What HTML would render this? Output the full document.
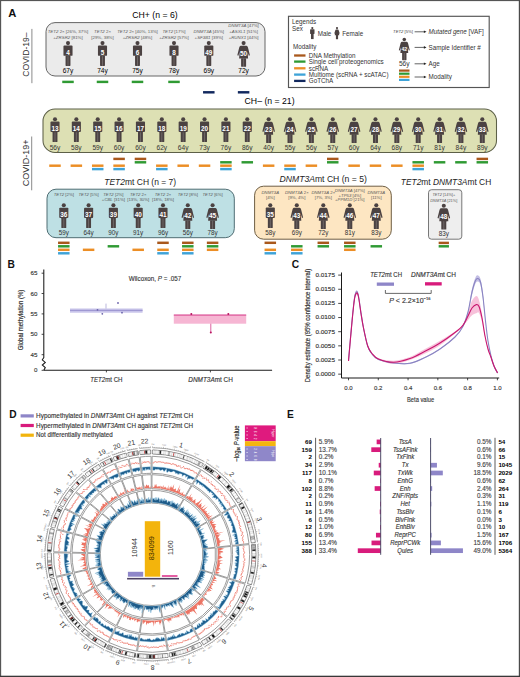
<!DOCTYPE html>
<html><head><meta charset="utf-8"><style>
html,body{margin:0;padding:0;background:#fff;}
#wrap{position:relative;width:520px;height:677px;overflow:hidden;background:#fff;}
svg text{font-family:"Liberation Sans",sans-serif;}
</style></head><body><div id="wrap">
<svg width="520" height="677" viewBox="0 0 520 677" font-family="Liberation Sans, sans-serif">
<rect x="0" y="0" width="520" height="677" fill="#ffffff"/>
<text x="8.20" y="16.70" font-size="11.2" fill="#111" font-weight="bold" >A</text>
<text x="28.60" y="76.70" font-size="8.6" fill="#333" textLength="44.30" lengthAdjust="spacingAndGlyphs" transform="rotate(-90 28.60 76.70)" >COVID-19–</text>
<line x1="31.9" y1="28.9" x2="31.9" y2="83.2" stroke="#8a8a8a" stroke-width="1"/>
<text x="28.60" y="186.20" font-size="8.6" fill="#333" textLength="46.60" lengthAdjust="spacingAndGlyphs" transform="rotate(-90 28.60 186.20)" >COVID-19+</text>
<line x1="31.7" y1="136.5" x2="31.7" y2="190.3" stroke="#8a8a8a" stroke-width="1"/>
<text x="155.00" y="18.00" font-size="8.7" text-anchor="middle" textLength="45.40" lengthAdjust="spacingAndGlyphs" >CH+ (n = 6)</text>
<rect x="46" y="22.6" width="219" height="53.4" rx="9" fill="#ebebeb" stroke="#666" stroke-width="1.0"/>
<g transform="translate(68.00 41.00) scale(1.0)"><g fill="#4b4242"><circle cx="0" cy="2.1" r="2.05"/><rect x="-4.55" y="4.5" width="9.1" height="10.3" rx="0.9"/><rect x="-2.45" y="14.5" width="4.9" height="10.4" rx="0.6"/></g><line x1="0" y1="15.2" x2="0" y2="24.9" stroke="#ffffff" stroke-opacity="0.45" stroke-width="0.45"/><text x="0" y="14.2" font-size="6.4" text-anchor="middle" fill="#ffffff" font-weight="bold">4</text></g>
<text x="68.00" y="73.00" font-size="7.13" text-anchor="middle" textLength="10.64" lengthAdjust="spacingAndGlyphs" >67y</text>
<text x="68.00" y="32.90" font-size="4.4" text-anchor="middle" fill="#5a5a5a"><tspan font-style="italic">TET2</tspan> 2× [26%, 37%]</text>
<text x="68.00" y="38.50" font-size="4.4" text-anchor="middle" fill="#5a5a5a">+<tspan font-style="italic">ZRSR2</tspan> [81%]</text>
<rect x="62.25" y="80.68" width="11.5" height="2.45" fill="#2f9a33"/>
<g transform="translate(102.50 41.00) scale(1.0)"><g fill="#4b4242"><circle cx="0" cy="2.1" r="2.05"/><rect x="-4.55" y="4.5" width="9.1" height="10.3" rx="0.9"/><rect x="-2.45" y="14.5" width="4.9" height="10.4" rx="0.6"/></g><line x1="0" y1="15.2" x2="0" y2="24.9" stroke="#ffffff" stroke-opacity="0.45" stroke-width="0.45"/><text x="0" y="14.2" font-size="6.4" text-anchor="middle" fill="#ffffff" font-weight="bold">5</text></g>
<text x="102.50" y="73.00" font-size="7.13" text-anchor="middle" textLength="10.64" lengthAdjust="spacingAndGlyphs" >74y</text>
<text x="102.50" y="32.90" font-size="4.4" text-anchor="middle" fill="#5a5a5a"><tspan font-style="italic">TET2</tspan> 2×</text>
<text x="102.50" y="38.50" font-size="4.4" text-anchor="middle" fill="#5a5a5a">[29%, 38%]</text>
<rect x="96.75" y="80.68" width="11.5" height="2.45" fill="#2f9a33"/>
<g transform="translate(137.50 41.00) scale(1.0)"><g fill="#4b4242"><circle cx="0" cy="2.1" r="2.05"/><rect x="-4.55" y="4.5" width="9.1" height="10.3" rx="0.9"/><rect x="-2.45" y="14.5" width="4.9" height="10.4" rx="0.6"/></g><line x1="0" y1="15.2" x2="0" y2="24.9" stroke="#ffffff" stroke-opacity="0.45" stroke-width="0.45"/><text x="0" y="14.2" font-size="6.4" text-anchor="middle" fill="#ffffff" font-weight="bold">6</text></g>
<text x="137.50" y="73.00" font-size="7.13" text-anchor="middle" textLength="10.64" lengthAdjust="spacingAndGlyphs" >75y</text>
<text x="137.50" y="32.90" font-size="4.4" text-anchor="middle" fill="#5a5a5a"><tspan font-style="italic">TET2</tspan> 2× [40%, 13%]</text>
<text x="137.50" y="38.50" font-size="4.4" text-anchor="middle" fill="#5a5a5a">+<tspan font-style="italic">ZRSR2</tspan> [48%]</text>
<rect x="131.75" y="80.68" width="11.5" height="2.45" fill="#2f9a33"/>
<g transform="translate(174.00 41.00) scale(1.0)"><g fill="#4b4242"><circle cx="0" cy="2.1" r="2.05"/><rect x="-4.55" y="4.5" width="9.1" height="10.3" rx="0.9"/><rect x="-2.45" y="14.5" width="4.9" height="10.4" rx="0.6"/></g><line x1="0" y1="15.2" x2="0" y2="24.9" stroke="#ffffff" stroke-opacity="0.45" stroke-width="0.45"/><text x="0" y="14.2" font-size="6.4" text-anchor="middle" fill="#ffffff" font-weight="bold">8</text></g>
<text x="174.00" y="73.00" font-size="7.13" text-anchor="middle" textLength="10.64" lengthAdjust="spacingAndGlyphs" >78y</text>
<text x="174.00" y="32.90" font-size="4.4" text-anchor="middle" fill="#5a5a5a"><tspan font-style="italic">TET2</tspan> [17%]</text>
<text x="174.00" y="38.50" font-size="4.4" text-anchor="middle" fill="#5a5a5a">+<tspan font-style="italic">ZRSR2</tspan> [57%]</text>
<rect x="168.25" y="80.68" width="11.5" height="2.45" fill="#2f9a33"/>
<g transform="translate(208.80 41.00) scale(1.0)"><g fill="#4b4242"><circle cx="0" cy="2.1" r="2.05"/><rect x="-4.55" y="4.5" width="9.1" height="10.3" rx="0.9"/><rect x="-2.45" y="14.5" width="4.9" height="10.4" rx="0.6"/></g><line x1="0" y1="15.2" x2="0" y2="24.9" stroke="#ffffff" stroke-opacity="0.45" stroke-width="0.45"/><text x="0" y="14.2" font-size="6.4" text-anchor="middle" fill="#ffffff" font-weight="bold">49</text></g>
<text x="208.80" y="73.00" font-size="7.13" text-anchor="middle" textLength="10.64" lengthAdjust="spacingAndGlyphs" >69y</text>
<text x="208.80" y="32.90" font-size="4.4" text-anchor="middle" fill="#5a5a5a"><tspan font-style="italic">DNMT3A</tspan> [45%]</text>
<text x="208.80" y="38.50" font-size="4.4" text-anchor="middle" fill="#5a5a5a">+<tspan font-style="italic">SF3B1</tspan> [39%]</text>
<rect x="203.05" y="91.08" width="11.5" height="2.45" fill="#12285e"/>
<g transform="translate(243.60 41.00) scale(1.0)"><g fill="#4b4242"><circle cx="0" cy="2.1" r="2.05"/><path d="M-2.9,4.7 L2.9,4.7 Q3.9,4.9 4.3,6.3 L6.3,14.3 L5.2,14.8 L4.0,11 L4.5,17.6 L-4.5,17.6 L-4.0,11 L-5.2,14.8 L-6.3,14.3 L-4.3,6.3 Q-3.9,4.9 -2.9,4.7 Z"/><rect x="-2.5" y="17.2" width="5.0" height="8.6" rx="0.5"/></g><line x1="0" y1="17.6" x2="0" y2="25.8" stroke="#ffffff" stroke-opacity="0.45" stroke-width="0.45"/><text x="0" y="15.2" font-size="6.4" text-anchor="middle" fill="#ffffff" font-weight="bold">50</text></g>
<text x="243.60" y="73.00" font-size="7.13" text-anchor="middle" textLength="10.64" lengthAdjust="spacingAndGlyphs" >72y</text>
<text x="243.60" y="27.20" font-size="4.4" text-anchor="middle" fill="#5a5a5a"><tspan font-style="italic">DNMT3A</tspan> [47%]</text>
<text x="243.60" y="32.90" font-size="4.4" text-anchor="middle" fill="#5a5a5a">+<tspan font-style="italic">ASXL1</tspan> [51%]</text>
<text x="243.60" y="38.50" font-size="4.4" text-anchor="middle" fill="#5a5a5a">+<tspan font-style="italic">RUNX1</tspan> [44%]</text>
<rect x="237.85" y="91.08" width="11.5" height="2.45" fill="#12285e"/>
<rect x="288.5" y="16.3" width="200.7" height="71.2" fill="#ffffff" stroke="#555" stroke-width="1.15"/>
<text x="292.00" y="24.00" font-size="6.27" fill="#333" >Legends</text>
<text x="292.00" y="30.80" font-size="6.27" fill="#333" >Sex</text>
<g transform="translate(312.3 27.0) scale(0.47)" fill="#4b4242"><circle cx="0" cy="2.3" r="2.3"/><rect x="-4.7" y="5" width="9.4" height="10" rx="1"/><rect x="-2.8" y="14.5" width="5.6" height="11.2"/></g>
<text x="317.70" y="35.60" font-size="6.27" fill="#333" >Male</text>
<g transform="translate(337 27.0) scale(0.47)" fill="#4b4242"><circle cx="0" cy="2.3" r="2.3"/><path d="M-2.5,5.2 L2.5,5.2 L3.8,7.5 L6,14.3 L5,14.6 L4,12 L4.8,17.4 L-4.8,17.4 L-4,12 L-5,14.6 L-6,14.3 L-3.8,7.5 Z"/><rect x="-2.3" y="17" width="4.6" height="9"/></g>
<text x="342.30" y="35.60" font-size="6.27" fill="#333" >Female</text>
<text x="293.00" y="48.60" font-size="6.27" fill="#333" >Modality</text>
<rect x="294.1" y="54.35" width="11.4" height="2.3" fill="#a9581c"/>
<text x="308.80" y="57.70" font-size="6.27" fill="#333" >DNA Methylation</text>
<rect x="294.1" y="60.45" width="11.4" height="2.3" fill="#2f9a33"/>
<text x="308.80" y="63.80" font-size="6.27" fill="#333" >Single cell proteogenomics</text>
<rect x="294.1" y="67.15" width="11.4" height="2.3" fill="#ec8e25"/>
<text x="308.80" y="70.50" font-size="6.27" fill="#333" >scRNA</text>
<rect x="294.1" y="73.45" width="11.4" height="2.3" fill="#3ea3d8"/>
<text x="308.80" y="76.80" font-size="6.27" fill="#333" >Multiome (scRNA + scATAC)</text>
<rect x="294.1" y="79.75" width="11.4" height="2.3" fill="#12285e"/>
<text x="308.80" y="83.10" font-size="6.27" fill="#333" >GoTChA</text>
<text x="403" y="33.2" font-size="4.2" text-anchor="middle" fill="#444"><tspan font-style="italic">TET2</tspan> [5%]</text>
<line x1="414.6" y1="31.8" x2="424.5" y2="31.8" stroke="#222" stroke-width="0.7"/><path d="M423.9,30.5 L426.5,31.8 L423.9,33.1 Z" fill="#222"/>
<text x="428.5" y="33.9" font-size="6.27" fill="#333"><tspan font-style="italic">Mutated gene</tspan> [VAF]</text>
<g transform="translate(404.30 37.70) scale(0.87)"><g fill="#4b4242"><circle cx="0" cy="2.1" r="2.05"/><path d="M-2.9,4.7 L2.9,4.7 Q3.9,4.9 4.3,6.3 L6.3,14.3 L5.2,14.8 L4.0,11 L4.5,17.6 L-4.5,17.6 L-4.0,11 L-5.2,14.8 L-6.3,14.3 L-4.3,6.3 Q-3.9,4.9 -2.9,4.7 Z"/><rect x="-2.5" y="17.2" width="5.0" height="8.6" rx="0.5"/></g><line x1="0" y1="17.6" x2="0" y2="25.8" stroke="#ffffff" stroke-opacity="0.45" stroke-width="0.45"/><text x="0" y="15.2" font-size="6.0" text-anchor="middle" fill="#ffffff" font-weight="bold">42</text></g>
<line x1="414.6" y1="47.4" x2="424.5" y2="47.4" stroke="#222" stroke-width="0.7"/><path d="M423.9,46.1 L426.5,47.4 L423.9,48.699999999999996 Z" fill="#222"/>
<text x="428.50" y="49.60" font-size="6.27" fill="#333" >Sample Identifier #</text>
<text x="404.30" y="66.00" font-size="6.7" text-anchor="middle" fill="#333" >56y</text>
<line x1="414.6" y1="63.8" x2="424.5" y2="63.8" stroke="#222" stroke-width="0.7"/><path d="M423.9,62.5 L426.5,63.8 L423.9,65.1 Z" fill="#222"/>
<text x="428.50" y="66.00" font-size="6.27" fill="#333" >Age</text>
<rect x="399" y="69.50" width="10.5" height="2.2" fill="#a9581c"/>
<rect x="399" y="72.60" width="10.5" height="2.2" fill="#2f9a33"/>
<rect x="399" y="75.70" width="10.5" height="2.2" fill="#ec8e25"/>
<rect x="399" y="78.80" width="10.5" height="2.2" fill="#3ea3d8"/>
<line x1="414.6" y1="77.0" x2="424.5" y2="77.0" stroke="#222" stroke-width="0.7"/><path d="M423.9,75.7 L426.5,77.0 L423.9,78.3 Z" fill="#222"/>
<text x="428.50" y="79.20" font-size="6.27" fill="#333" >Modality</text>
<text x="269.60" y="103.80" font-size="8.7" text-anchor="middle" textLength="50.00" lengthAdjust="spacingAndGlyphs" >CH– (n = 21)</text>
<rect x="43" y="109.0" width="453.5" height="43.5" rx="12" fill="#dde0b4" stroke="#5d6048" stroke-width="1.05"/>
<g transform="translate(55.00 117.10) scale(1.0)"><g fill="#4b4242"><circle cx="0" cy="2.1" r="2.05"/><rect x="-4.55" y="4.5" width="9.1" height="10.3" rx="0.9"/><rect x="-2.45" y="14.5" width="4.9" height="10.4" rx="0.6"/></g><line x1="0" y1="15.2" x2="0" y2="24.9" stroke="#ffffff" stroke-opacity="0.45" stroke-width="0.45"/><text x="0" y="14.2" font-size="6.4" text-anchor="middle" fill="#ffffff" font-weight="bold">13</text></g>
<text x="55.00" y="149.70" font-size="6.6" text-anchor="middle" fill="#333" >56y</text>
<rect x="49.25" y="164.47" width="11.5" height="2.45" fill="#ec8e25"/>
<g transform="translate(76.36 117.10) scale(1.0)"><g fill="#4b4242"><circle cx="0" cy="2.1" r="2.05"/><rect x="-4.55" y="4.5" width="9.1" height="10.3" rx="0.9"/><rect x="-2.45" y="14.5" width="4.9" height="10.4" rx="0.6"/></g><line x1="0" y1="15.2" x2="0" y2="24.9" stroke="#ffffff" stroke-opacity="0.45" stroke-width="0.45"/><text x="0" y="14.2" font-size="6.4" text-anchor="middle" fill="#ffffff" font-weight="bold">14</text></g>
<text x="76.36" y="149.70" font-size="6.6" text-anchor="middle" fill="#333" >58y</text>
<rect x="70.61" y="164.47" width="11.5" height="2.45" fill="#ec8e25"/>
<g transform="translate(97.73 117.10) scale(1.0)"><g fill="#4b4242"><circle cx="0" cy="2.1" r="2.05"/><rect x="-4.55" y="4.5" width="9.1" height="10.3" rx="0.9"/><rect x="-2.45" y="14.5" width="4.9" height="10.4" rx="0.6"/></g><line x1="0" y1="15.2" x2="0" y2="24.9" stroke="#ffffff" stroke-opacity="0.45" stroke-width="0.45"/><text x="0" y="14.2" font-size="6.4" text-anchor="middle" fill="#ffffff" font-weight="bold">15</text></g>
<text x="97.73" y="149.70" font-size="6.6" text-anchor="middle" fill="#333" >59y</text>
<rect x="91.98" y="164.47" width="11.5" height="2.45" fill="#ec8e25"/>
<rect x="91.98" y="167.88" width="11.5" height="2.45" fill="#3ea3d8"/>
<g transform="translate(119.09 117.10) scale(1.0)"><g fill="#4b4242"><circle cx="0" cy="2.1" r="2.05"/><rect x="-4.55" y="4.5" width="9.1" height="10.3" rx="0.9"/><rect x="-2.45" y="14.5" width="4.9" height="10.4" rx="0.6"/></g><line x1="0" y1="15.2" x2="0" y2="24.9" stroke="#ffffff" stroke-opacity="0.45" stroke-width="0.45"/><text x="0" y="14.2" font-size="6.4" text-anchor="middle" fill="#ffffff" font-weight="bold">16</text></g>
<text x="119.09" y="149.70" font-size="6.6" text-anchor="middle" fill="#333" >60y</text>
<rect x="113.34" y="157.68" width="11.5" height="2.45" fill="#a9581c"/>
<rect x="113.34" y="164.47" width="11.5" height="2.45" fill="#ec8e25"/>
<rect x="113.34" y="167.88" width="11.5" height="2.45" fill="#3ea3d8"/>
<g transform="translate(140.46 117.10) scale(1.0)"><g fill="#4b4242"><circle cx="0" cy="2.1" r="2.05"/><rect x="-4.55" y="4.5" width="9.1" height="10.3" rx="0.9"/><rect x="-2.45" y="14.5" width="4.9" height="10.4" rx="0.6"/></g><line x1="0" y1="15.2" x2="0" y2="24.9" stroke="#ffffff" stroke-opacity="0.45" stroke-width="0.45"/><text x="0" y="14.2" font-size="6.4" text-anchor="middle" fill="#ffffff" font-weight="bold">17</text></g>
<text x="140.46" y="149.70" font-size="6.6" text-anchor="middle" fill="#333" >60y</text>
<rect x="134.71" y="157.68" width="11.5" height="2.45" fill="#a9581c"/>
<rect x="134.71" y="161.08" width="11.5" height="2.45" fill="#2f9a33"/>
<g transform="translate(161.82 117.10) scale(1.0)"><g fill="#4b4242"><circle cx="0" cy="2.1" r="2.05"/><rect x="-4.55" y="4.5" width="9.1" height="10.3" rx="0.9"/><rect x="-2.45" y="14.5" width="4.9" height="10.4" rx="0.6"/></g><line x1="0" y1="15.2" x2="0" y2="24.9" stroke="#ffffff" stroke-opacity="0.45" stroke-width="0.45"/><text x="0" y="14.2" font-size="6.4" text-anchor="middle" fill="#ffffff" font-weight="bold">18</text></g>
<text x="161.82" y="149.70" font-size="6.6" text-anchor="middle" fill="#333" >62y</text>
<rect x="156.07" y="164.47" width="11.5" height="2.45" fill="#ec8e25"/>
<rect x="156.07" y="167.88" width="11.5" height="2.45" fill="#3ea3d8"/>
<g transform="translate(183.19 117.10) scale(1.0)"><g fill="#4b4242"><circle cx="0" cy="2.1" r="2.05"/><rect x="-4.55" y="4.5" width="9.1" height="10.3" rx="0.9"/><rect x="-2.45" y="14.5" width="4.9" height="10.4" rx="0.6"/></g><line x1="0" y1="15.2" x2="0" y2="24.9" stroke="#ffffff" stroke-opacity="0.45" stroke-width="0.45"/><text x="0" y="14.2" font-size="6.4" text-anchor="middle" fill="#ffffff" font-weight="bold">19</text></g>
<text x="183.19" y="149.70" font-size="6.6" text-anchor="middle" fill="#333" >64y</text>
<rect x="177.44" y="164.47" width="11.5" height="2.45" fill="#ec8e25"/>
<g transform="translate(204.55 117.10) scale(1.0)"><g fill="#4b4242"><circle cx="0" cy="2.1" r="2.05"/><rect x="-4.55" y="4.5" width="9.1" height="10.3" rx="0.9"/><rect x="-2.45" y="14.5" width="4.9" height="10.4" rx="0.6"/></g><line x1="0" y1="15.2" x2="0" y2="24.9" stroke="#ffffff" stroke-opacity="0.45" stroke-width="0.45"/><text x="0" y="14.2" font-size="6.4" text-anchor="middle" fill="#ffffff" font-weight="bold">20</text></g>
<text x="204.55" y="149.70" font-size="6.6" text-anchor="middle" fill="#333" >73y</text>
<rect x="198.80" y="164.47" width="11.5" height="2.45" fill="#ec8e25"/>
<g transform="translate(225.92 117.10) scale(1.0)"><g fill="#4b4242"><circle cx="0" cy="2.1" r="2.05"/><rect x="-4.55" y="4.5" width="9.1" height="10.3" rx="0.9"/><rect x="-2.45" y="14.5" width="4.9" height="10.4" rx="0.6"/></g><line x1="0" y1="15.2" x2="0" y2="24.9" stroke="#ffffff" stroke-opacity="0.45" stroke-width="0.45"/><text x="0" y="14.2" font-size="6.4" text-anchor="middle" fill="#ffffff" font-weight="bold">21</text></g>
<text x="225.92" y="149.70" font-size="6.6" text-anchor="middle" fill="#333" >76y</text>
<rect x="220.17" y="161.08" width="11.5" height="2.45" fill="#2f9a33"/>
<rect x="220.17" y="164.47" width="11.5" height="2.45" fill="#ec8e25"/>
<rect x="220.17" y="167.88" width="11.5" height="2.45" fill="#3ea3d8"/>
<g transform="translate(247.28 117.10) scale(1.0)"><g fill="#4b4242"><circle cx="0" cy="2.1" r="2.05"/><rect x="-4.55" y="4.5" width="9.1" height="10.3" rx="0.9"/><rect x="-2.45" y="14.5" width="4.9" height="10.4" rx="0.6"/></g><line x1="0" y1="15.2" x2="0" y2="24.9" stroke="#ffffff" stroke-opacity="0.45" stroke-width="0.45"/><text x="0" y="14.2" font-size="6.4" text-anchor="middle" fill="#ffffff" font-weight="bold">22</text></g>
<text x="247.28" y="149.70" font-size="6.6" text-anchor="middle" fill="#333" >86y</text>
<rect x="241.53" y="161.08" width="11.5" height="2.45" fill="#2f9a33"/>
<g transform="translate(268.65 117.10) scale(1.0)"><g fill="#4b4242"><circle cx="0" cy="2.1" r="2.05"/><path d="M-2.9,4.7 L2.9,4.7 Q3.9,4.9 4.3,6.3 L6.3,14.3 L5.2,14.8 L4.0,11 L4.5,17.6 L-4.5,17.6 L-4.0,11 L-5.2,14.8 L-6.3,14.3 L-4.3,6.3 Q-3.9,4.9 -2.9,4.7 Z"/><rect x="-2.5" y="17.2" width="5.0" height="8.6" rx="0.5"/></g><line x1="0" y1="17.6" x2="0" y2="25.8" stroke="#ffffff" stroke-opacity="0.45" stroke-width="0.45"/><text x="0" y="15.2" font-size="6.4" text-anchor="middle" fill="#ffffff" font-weight="bold">23</text></g>
<text x="268.65" y="149.70" font-size="6.6" text-anchor="middle" fill="#333" >40y</text>
<rect x="262.90" y="164.47" width="11.5" height="2.45" fill="#ec8e25"/>
<g transform="translate(290.01 117.10) scale(1.0)"><g fill="#4b4242"><circle cx="0" cy="2.1" r="2.05"/><path d="M-2.9,4.7 L2.9,4.7 Q3.9,4.9 4.3,6.3 L6.3,14.3 L5.2,14.8 L4.0,11 L4.5,17.6 L-4.5,17.6 L-4.0,11 L-5.2,14.8 L-6.3,14.3 L-4.3,6.3 Q-3.9,4.9 -2.9,4.7 Z"/><rect x="-2.5" y="17.2" width="5.0" height="8.6" rx="0.5"/></g><line x1="0" y1="17.6" x2="0" y2="25.8" stroke="#ffffff" stroke-opacity="0.45" stroke-width="0.45"/><text x="0" y="15.2" font-size="6.4" text-anchor="middle" fill="#ffffff" font-weight="bold">24</text></g>
<text x="290.01" y="149.70" font-size="6.6" text-anchor="middle" fill="#333" >55y</text>
<rect x="284.26" y="164.47" width="11.5" height="2.45" fill="#ec8e25"/>
<rect x="284.26" y="167.88" width="11.5" height="2.45" fill="#3ea3d8"/>
<g transform="translate(311.38 117.10) scale(1.0)"><g fill="#4b4242"><circle cx="0" cy="2.1" r="2.05"/><path d="M-2.9,4.7 L2.9,4.7 Q3.9,4.9 4.3,6.3 L6.3,14.3 L5.2,14.8 L4.0,11 L4.5,17.6 L-4.5,17.6 L-4.0,11 L-5.2,14.8 L-6.3,14.3 L-4.3,6.3 Q-3.9,4.9 -2.9,4.7 Z"/><rect x="-2.5" y="17.2" width="5.0" height="8.6" rx="0.5"/></g><line x1="0" y1="17.6" x2="0" y2="25.8" stroke="#ffffff" stroke-opacity="0.45" stroke-width="0.45"/><text x="0" y="15.2" font-size="6.4" text-anchor="middle" fill="#ffffff" font-weight="bold">25</text></g>
<text x="311.38" y="149.70" font-size="6.6" text-anchor="middle" fill="#333" >56y</text>
<rect x="305.63" y="164.47" width="11.5" height="2.45" fill="#ec8e25"/>
<g transform="translate(332.75 117.10) scale(1.0)"><g fill="#4b4242"><circle cx="0" cy="2.1" r="2.05"/><path d="M-2.9,4.7 L2.9,4.7 Q3.9,4.9 4.3,6.3 L6.3,14.3 L5.2,14.8 L4.0,11 L4.5,17.6 L-4.5,17.6 L-4.0,11 L-5.2,14.8 L-6.3,14.3 L-4.3,6.3 Q-3.9,4.9 -2.9,4.7 Z"/><rect x="-2.5" y="17.2" width="5.0" height="8.6" rx="0.5"/></g><line x1="0" y1="17.6" x2="0" y2="25.8" stroke="#ffffff" stroke-opacity="0.45" stroke-width="0.45"/><text x="0" y="15.2" font-size="6.4" text-anchor="middle" fill="#ffffff" font-weight="bold">26</text></g>
<text x="332.75" y="149.70" font-size="6.6" text-anchor="middle" fill="#333" >57y</text>
<rect x="327.00" y="157.68" width="11.5" height="2.45" fill="#a9581c"/>
<rect x="327.00" y="161.08" width="11.5" height="2.45" fill="#2f9a33"/>
<g transform="translate(354.11 117.10) scale(1.0)"><g fill="#4b4242"><circle cx="0" cy="2.1" r="2.05"/><path d="M-2.9,4.7 L2.9,4.7 Q3.9,4.9 4.3,6.3 L6.3,14.3 L5.2,14.8 L4.0,11 L4.5,17.6 L-4.5,17.6 L-4.0,11 L-5.2,14.8 L-6.3,14.3 L-4.3,6.3 Q-3.9,4.9 -2.9,4.7 Z"/><rect x="-2.5" y="17.2" width="5.0" height="8.6" rx="0.5"/></g><line x1="0" y1="17.6" x2="0" y2="25.8" stroke="#ffffff" stroke-opacity="0.45" stroke-width="0.45"/><text x="0" y="15.2" font-size="6.4" text-anchor="middle" fill="#ffffff" font-weight="bold">27</text></g>
<text x="354.11" y="149.70" font-size="6.6" text-anchor="middle" fill="#333" >60y</text>
<rect x="348.36" y="164.47" width="11.5" height="2.45" fill="#ec8e25"/>
<g transform="translate(375.47 117.10) scale(1.0)"><g fill="#4b4242"><circle cx="0" cy="2.1" r="2.05"/><path d="M-2.9,4.7 L2.9,4.7 Q3.9,4.9 4.3,6.3 L6.3,14.3 L5.2,14.8 L4.0,11 L4.5,17.6 L-4.5,17.6 L-4.0,11 L-5.2,14.8 L-6.3,14.3 L-4.3,6.3 Q-3.9,4.9 -2.9,4.7 Z"/><rect x="-2.5" y="17.2" width="5.0" height="8.6" rx="0.5"/></g><line x1="0" y1="17.6" x2="0" y2="25.8" stroke="#ffffff" stroke-opacity="0.45" stroke-width="0.45"/><text x="0" y="15.2" font-size="6.4" text-anchor="middle" fill="#ffffff" font-weight="bold">28</text></g>
<text x="375.47" y="149.70" font-size="6.6" text-anchor="middle" fill="#333" >64y</text>
<rect x="369.72" y="164.47" width="11.5" height="2.45" fill="#ec8e25"/>
<g transform="translate(396.84 117.10) scale(1.0)"><g fill="#4b4242"><circle cx="0" cy="2.1" r="2.05"/><path d="M-2.9,4.7 L2.9,4.7 Q3.9,4.9 4.3,6.3 L6.3,14.3 L5.2,14.8 L4.0,11 L4.5,17.6 L-4.5,17.6 L-4.0,11 L-5.2,14.8 L-6.3,14.3 L-4.3,6.3 Q-3.9,4.9 -2.9,4.7 Z"/><rect x="-2.5" y="17.2" width="5.0" height="8.6" rx="0.5"/></g><line x1="0" y1="17.6" x2="0" y2="25.8" stroke="#ffffff" stroke-opacity="0.45" stroke-width="0.45"/><text x="0" y="15.2" font-size="6.4" text-anchor="middle" fill="#ffffff" font-weight="bold">29</text></g>
<text x="396.84" y="149.70" font-size="6.6" text-anchor="middle" fill="#333" >68y</text>
<rect x="391.09" y="164.47" width="11.5" height="2.45" fill="#ec8e25"/>
<g transform="translate(418.20 117.10) scale(1.0)"><g fill="#4b4242"><circle cx="0" cy="2.1" r="2.05"/><path d="M-2.9,4.7 L2.9,4.7 Q3.9,4.9 4.3,6.3 L6.3,14.3 L5.2,14.8 L4.0,11 L4.5,17.6 L-4.5,17.6 L-4.0,11 L-5.2,14.8 L-6.3,14.3 L-4.3,6.3 Q-3.9,4.9 -2.9,4.7 Z"/><rect x="-2.5" y="17.2" width="5.0" height="8.6" rx="0.5"/></g><line x1="0" y1="17.6" x2="0" y2="25.8" stroke="#ffffff" stroke-opacity="0.45" stroke-width="0.45"/><text x="0" y="15.2" font-size="6.4" text-anchor="middle" fill="#ffffff" font-weight="bold">30</text></g>
<text x="418.20" y="149.70" font-size="6.6" text-anchor="middle" fill="#333" >71y</text>
<rect x="412.45" y="161.08" width="11.5" height="2.45" fill="#2f9a33"/>
<rect x="412.45" y="164.47" width="11.5" height="2.45" fill="#ec8e25"/>
<rect x="412.45" y="167.88" width="11.5" height="2.45" fill="#3ea3d8"/>
<g transform="translate(439.57 117.10) scale(1.0)"><g fill="#4b4242"><circle cx="0" cy="2.1" r="2.05"/><path d="M-2.9,4.7 L2.9,4.7 Q3.9,4.9 4.3,6.3 L6.3,14.3 L5.2,14.8 L4.0,11 L4.5,17.6 L-4.5,17.6 L-4.0,11 L-5.2,14.8 L-6.3,14.3 L-4.3,6.3 Q-3.9,4.9 -2.9,4.7 Z"/><rect x="-2.5" y="17.2" width="5.0" height="8.6" rx="0.5"/></g><line x1="0" y1="17.6" x2="0" y2="25.8" stroke="#ffffff" stroke-opacity="0.45" stroke-width="0.45"/><text x="0" y="15.2" font-size="6.4" text-anchor="middle" fill="#ffffff" font-weight="bold">31</text></g>
<text x="439.57" y="149.70" font-size="6.6" text-anchor="middle" fill="#333" >81y</text>
<rect x="433.82" y="161.08" width="11.5" height="2.45" fill="#2f9a33"/>
<g transform="translate(460.93 117.10) scale(1.0)"><g fill="#4b4242"><circle cx="0" cy="2.1" r="2.05"/><path d="M-2.9,4.7 L2.9,4.7 Q3.9,4.9 4.3,6.3 L6.3,14.3 L5.2,14.8 L4.0,11 L4.5,17.6 L-4.5,17.6 L-4.0,11 L-5.2,14.8 L-6.3,14.3 L-4.3,6.3 Q-3.9,4.9 -2.9,4.7 Z"/><rect x="-2.5" y="17.2" width="5.0" height="8.6" rx="0.5"/></g><line x1="0" y1="17.6" x2="0" y2="25.8" stroke="#ffffff" stroke-opacity="0.45" stroke-width="0.45"/><text x="0" y="15.2" font-size="6.4" text-anchor="middle" fill="#ffffff" font-weight="bold">32</text></g>
<text x="460.93" y="149.70" font-size="6.6" text-anchor="middle" fill="#333" >84y</text>
<rect x="455.18" y="161.08" width="11.5" height="2.45" fill="#2f9a33"/>
<g transform="translate(482.30 117.10) scale(1.0)"><g fill="#4b4242"><circle cx="0" cy="2.1" r="2.05"/><path d="M-2.9,4.7 L2.9,4.7 Q3.9,4.9 4.3,6.3 L6.3,14.3 L5.2,14.8 L4.0,11 L4.5,17.6 L-4.5,17.6 L-4.0,11 L-5.2,14.8 L-6.3,14.3 L-4.3,6.3 Q-3.9,4.9 -2.9,4.7 Z"/><rect x="-2.5" y="17.2" width="5.0" height="8.6" rx="0.5"/></g><line x1="0" y1="17.6" x2="0" y2="25.8" stroke="#ffffff" stroke-opacity="0.45" stroke-width="0.45"/><text x="0" y="15.2" font-size="6.4" text-anchor="middle" fill="#ffffff" font-weight="bold">33</text></g>
<text x="482.30" y="149.70" font-size="6.6" text-anchor="middle" fill="#333" >89y</text>
<rect x="476.55" y="157.68" width="11.5" height="2.45" fill="#a9581c"/>
<rect x="476.55" y="161.08" width="11.5" height="2.45" fill="#2f9a33"/>
<text x="140.2" y="185.0" font-size="8.8" text-anchor="middle" fill="#222" textLength="71.8" lengthAdjust="spacingAndGlyphs"><tspan font-style="italic">TET2</tspan>mt CH (n = 7)</text>
<rect x="47" y="189.2" width="187.3" height="48.5" rx="9" fill="#bee0e4" stroke="#4f6d73" stroke-width="1.0"/>
<g transform="translate(63.80 203.20) scale(1.0)"><g fill="#4b4242"><circle cx="0" cy="2.1" r="2.05"/><rect x="-4.55" y="4.5" width="9.1" height="10.3" rx="0.9"/><rect x="-2.45" y="14.5" width="4.9" height="10.4" rx="0.6"/></g><line x1="0" y1="15.2" x2="0" y2="24.9" stroke="#ffffff" stroke-opacity="0.45" stroke-width="0.45"/><text x="0" y="14.2" font-size="6.4" text-anchor="middle" fill="#ffffff" font-weight="bold">36</text></g>
<text x="63.80" y="234.70" font-size="6.3" text-anchor="middle" fill="#333" >59y</text>
<text x="63.80" y="196.00" font-size="4.3" text-anchor="middle" fill="#5a5a5a"><tspan font-style="italic">TET2</tspan> [2%]</text>
<rect x="58.05" y="241.58" width="11.5" height="2.45" fill="#a9581c"/>
<rect x="58.05" y="245.08" width="11.5" height="2.45" fill="#2f9a33"/>
<rect x="58.05" y="248.58" width="11.5" height="2.45" fill="#ec8e25"/>
<rect x="58.05" y="252.08" width="11.5" height="2.45" fill="#3ea3d8"/>
<g transform="translate(88.60 203.20) scale(1.0)"><g fill="#4b4242"><circle cx="0" cy="2.1" r="2.05"/><rect x="-4.55" y="4.5" width="9.1" height="10.3" rx="0.9"/><rect x="-2.45" y="14.5" width="4.9" height="10.4" rx="0.6"/></g><line x1="0" y1="15.2" x2="0" y2="24.9" stroke="#ffffff" stroke-opacity="0.45" stroke-width="0.45"/><text x="0" y="14.2" font-size="6.4" text-anchor="middle" fill="#ffffff" font-weight="bold">37</text></g>
<text x="88.60" y="234.70" font-size="6.3" text-anchor="middle" fill="#333" >64y</text>
<text x="88.60" y="196.00" font-size="4.3" text-anchor="middle" fill="#5a5a5a"><tspan font-style="italic">TET2</tspan> [5%]</text>
<rect x="82.85" y="248.58" width="11.5" height="2.45" fill="#ec8e25"/>
<g transform="translate(113.40 203.20) scale(1.0)"><g fill="#4b4242"><circle cx="0" cy="2.1" r="2.05"/><rect x="-4.55" y="4.5" width="9.1" height="10.3" rx="0.9"/><rect x="-2.45" y="14.5" width="4.9" height="10.4" rx="0.6"/></g><line x1="0" y1="15.2" x2="0" y2="24.9" stroke="#ffffff" stroke-opacity="0.45" stroke-width="0.45"/><text x="0" y="14.2" font-size="6.4" text-anchor="middle" fill="#ffffff" font-weight="bold">39</text></g>
<text x="113.40" y="234.70" font-size="6.3" text-anchor="middle" fill="#333" >90y</text>
<text x="113.40" y="196.00" font-size="4.3" text-anchor="middle" fill="#5a5a5a"><tspan font-style="italic">TET2</tspan> [2%]</text>
<text x="113.40" y="200.60" font-size="4.3" text-anchor="middle" fill="#5a5a5a">+<tspan font-style="italic">CBL</tspan> [31%]</text>
<rect x="107.65" y="245.08" width="11.5" height="2.45" fill="#2f9a33"/>
<g transform="translate(138.20 203.20) scale(1.0)"><g fill="#4b4242"><circle cx="0" cy="2.1" r="2.05"/><rect x="-4.55" y="4.5" width="9.1" height="10.3" rx="0.9"/><rect x="-2.45" y="14.5" width="4.9" height="10.4" rx="0.6"/></g><line x1="0" y1="15.2" x2="0" y2="24.9" stroke="#ffffff" stroke-opacity="0.45" stroke-width="0.45"/><text x="0" y="14.2" font-size="6.4" text-anchor="middle" fill="#ffffff" font-weight="bold">40</text></g>
<text x="138.20" y="234.70" font-size="6.3" text-anchor="middle" fill="#333" >91y</text>
<text x="138.20" y="196.00" font-size="4.3" text-anchor="middle" fill="#5a5a5a"><tspan font-style="italic">TET2</tspan> 2×</text>
<text x="138.20" y="200.60" font-size="4.3" text-anchor="middle" fill="#5a5a5a">[13%, 30%]</text>
<rect x="132.45" y="248.58" width="11.5" height="2.45" fill="#ec8e25"/>
<g transform="translate(163.00 203.20) scale(1.0)"><g fill="#4b4242"><circle cx="0" cy="2.1" r="2.05"/><rect x="-4.55" y="4.5" width="9.1" height="10.3" rx="0.9"/><rect x="-2.45" y="14.5" width="4.9" height="10.4" rx="0.6"/></g><line x1="0" y1="15.2" x2="0" y2="24.9" stroke="#ffffff" stroke-opacity="0.45" stroke-width="0.45"/><text x="0" y="14.2" font-size="6.4" text-anchor="middle" fill="#ffffff" font-weight="bold">41</text></g>
<text x="163.00" y="234.70" font-size="6.3" text-anchor="middle" fill="#333" >96y</text>
<text x="163.00" y="196.00" font-size="4.3" text-anchor="middle" fill="#5a5a5a"><tspan font-style="italic">TET2</tspan> 2×</text>
<text x="163.00" y="200.60" font-size="4.3" text-anchor="middle" fill="#5a5a5a">[18%, 18%]</text>
<rect x="157.25" y="241.58" width="11.5" height="2.45" fill="#a9581c"/>
<rect x="157.25" y="248.58" width="11.5" height="2.45" fill="#ec8e25"/>
<rect x="157.25" y="252.08" width="11.5" height="2.45" fill="#3ea3d8"/>
<g transform="translate(187.80 203.20) scale(1.0)"><g fill="#4b4242"><circle cx="0" cy="2.1" r="2.05"/><path d="M-2.9,4.7 L2.9,4.7 Q3.9,4.9 4.3,6.3 L6.3,14.3 L5.2,14.8 L4.0,11 L4.5,17.6 L-4.5,17.6 L-4.0,11 L-5.2,14.8 L-6.3,14.3 L-4.3,6.3 Q-3.9,4.9 -2.9,4.7 Z"/><rect x="-2.5" y="17.2" width="5.0" height="8.6" rx="0.5"/></g><line x1="0" y1="17.6" x2="0" y2="25.8" stroke="#ffffff" stroke-opacity="0.45" stroke-width="0.45"/><text x="0" y="15.2" font-size="6.4" text-anchor="middle" fill="#ffffff" font-weight="bold">42</text></g>
<text x="187.80" y="234.70" font-size="6.3" text-anchor="middle" fill="#333" >56y</text>
<text x="187.80" y="196.00" font-size="4.3" text-anchor="middle" fill="#5a5a5a"><tspan font-style="italic">TET2</tspan> [8%]</text>
<rect x="182.05" y="241.58" width="11.5" height="2.45" fill="#a9581c"/>
<rect x="182.05" y="245.08" width="11.5" height="2.45" fill="#2f9a33"/>
<rect x="182.05" y="248.58" width="11.5" height="2.45" fill="#ec8e25"/>
<rect x="182.05" y="252.08" width="11.5" height="2.45" fill="#3ea3d8"/>
<g transform="translate(212.60 203.20) scale(1.0)"><g fill="#4b4242"><circle cx="0" cy="2.1" r="2.05"/><path d="M-2.9,4.7 L2.9,4.7 Q3.9,4.9 4.3,6.3 L6.3,14.3 L5.2,14.8 L4.0,11 L4.5,17.6 L-4.5,17.6 L-4.0,11 L-5.2,14.8 L-6.3,14.3 L-4.3,6.3 Q-3.9,4.9 -2.9,4.7 Z"/><rect x="-2.5" y="17.2" width="5.0" height="8.6" rx="0.5"/></g><line x1="0" y1="17.6" x2="0" y2="25.8" stroke="#ffffff" stroke-opacity="0.45" stroke-width="0.45"/><text x="0" y="15.2" font-size="6.4" text-anchor="middle" fill="#ffffff" font-weight="bold">45</text></g>
<text x="212.60" y="234.70" font-size="6.3" text-anchor="middle" fill="#333" >78y</text>
<text x="212.60" y="196.00" font-size="4.3" text-anchor="middle" fill="#5a5a5a"><tspan font-style="italic">TET2</tspan> [6%]</text>
<rect x="206.85" y="241.58" width="11.5" height="2.45" fill="#a9581c"/>
<rect x="206.85" y="245.08" width="11.5" height="2.45" fill="#2f9a33"/>
<rect x="206.85" y="248.58" width="11.5" height="2.45" fill="#ec8e25"/>
<text x="323.2" y="182.3" font-size="8.8" text-anchor="middle" fill="#222" textLength="87.4" lengthAdjust="spacingAndGlyphs"><tspan font-style="italic">DNMT3A</tspan>mt CH (n = 5)</text>
<rect x="254.6" y="186.2" width="136.7" height="53" rx="9" fill="#fde6c2" stroke="#6e5e44" stroke-width="1.0"/>
<g transform="translate(270.30 203.10) scale(1.0)"><g fill="#4b4242"><circle cx="0" cy="2.1" r="2.05"/><rect x="-4.55" y="4.5" width="9.1" height="10.3" rx="0.9"/><rect x="-2.45" y="14.5" width="4.9" height="10.4" rx="0.6"/></g><line x1="0" y1="15.2" x2="0" y2="24.9" stroke="#ffffff" stroke-opacity="0.45" stroke-width="0.45"/><text x="0" y="14.2" font-size="6.4" text-anchor="middle" fill="#ffffff" font-weight="bold">35</text></g>
<text x="270.30" y="235.30" font-size="6.3" text-anchor="middle" fill="#333" >58y</text>
<text x="270.30" y="194.30" font-size="4.3" text-anchor="middle" fill="#5a5a5a"><tspan font-style="italic">DNMT3A</tspan></text>
<text x="270.30" y="199.30" font-size="4.3" text-anchor="middle" fill="#5a5a5a">[4%]</text>
<rect x="264.55" y="241.58" width="11.5" height="2.45" fill="#a9581c"/>
<rect x="264.55" y="248.58" width="11.5" height="2.45" fill="#ec8e25"/>
<rect x="264.55" y="252.08" width="11.5" height="2.45" fill="#3ea3d8"/>
<g transform="translate(296.80 203.10) scale(1.0)"><g fill="#4b4242"><circle cx="0" cy="2.1" r="2.05"/><path d="M-2.9,4.7 L2.9,4.7 Q3.9,4.9 4.3,6.3 L6.3,14.3 L5.2,14.8 L4.0,11 L4.5,17.6 L-4.5,17.6 L-4.0,11 L-5.2,14.8 L-6.3,14.3 L-4.3,6.3 Q-3.9,4.9 -2.9,4.7 Z"/><rect x="-2.5" y="17.2" width="5.0" height="8.6" rx="0.5"/></g><line x1="0" y1="17.6" x2="0" y2="25.8" stroke="#ffffff" stroke-opacity="0.45" stroke-width="0.45"/><text x="0" y="15.2" font-size="6.4" text-anchor="middle" fill="#ffffff" font-weight="bold">43</text></g>
<text x="296.80" y="235.30" font-size="6.3" text-anchor="middle" fill="#333" >69y</text>
<text x="296.80" y="193.80" font-size="4.3" text-anchor="middle" fill="#5a5a5a"><tspan font-style="italic">DNMT3A</tspan> 2×</text>
<text x="296.80" y="198.80" font-size="4.3" text-anchor="middle" fill="#5a5a5a">[9%, 4%]</text>
<rect x="291.05" y="245.08" width="11.5" height="2.45" fill="#2f9a33"/>
<rect x="291.05" y="248.58" width="11.5" height="2.45" fill="#ec8e25"/>
<rect x="291.05" y="252.08" width="11.5" height="2.45" fill="#3ea3d8"/>
<g transform="translate(323.30 203.10) scale(1.0)"><g fill="#4b4242"><circle cx="0" cy="2.1" r="2.05"/><path d="M-2.9,4.7 L2.9,4.7 Q3.9,4.9 4.3,6.3 L6.3,14.3 L5.2,14.8 L4.0,11 L4.5,17.6 L-4.5,17.6 L-4.0,11 L-5.2,14.8 L-6.3,14.3 L-4.3,6.3 Q-3.9,4.9 -2.9,4.7 Z"/><rect x="-2.5" y="17.2" width="5.0" height="8.6" rx="0.5"/></g><line x1="0" y1="17.6" x2="0" y2="25.8" stroke="#ffffff" stroke-opacity="0.45" stroke-width="0.45"/><text x="0" y="15.2" font-size="6.4" text-anchor="middle" fill="#ffffff" font-weight="bold">44</text></g>
<text x="323.30" y="235.30" font-size="6.3" text-anchor="middle" fill="#333" >72y</text>
<text x="323.30" y="193.80" font-size="4.3" text-anchor="middle" fill="#5a5a5a"><tspan font-style="italic">DNMT3A</tspan> 2×</text>
<text x="323.30" y="198.80" font-size="4.3" text-anchor="middle" fill="#5a5a5a">[7%, 3%]</text>
<rect x="317.55" y="241.58" width="11.5" height="2.45" fill="#a9581c"/>
<rect x="317.55" y="245.08" width="11.5" height="2.45" fill="#2f9a33"/>
<g transform="translate(349.80 203.10) scale(1.0)"><g fill="#4b4242"><circle cx="0" cy="2.1" r="2.05"/><path d="M-2.9,4.7 L2.9,4.7 Q3.9,4.9 4.3,6.3 L6.3,14.3 L5.2,14.8 L4.0,11 L4.5,17.6 L-4.5,17.6 L-4.0,11 L-5.2,14.8 L-6.3,14.3 L-4.3,6.3 Q-3.9,4.9 -2.9,4.7 Z"/><rect x="-2.5" y="17.2" width="5.0" height="8.6" rx="0.5"/></g><line x1="0" y1="17.6" x2="0" y2="25.8" stroke="#ffffff" stroke-opacity="0.45" stroke-width="0.45"/><text x="0" y="15.2" font-size="6.4" text-anchor="middle" fill="#ffffff" font-weight="bold">46</text></g>
<text x="349.80" y="235.30" font-size="6.3" text-anchor="middle" fill="#333" >81y</text>
<text x="349.80" y="191.90" font-size="4.3" text-anchor="middle" fill="#5a5a5a"><tspan font-style="italic">DNMT3A</tspan> [47%]</text>
<text x="349.80" y="196.50" font-size="4.3" text-anchor="middle" fill="#5a5a5a">+<tspan font-style="italic">TP53</tspan> [4%]</text>
<text x="349.80" y="201.10" font-size="4.3" text-anchor="middle" fill="#5a5a5a">+<tspan font-style="italic">PPM1D</tspan> [21%]</text>
<rect x="344.05" y="241.58" width="11.5" height="2.45" fill="#a9581c"/>
<rect x="344.05" y="245.08" width="11.5" height="2.45" fill="#2f9a33"/>
<rect x="344.05" y="248.58" width="11.5" height="2.45" fill="#ec8e25"/>
<g transform="translate(376.30 203.10) scale(1.0)"><g fill="#4b4242"><circle cx="0" cy="2.1" r="2.05"/><path d="M-2.9,4.7 L2.9,4.7 Q3.9,4.9 4.3,6.3 L6.3,14.3 L5.2,14.8 L4.0,11 L4.5,17.6 L-4.5,17.6 L-4.0,11 L-5.2,14.8 L-6.3,14.3 L-4.3,6.3 Q-3.9,4.9 -2.9,4.7 Z"/><rect x="-2.5" y="17.2" width="5.0" height="8.6" rx="0.5"/></g><line x1="0" y1="17.6" x2="0" y2="25.8" stroke="#ffffff" stroke-opacity="0.45" stroke-width="0.45"/><text x="0" y="15.2" font-size="6.4" text-anchor="middle" fill="#ffffff" font-weight="bold">47</text></g>
<text x="376.30" y="235.30" font-size="6.3" text-anchor="middle" fill="#333" >83y</text>
<text x="376.30" y="194.30" font-size="4.3" text-anchor="middle" fill="#5a5a5a"><tspan font-style="italic">DNMT3A</tspan></text>
<text x="376.30" y="199.30" font-size="4.3" text-anchor="middle" fill="#5a5a5a">[11%]</text>
<rect x="370.55" y="245.08" width="11.5" height="2.45" fill="#2f9a33"/>
<text x="446.0" y="184.5" font-size="8.8" text-anchor="middle" fill="#222" textLength="90.4" lengthAdjust="spacingAndGlyphs"><tspan font-style="italic">TET2</tspan>mt <tspan font-style="italic">DNMT3A</tspan>mt CH</text>
<rect x="428.5" y="189.7" width="33.3" height="49.5" rx="3" fill="#eeeeee" stroke="#6a6a6a" stroke-width="0.9"/>
<g transform="translate(443.80 203.60) scale(1.0)"><g fill="#4b4242"><circle cx="0" cy="2.1" r="2.05"/><path d="M-2.9,4.7 L2.9,4.7 Q3.9,4.9 4.3,6.3 L6.3,14.3 L5.2,14.8 L4.0,11 L4.5,17.6 L-4.5,17.6 L-4.0,11 L-5.2,14.8 L-6.3,14.3 L-4.3,6.3 Q-3.9,4.9 -2.9,4.7 Z"/><rect x="-2.5" y="17.2" width="5.0" height="8.6" rx="0.5"/></g><line x1="0" y1="17.6" x2="0" y2="25.8" stroke="#ffffff" stroke-opacity="0.45" stroke-width="0.45"/><text x="0" y="15.2" font-size="6.4" text-anchor="middle" fill="#ffffff" font-weight="bold">48</text></g>
<text x="443.80" y="236.20" font-size="6.4" text-anchor="middle" fill="#333" >83y</text>
<text x="443.80" y="196.00" font-size="3.9" text-anchor="middle" fill="#5a5a5a"><tspan font-style="italic">TET2</tspan> [14%]+</text>
<text x="443.80" y="201.60" font-size="3.9" text-anchor="middle" fill="#5a5a5a"><tspan font-style="italic">DNMT3A</tspan> [21%]</text>
<rect x="438.65" y="241.68" width="10.3" height="2.45" fill="#a9581c"/>
<rect x="438.65" y="245.08" width="10.3" height="2.45" fill="#2f9a33"/>
<text x="7.40" y="267.60" font-size="10.2" fill="#111" font-weight="bold" >B</text>
<polyline points="43.8,269.6 43.8,357.6 42.3,359.8 45.3,362.4 42.3,365.0 45.3,367.6 43.8,370.3" fill="none" stroke="#1a1a1a" stroke-width="1.05"/>
<line x1="43.8" y1="370.3" x2="272.1" y2="370.3" stroke="#1a1a1a" stroke-width="1.05"/>
<line x1="41.6" y1="273.2" x2="43.8" y2="273.2" stroke="#1a1a1a" stroke-width="0.8"/>
<text x="37.40" y="275.30" font-size="6.2" text-anchor="end" fill="#333"  stroke="#333" stroke-width="0.13">65</text>
<line x1="41.6" y1="293.5" x2="43.8" y2="293.5" stroke="#1a1a1a" stroke-width="0.8"/>
<text x="37.40" y="295.60" font-size="6.2" text-anchor="end" fill="#333"  stroke="#333" stroke-width="0.13">60</text>
<line x1="41.6" y1="313.9" x2="43.8" y2="313.9" stroke="#1a1a1a" stroke-width="0.8"/>
<text x="37.40" y="316.00" font-size="6.2" text-anchor="end" fill="#333"  stroke="#333" stroke-width="0.13">55</text>
<line x1="41.6" y1="334.3" x2="43.8" y2="334.3" stroke="#1a1a1a" stroke-width="0.8"/>
<text x="37.40" y="336.40" font-size="6.2" text-anchor="end" fill="#333"  stroke="#333" stroke-width="0.13">50</text>
<line x1="41.6" y1="354.7" x2="43.8" y2="354.7" stroke="#1a1a1a" stroke-width="0.8"/>
<text x="37.40" y="356.80" font-size="6.2" text-anchor="end" fill="#333"  stroke="#333" stroke-width="0.13">45</text>
<line x1="41.6" y1="370.3" x2="43.8" y2="370.3" stroke="#1a1a1a" stroke-width="0.8"/>
<text x="37.40" y="372.40" font-size="6.2" text-anchor="end" fill="#333"  stroke="#333" stroke-width="0.13">0</text>
<text x="23.00" y="320.00" font-size="7.0" text-anchor="middle" fill="#333" textLength="60.40" lengthAdjust="spacingAndGlyphs" transform="rotate(-90 23.00 320.00)" stroke="#333" stroke-width="0.18">Global methylation (%)</text>
<line x1="106.4" y1="370.3" x2="106.4" y2="372.4" stroke="#1a1a1a" stroke-width="0.8"/>
<line x1="210.4" y1="370.3" x2="210.4" y2="372.4" stroke="#1a1a1a" stroke-width="0.8"/>
<text x="106.4" y="382.4" font-size="6.9" text-anchor="middle" fill="#333" textLength="32.3" lengthAdjust="spacingAndGlyphs" stroke="#333" stroke-width="0.13"><tspan font-style="italic">TET2</tspan>mt CH</text>
<text x="210.6" y="382.4" font-size="6.9" text-anchor="middle" fill="#333" textLength="44.5" lengthAdjust="spacingAndGlyphs" stroke="#333" stroke-width="0.13"><tspan font-style="italic">DNMT3A</tspan>mt CH</text>
<text x="128.8" y="281.2" font-size="6.8" fill="#333" textLength="52.5" lengthAdjust="spacingAndGlyphs" stroke="#333" stroke-width="0.13">Wilcoxon, <tspan font-style="italic">P</tspan> = .057</text>
<rect x="70" y="308.5" width="72.6" height="4.2" fill="#c8c4ea"/>
<line x1="70" y1="310.4" x2="142.6" y2="310.4" stroke="#8e86c8" stroke-width="0.8"/>
<line x1="106" y1="303.6" x2="106" y2="308.5" stroke="#8e86c8" stroke-width="0.6"/>
<circle cx="97.5" cy="309.8" r="0.9" fill="#6a62aa"/>
<circle cx="102.3" cy="313.8" r="0.9" fill="#6a62aa"/>
<circle cx="118" cy="303" r="0.9" fill="#6a62aa"/>
<circle cx="122" cy="312.7" r="0.9" fill="#6a62aa"/>
<rect x="173.8" y="315" width="72.4" height="8.7" fill="#f6b6d3"/>
<line x1="173.8" y1="315" x2="246.2" y2="315" stroke="#cf1f78" stroke-width="0.9"/>
<line x1="210.8" y1="323.7" x2="210.8" y2="332.5" stroke="#cf1f78" stroke-width="0.7"/>
<circle cx="191.3" cy="313.9" r="1.0" fill="#b8145f"/>
<circle cx="228.3" cy="313.9" r="1.0" fill="#b8145f"/>
<circle cx="210.8" cy="332.5" r="1.0" fill="#b8145f"/>
<text x="291.70" y="267.60" font-size="10.2" fill="#111" font-weight="bold" >C</text>
<line x1="341.5" y1="272.5" x2="341.5" y2="378" stroke="#1a1a1a" stroke-width="1.05"/>
<line x1="341.5" y1="378" x2="499.2" y2="378" stroke="#1a1a1a" stroke-width="1.05"/>
<line x1="338.2" y1="275.10" x2="341.5" y2="275.10" stroke="#1a1a1a" stroke-width="0.8"/>
<text x="335.00" y="277.00" font-size="5.4" text-anchor="end" fill="#333" textLength="19.60" lengthAdjust="spacingAndGlyphs"  stroke="#333" stroke-width="0.13">0.0175</text>
<line x1="338.2" y1="289.25" x2="341.5" y2="289.25" stroke="#1a1a1a" stroke-width="0.8"/>
<text x="335.00" y="291.15" font-size="5.4" text-anchor="end" fill="#333" textLength="19.60" lengthAdjust="spacingAndGlyphs"  stroke="#333" stroke-width="0.13">0.0150</text>
<line x1="338.2" y1="303.40" x2="341.5" y2="303.40" stroke="#1a1a1a" stroke-width="0.8"/>
<text x="335.00" y="305.30" font-size="5.4" text-anchor="end" fill="#333" textLength="19.60" lengthAdjust="spacingAndGlyphs"  stroke="#333" stroke-width="0.13">0.0125</text>
<line x1="338.2" y1="317.55" x2="341.5" y2="317.55" stroke="#1a1a1a" stroke-width="0.8"/>
<text x="335.00" y="319.45" font-size="5.4" text-anchor="end" fill="#333" textLength="19.60" lengthAdjust="spacingAndGlyphs"  stroke="#333" stroke-width="0.13">0.0100</text>
<line x1="338.2" y1="331.70" x2="341.5" y2="331.70" stroke="#1a1a1a" stroke-width="0.8"/>
<text x="335.00" y="333.60" font-size="5.4" text-anchor="end" fill="#333" textLength="19.60" lengthAdjust="spacingAndGlyphs"  stroke="#333" stroke-width="0.13">0.0075</text>
<line x1="338.2" y1="345.85" x2="341.5" y2="345.85" stroke="#1a1a1a" stroke-width="0.8"/>
<text x="335.00" y="347.75" font-size="5.4" text-anchor="end" fill="#333" textLength="19.60" lengthAdjust="spacingAndGlyphs"  stroke="#333" stroke-width="0.13">0.0050</text>
<line x1="338.2" y1="360.00" x2="341.5" y2="360.00" stroke="#1a1a1a" stroke-width="0.8"/>
<text x="335.00" y="361.90" font-size="5.4" text-anchor="end" fill="#333" textLength="19.60" lengthAdjust="spacingAndGlyphs"  stroke="#333" stroke-width="0.13">0.0025</text>
<line x1="338.2" y1="374.15" x2="341.5" y2="374.15" stroke="#1a1a1a" stroke-width="0.8"/>
<text x="335.00" y="376.05" font-size="5.4" text-anchor="end" fill="#333" textLength="19.60" lengthAdjust="spacingAndGlyphs"  stroke="#333" stroke-width="0.13">0.0000</text>
<text x="309.60" y="325.50" font-size="7.2" text-anchor="middle" fill="#333" textLength="113.50" lengthAdjust="spacingAndGlyphs" transform="rotate(-90 309.60 325.50)" stroke="#333" stroke-width="0.18">Density estimate (95% confidence interval)</text>
<line x1="348.50" y1="378" x2="348.50" y2="380.3" stroke="#1a1a1a" stroke-width="0.8"/>
<text x="348.50" y="389.80" font-size="6.0" text-anchor="middle" fill="#333"  stroke="#333" stroke-width="0.13">0.0</text>
<line x1="378.28" y1="378" x2="378.28" y2="380.3" stroke="#1a1a1a" stroke-width="0.8"/>
<text x="378.28" y="389.80" font-size="6.0" text-anchor="middle" fill="#333"  stroke="#333" stroke-width="0.13">0.2</text>
<line x1="408.06" y1="378" x2="408.06" y2="380.3" stroke="#1a1a1a" stroke-width="0.8"/>
<text x="408.06" y="389.80" font-size="6.0" text-anchor="middle" fill="#333"  stroke="#333" stroke-width="0.13">0.4</text>
<line x1="437.84" y1="378" x2="437.84" y2="380.3" stroke="#1a1a1a" stroke-width="0.8"/>
<text x="437.84" y="389.80" font-size="6.0" text-anchor="middle" fill="#333"  stroke="#333" stroke-width="0.13">0.6</text>
<line x1="467.62" y1="378" x2="467.62" y2="380.3" stroke="#1a1a1a" stroke-width="0.8"/>
<text x="467.62" y="389.80" font-size="6.0" text-anchor="middle" fill="#333"  stroke="#333" stroke-width="0.13">0.8</text>
<line x1="497.40" y1="378" x2="497.40" y2="380.3" stroke="#1a1a1a" stroke-width="0.8"/>
<text x="497.40" y="389.80" font-size="6.0" text-anchor="middle" fill="#333"  stroke="#333" stroke-width="0.13">1.0</text>
<text x="420.60" y="402.00" font-size="7.6" text-anchor="middle" fill="#333" textLength="27.20" lengthAdjust="spacingAndGlyphs" stroke="#333" stroke-width="0.15">Beta value</text>
<text x="386.1" y="276.8" font-size="6.8" text-anchor="middle" fill="#333" textLength="31.8" lengthAdjust="spacingAndGlyphs" stroke="#333" stroke-width="0.13"><tspan font-style="italic">TET2</tspan>mt CH</text>
<rect x="376.8" y="282.5" width="17.2" height="3.3" fill="#8e86c8"/>
<text x="433.5" y="276.6" font-size="6.8" text-anchor="middle" fill="#333" textLength="45" lengthAdjust="spacingAndGlyphs" stroke="#333" stroke-width="0.13"><tspan font-style="italic">DNMT3A</tspan>mt CH</text>
<rect x="425" y="282.2" width="16.7" height="3.3" fill="#d81b7c"/>
<polyline points="385.4,290 385.4,293.4 431.2,293.4 431.2,290" fill="none" stroke="#444" stroke-width="0.8"/>
<text x="389.2" y="303.0" font-size="6.6" fill="#333" textLength="41.3" lengthAdjust="spacingAndGlyphs" stroke="#333" stroke-width="0.13"><tspan font-style="italic">P</tspan> &lt; 2.2×10<tspan font-size="3.8" dy="-2.6">−16</tspan></text>
<path d="M348.50,360.40 C349.08,353.73 351.00,331.07 352.00,320.40 C353.00,309.73 353.73,301.43 354.50,296.40 C355.27,291.37 355.93,290.37 356.60,290.20 C357.27,290.03 357.77,291.70 358.50,295.40 C359.23,299.10 360.17,307.07 361.00,312.40 C361.83,317.73 362.38,321.90 363.50,327.40 C364.62,332.90 366.28,341.07 367.70,345.40 C369.12,349.73 370.20,351.15 372.00,353.40 C373.80,355.65 374.87,357.40 378.50,358.90 C382.13,360.40 388.55,361.77 393.80,362.40 C399.05,363.03 404.80,363.62 410.00,362.70 C415.20,361.78 420.00,359.28 425.00,356.90 C430.00,354.52 435.00,351.82 440.00,348.40 C445.00,344.98 451.18,340.15 455.00,336.40 C458.82,332.65 460.73,330.07 462.90,325.90 C465.07,321.73 466.48,317.57 468.00,311.40 C469.52,305.23 470.75,294.57 472.00,288.90 C473.25,283.23 474.50,279.65 475.50,277.40 C476.50,275.15 477.17,275.15 478.00,275.40 C478.83,275.65 479.67,275.82 480.50,278.90 C481.33,281.98 482.17,286.98 483.00,293.90 C483.83,300.82 484.67,312.65 485.50,320.40 C486.33,328.15 487.08,334.57 488.00,340.40 C488.92,346.23 490.00,351.23 491.00,355.40 C492.00,359.57 492.92,362.58 494.00,365.40 C495.08,368.22 496.92,371.15 497.50,372.30 L497.50,373.50 C496.92,372.35 495.08,369.42 494.00,366.60 C492.92,363.78 492.00,360.77 491.00,356.60 C490.00,352.43 488.92,347.43 488.00,341.60 C487.08,335.77 486.33,328.52 485.50,321.60 C484.67,314.68 483.83,306.18 483.00,300.10 C482.17,294.02 481.33,288.18 480.50,285.10 C479.67,282.02 478.83,281.85 478.00,281.60 C477.17,281.35 476.50,281.35 475.50,283.60 C474.50,285.85 473.25,290.27 472.00,295.10 C470.75,299.93 469.52,307.27 468.00,312.60 C466.48,317.93 465.07,322.93 462.90,327.10 C460.73,331.27 458.82,333.85 455.00,337.60 C451.18,341.35 445.00,346.18 440.00,349.60 C435.00,353.02 430.00,355.72 425.00,358.10 C420.00,360.48 415.20,362.98 410.00,363.90 C404.80,364.82 399.05,364.23 393.80,363.60 C388.55,362.97 382.13,361.60 378.50,360.10 C374.87,358.60 373.80,356.85 372.00,354.60 C370.20,352.35 369.12,350.93 367.70,346.60 C366.28,342.27 364.62,334.10 363.50,328.60 C362.38,323.10 361.83,318.93 361.00,313.60 C360.17,308.27 359.23,299.97 358.50,296.60 C357.77,293.23 357.27,292.90 356.60,293.40 C355.93,293.90 355.27,294.90 354.50,299.60 C353.73,304.30 353.00,311.27 352.00,321.60 C351.00,331.93 349.08,354.93 348.50,361.60 Z" fill="#a9a3d8" fill-opacity="0.7"/>
<path d="M348.50,360.30 C349.08,353.80 351.00,331.83 352.00,321.30 C353.00,310.77 353.73,302.13 354.50,297.10 C355.27,292.07 355.93,291.23 356.60,291.10 C357.27,290.97 357.77,292.68 358.50,296.30 C359.23,299.92 360.17,307.63 361.00,312.80 C361.83,317.97 362.38,321.88 363.50,327.30 C364.62,332.72 366.28,341.05 367.70,345.30 C369.12,349.55 370.20,350.63 372.00,352.80 C373.80,354.97 374.87,356.98 378.50,358.30 C382.13,359.62 388.55,360.92 393.80,360.71 C399.05,360.49 404.80,358.96 410.00,357.00 C415.20,355.05 420.00,351.70 425.00,348.99 C430.00,346.29 435.00,343.68 440.00,340.78 C445.00,337.87 451.18,334.24 455.00,331.55 C458.82,328.85 460.73,327.85 462.90,324.60 C465.07,321.35 466.48,316.00 468.00,312.03 C469.52,308.05 470.62,303.43 472.00,300.75 C473.38,298.08 475.13,296.08 476.30,295.96 C477.47,295.85 478.05,297.06 479.00,300.07 C479.95,303.08 481.00,308.29 482.00,314.03 C483.00,319.76 484.00,328.77 485.00,334.48 C486.00,340.19 487.03,344.70 488.00,348.30 C488.97,351.90 489.80,353.27 490.80,356.10 C491.80,358.93 492.88,362.62 494.00,365.30 C495.12,367.98 496.92,371.05 497.50,372.20 L497.50,373.60 C496.92,372.45 495.12,369.38 494.00,366.70 C492.88,364.02 491.80,360.33 490.80,357.50 C489.80,354.67 488.97,353.03 488.00,349.70 C487.03,346.37 486.00,342.14 485.00,337.52 C484.00,332.90 483.00,326.07 482.00,321.97 C481.00,317.87 479.95,314.38 479.00,312.93 C478.05,311.47 477.47,312.85 476.30,313.24 C475.13,313.62 473.38,314.12 472.00,315.25 C470.62,316.37 469.52,318.18 468.00,319.97 C466.48,321.77 465.07,323.75 462.90,326.00 C460.73,328.25 458.82,330.25 455.00,333.45 C451.18,336.66 445.00,341.86 440.00,345.22 C435.00,348.58 430.00,351.15 425.00,353.61 C420.00,356.07 415.20,358.28 410.00,360.00 C404.80,361.71 399.05,363.94 393.80,363.89 C388.55,363.84 382.13,361.32 378.50,359.70 C374.87,358.08 373.80,356.37 372.00,354.20 C370.20,352.03 369.12,350.95 367.70,346.70 C366.28,342.45 364.62,334.12 363.50,328.70 C362.38,323.28 361.83,319.37 361.00,314.20 C360.17,309.03 359.23,300.92 358.50,297.70 C357.77,294.48 357.27,294.37 356.60,294.90 C355.93,295.43 355.27,296.27 354.50,300.90 C353.73,305.53 353.00,312.57 352.00,322.70 C351.00,332.83 349.08,355.20 348.50,361.70 Z" fill="#f4a6ca" fill-opacity="0.7"/>
<path d="M348.50,361.00 C349.08,354.33 351.00,331.50 352.00,321.00 C353.00,310.50 353.73,302.87 354.50,298.00 C355.27,293.13 355.93,292.13 356.60,291.80 C357.27,291.47 357.77,292.47 358.50,296.00 C359.23,299.53 360.17,307.67 361.00,313.00 C361.83,318.33 362.38,322.50 363.50,328.00 C364.62,333.50 366.28,341.67 367.70,346.00 C369.12,350.33 370.20,351.75 372.00,354.00 C373.80,356.25 374.87,358.00 378.50,359.50 C382.13,361.00 388.55,362.37 393.80,363.00 C399.05,363.63 404.80,364.22 410.00,363.30 C415.20,362.38 420.00,359.88 425.00,357.50 C430.00,355.12 435.00,352.42 440.00,349.00 C445.00,345.58 451.18,340.75 455.00,337.00 C458.82,333.25 460.73,330.67 462.90,326.50 C465.07,322.33 466.48,317.75 468.00,312.00 C469.52,306.25 470.75,297.25 472.00,292.00 C473.25,286.75 474.50,282.75 475.50,280.50 C476.50,278.25 477.17,278.25 478.00,278.50 C478.83,278.75 479.67,278.92 480.50,282.00 C481.33,285.08 482.17,290.50 483.00,297.00 C483.83,303.50 484.67,313.67 485.50,321.00 C486.33,328.33 487.08,335.17 488.00,341.00 C488.92,346.83 490.00,351.83 491.00,356.00 C492.00,360.17 492.92,363.18 494.00,366.00 C495.08,368.82 496.92,371.75 497.50,372.90" fill="none" stroke="#8a84c2" stroke-width="1.1"/>
<path d="M348.50,361.00 C349.08,354.50 351.00,332.33 352.00,322.00 C353.00,311.67 353.73,303.83 354.50,299.00 C355.27,294.17 355.93,293.33 356.60,293.00 C357.27,292.67 357.77,293.58 358.50,297.00 C359.23,300.42 360.17,308.33 361.00,313.50 C361.83,318.67 362.38,322.58 363.50,328.00 C364.62,333.42 366.28,341.75 367.70,346.00 C369.12,350.25 370.20,351.33 372.00,353.50 C373.80,355.67 374.87,357.53 378.50,359.00 C382.13,360.47 388.55,362.38 393.80,362.30 C399.05,362.22 404.80,360.33 410.00,358.50 C415.20,356.67 420.00,353.88 425.00,351.30 C430.00,348.72 435.00,346.13 440.00,343.00 C445.00,339.87 451.18,335.45 455.00,332.50 C458.82,329.55 460.73,328.05 462.90,325.30 C465.07,322.55 466.48,318.88 468.00,316.00 C469.52,313.12 470.62,309.90 472.00,308.00 C473.38,306.10 475.13,304.85 476.30,304.60 C477.47,304.35 478.05,304.27 479.00,306.50 C479.95,308.73 481.00,313.08 482.00,318.00 C483.00,322.92 484.00,330.83 485.00,336.00 C486.00,341.17 487.03,345.53 488.00,349.00 C488.97,352.47 489.80,353.97 490.80,356.80 C491.80,359.63 492.88,363.32 494.00,366.00 C495.12,368.68 496.92,371.75 497.50,372.90" fill="none" stroke="#c8166f" stroke-width="1.1"/>
<text x="286.90" y="417.60" font-size="10.2" fill="#111" font-weight="bold" >E</text>
<text x="311.90" y="443.90" font-size="6.2" text-anchor="end" font-weight="bold" >69</text>
<text x="318.80" y="443.90" font-size="6.4" fill="#444"  stroke="#444" stroke-width="0.13">5.9%</text>
<rect x="376.65" y="439.55" width="4.05" height="4.7" fill="#d81b7c"/>
<text x="405.20" y="443.90" font-size="6.6" text-anchor="middle" fill="#333" font-style="italic" textLength="13.12" lengthAdjust="spacingAndGlyphs"  stroke="#333" stroke-width="0.13">TssA</text>
<rect x="430.6" y="439.55" width="0.33" height="4.7" fill="#8e86c8"/>
<text x="491.50" y="443.90" font-size="6.4" text-anchor="end" fill="#444"  stroke="#444" stroke-width="0.13">0.5%</text>
<text x="498.40" y="443.90" font-size="6.2" font-weight="bold" >54</text>
<text x="311.90" y="451.67" font-size="6.2" text-anchor="end" font-weight="bold" >159</text>
<text x="318.80" y="451.67" font-size="6.4" fill="#444"  stroke="#444" stroke-width="0.13">13.7%</text>
<rect x="371.30" y="447.32" width="9.40" height="4.7" fill="#d81b7c"/>
<text x="405.20" y="451.67" font-size="6.6" text-anchor="middle" fill="#333" font-style="italic" textLength="24.45" lengthAdjust="spacingAndGlyphs"  stroke="#333" stroke-width="0.13">TssAFlnk</text>
<rect x="430.6" y="447.32" width="0.40" height="4.7" fill="#8e86c8"/>
<text x="491.50" y="451.67" font-size="6.4" text-anchor="end" fill="#444"  stroke="#444" stroke-width="0.13">0.6%</text>
<text x="498.40" y="451.67" font-size="6.2" font-weight="bold" >66</text>
<text x="311.90" y="459.44" font-size="6.2" text-anchor="end" font-weight="bold" >2</text>
<text x="318.80" y="459.44" font-size="6.4" fill="#444"  stroke="#444" stroke-width="0.13">0.2%</text>
<rect x="380.56" y="455.09" width="0.14" height="4.7" fill="#d81b7c"/>
<text x="405.20" y="459.44" font-size="6.6" text-anchor="middle" fill="#333" font-style="italic" textLength="18.00" lengthAdjust="spacingAndGlyphs"  stroke="#333" stroke-width="0.13">TxFlnk</text>
<rect x="430.6" y="455.09" width="0.07" height="4.7" fill="#8e86c8"/>
<text x="491.50" y="459.44" font-size="6.4" text-anchor="end" fill="#444"  stroke="#444" stroke-width="0.13">0.1%</text>
<text x="498.40" y="459.44" font-size="6.2" font-weight="bold" >15</text>
<text x="311.90" y="467.21" font-size="6.2" text-anchor="end" font-weight="bold" >34</text>
<text x="318.80" y="467.21" font-size="6.4" fill="#444"  stroke="#444" stroke-width="0.13">2.9%</text>
<rect x="378.71" y="462.86" width="1.99" height="4.7" fill="#d81b7c"/>
<text x="405.20" y="467.21" font-size="6.6" text-anchor="middle" fill="#333" font-style="italic" textLength="6.67" lengthAdjust="spacingAndGlyphs"  stroke="#333" stroke-width="0.13">Tx</text>
<rect x="430.6" y="462.86" width="6.34" height="4.7" fill="#8e86c8"/>
<text x="491.50" y="467.21" font-size="6.4" text-anchor="end" fill="#444"  stroke="#444" stroke-width="0.13">9.6%</text>
<text x="498.40" y="467.21" font-size="6.2" font-weight="bold" >1045</text>
<text x="311.90" y="474.98" font-size="6.2" text-anchor="end" font-weight="bold" >117</text>
<text x="318.80" y="474.98" font-size="6.4" fill="#444"  stroke="#444" stroke-width="0.13">10.1%</text>
<rect x="373.77" y="470.63" width="6.93" height="4.7" fill="#d81b7c"/>
<text x="405.20" y="474.98" font-size="6.6" text-anchor="middle" fill="#333" font-style="italic" textLength="15.33" lengthAdjust="spacingAndGlyphs"  stroke="#333" stroke-width="0.13">TxWk</text>
<rect x="430.6" y="470.63" width="12.21" height="4.7" fill="#8e86c8"/>
<text x="491.50" y="474.98" font-size="6.4" text-anchor="end" fill="#444"  stroke="#444" stroke-width="0.13">18.5%</text>
<text x="498.40" y="474.98" font-size="6.2" font-weight="bold" >2029</text>
<text x="311.90" y="482.75" font-size="6.2" text-anchor="end" font-weight="bold" >8</text>
<text x="318.80" y="482.75" font-size="6.4" fill="#444"  stroke="#444" stroke-width="0.13">0.7%</text>
<rect x="380.22" y="478.40" width="0.48" height="4.7" fill="#d81b7c"/>
<text x="405.20" y="482.75" font-size="6.6" text-anchor="middle" fill="#333" font-style="italic" textLength="15.34" lengthAdjust="spacingAndGlyphs"  stroke="#333" stroke-width="0.13">EnhG</text>
<rect x="430.6" y="478.40" width="0.40" height="4.7" fill="#8e86c8"/>
<text x="491.50" y="482.75" font-size="6.4" text-anchor="end" fill="#444"  stroke="#444" stroke-width="0.13">0.6%</text>
<text x="498.40" y="482.75" font-size="6.2" font-weight="bold" >62</text>
<text x="311.90" y="490.52" font-size="6.2" text-anchor="end" font-weight="bold" >102</text>
<text x="318.80" y="490.52" font-size="6.4" fill="#444"  stroke="#444" stroke-width="0.13">8.8%</text>
<rect x="374.66" y="486.17" width="6.04" height="4.7" fill="#d81b7c"/>
<text x="405.20" y="490.52" font-size="6.6" text-anchor="middle" fill="#333" font-style="italic" textLength="10.68" lengthAdjust="spacingAndGlyphs"  stroke="#333" stroke-width="0.13">Enh</text>
<rect x="430.6" y="486.17" width="1.58" height="4.7" fill="#8e86c8"/>
<text x="491.50" y="490.52" font-size="6.4" text-anchor="end" fill="#444"  stroke="#444" stroke-width="0.13">2.4%</text>
<text x="498.40" y="490.52" font-size="6.2" font-weight="bold" >264</text>
<text x="311.90" y="498.29" font-size="6.2" text-anchor="end" font-weight="bold" >2</text>
<text x="318.80" y="498.29" font-size="6.4" fill="#444"  stroke="#444" stroke-width="0.13">0.2%</text>
<rect x="380.56" y="493.94" width="0.14" height="4.7" fill="#d81b7c"/>
<text x="405.20" y="498.29" font-size="6.6" text-anchor="middle" fill="#333" font-style="italic" textLength="25.67" lengthAdjust="spacingAndGlyphs"  stroke="#333" stroke-width="0.13">ZNF/Rpts</text>
<rect x="430.6" y="493.94" width="0.20" height="4.7" fill="#8e86c8"/>
<text x="491.50" y="498.29" font-size="6.4" text-anchor="end" fill="#444"  stroke="#444" stroke-width="0.13">0.3%</text>
<text x="498.40" y="498.29" font-size="6.2" font-weight="bold" >31</text>
<text x="311.90" y="506.06" font-size="6.2" text-anchor="end" font-weight="bold" >11</text>
<text x="318.80" y="506.06" font-size="6.4" fill="#444"  stroke="#444" stroke-width="0.13">0.9%</text>
<rect x="380.08" y="501.71" width="0.62" height="4.7" fill="#d81b7c"/>
<text x="405.20" y="506.06" font-size="6.6" text-anchor="middle" fill="#333" font-style="italic" textLength="9.34" lengthAdjust="spacingAndGlyphs"  stroke="#333" stroke-width="0.13">Het</text>
<rect x="430.6" y="501.71" width="0.73" height="4.7" fill="#8e86c8"/>
<text x="491.50" y="506.06" font-size="6.4" text-anchor="end" fill="#444"  stroke="#444" stroke-width="0.13">1.1%</text>
<text x="498.40" y="506.06" font-size="6.2" font-weight="bold" >119</text>
<text x="311.90" y="513.83" font-size="6.2" text-anchor="end" font-weight="bold" >16</text>
<text x="318.80" y="513.83" font-size="6.4" fill="#444"  stroke="#444" stroke-width="0.13">1.4%</text>
<rect x="379.74" y="509.48" width="0.96" height="4.7" fill="#d81b7c"/>
<text x="405.20" y="513.83" font-size="6.6" text-anchor="middle" fill="#333" font-style="italic" textLength="17.45" lengthAdjust="spacingAndGlyphs"  stroke="#333" stroke-width="0.13">TssBiv</text>
<rect x="430.6" y="509.48" width="0.07" height="4.7" fill="#8e86c8"/>
<text x="491.50" y="513.83" font-size="6.4" text-anchor="end" fill="#444"  stroke="#444" stroke-width="0.13">0.1%</text>
<text x="498.40" y="513.83" font-size="6.2" font-weight="bold" >6</text>
<text x="311.90" y="521.60" font-size="6.2" text-anchor="end" font-weight="bold" >6</text>
<text x="318.80" y="521.60" font-size="6.4" fill="#444"  stroke="#444" stroke-width="0.13">0.5%</text>
<rect x="380.36" y="517.25" width="0.34" height="4.7" fill="#d81b7c"/>
<text x="405.20" y="521.60" font-size="6.6" text-anchor="middle" fill="#333" font-style="italic" textLength="19.67" lengthAdjust="spacingAndGlyphs"  stroke="#333" stroke-width="0.13">BivFlnk</text>
<text x="491.50" y="521.60" font-size="6.4" text-anchor="end" fill="#444"  stroke="#444" stroke-width="0.13">0.0%</text>
<text x="498.40" y="521.60" font-size="6.2" font-weight="bold" >3</text>
<text x="311.90" y="529.37" font-size="6.2" text-anchor="end" font-weight="bold" >12</text>
<text x="318.80" y="529.37" font-size="6.4" fill="#444"  stroke="#444" stroke-width="0.13">1.0%</text>
<rect x="380.01" y="525.02" width="0.69" height="4.7" fill="#d81b7c"/>
<text x="405.20" y="529.37" font-size="6.6" text-anchor="middle" fill="#333" font-style="italic" textLength="19.01" lengthAdjust="spacingAndGlyphs"  stroke="#333" stroke-width="0.13">EnhBiv</text>
<rect x="430.6" y="525.02" width="0.07" height="4.7" fill="#8e86c8"/>
<text x="491.50" y="529.37" font-size="6.4" text-anchor="end" fill="#444"  stroke="#444" stroke-width="0.13">0.1%</text>
<text x="498.40" y="529.37" font-size="6.2" font-weight="bold" >10</text>
<text x="311.90" y="537.14" font-size="6.2" text-anchor="end" font-weight="bold" >80</text>
<text x="318.80" y="537.14" font-size="6.4" fill="#444"  stroke="#444" stroke-width="0.13">6.9%</text>
<rect x="375.97" y="532.79" width="4.73" height="4.7" fill="#d81b7c"/>
<text x="405.20" y="537.14" font-size="6.6" text-anchor="middle" fill="#333" font-style="italic" textLength="21.34" lengthAdjust="spacingAndGlyphs"  stroke="#333" stroke-width="0.13">ReprPC</text>
<rect x="430.6" y="532.79" width="0.99" height="4.7" fill="#8e86c8"/>
<text x="491.50" y="537.14" font-size="6.4" text-anchor="end" fill="#444"  stroke="#444" stroke-width="0.13">1.5%</text>
<text x="498.40" y="537.14" font-size="6.2" font-weight="bold" >167</text>
<text x="311.90" y="544.91" font-size="6.2" text-anchor="end" font-weight="bold" >155</text>
<text x="318.80" y="544.91" font-size="6.4" fill="#444"  stroke="#444" stroke-width="0.13">13.4%</text>
<rect x="371.51" y="540.56" width="9.19" height="4.7" fill="#d81b7c"/>
<text x="405.20" y="544.91" font-size="6.6" text-anchor="middle" fill="#333" font-style="italic" textLength="30.00" lengthAdjust="spacingAndGlyphs"  stroke="#333" stroke-width="0.13">ReprPCWk</text>
<rect x="430.6" y="540.56" width="10.30" height="4.7" fill="#8e86c8"/>
<text x="491.50" y="544.91" font-size="6.4" text-anchor="end" fill="#444"  stroke="#444" stroke-width="0.13">15.6%</text>
<text x="498.40" y="544.91" font-size="6.2" font-weight="bold" >1706</text>
<text x="311.90" y="552.68" font-size="6.2" text-anchor="end" font-weight="bold" >388</text>
<text x="318.80" y="552.68" font-size="6.4" fill="#444"  stroke="#444" stroke-width="0.13">33.4%</text>
<rect x="357.79" y="548.33" width="22.91" height="4.7" fill="#d81b7c"/>
<text x="405.20" y="552.68" font-size="6.6" text-anchor="middle" fill="#333" font-style="italic" textLength="15.67" lengthAdjust="spacingAndGlyphs"  stroke="#333" stroke-width="0.13">Quies</text>
<rect x="430.6" y="548.33" width="32.34" height="4.7" fill="#8e86c8"/>
<text x="491.50" y="552.68" font-size="6.4" text-anchor="end" fill="#444"  stroke="#444" stroke-width="0.13">49.0%</text>
<text x="498.40" y="552.68" font-size="6.2" font-weight="bold" >5364</text>
<line x1="315.6" y1="437.8" x2="315.6" y2="554.8" stroke="#333" stroke-width="0.8"/>
<line x1="380.7" y1="438" x2="380.7" y2="554.8" stroke="#3b3c5a" stroke-width="0.9"/>
<line x1="430.6" y1="438" x2="430.6" y2="554.8" stroke="#3b3c5a" stroke-width="0.9"/>
<line x1="495" y1="437.8" x2="495" y2="554.8" stroke="#333" stroke-width="0.8"/>
<text x="9.20" y="417.50" font-size="10.2" fill="#111" font-weight="bold" >D</text>
<rect x="20.6" y="414.30" width="13.2" height="3.2" fill="#8e86c8"/>
<rect x="20.6" y="423.90" width="13.2" height="3.2" fill="#d81b7c"/>
<rect x="20.6" y="433.60" width="13.2" height="3.2" fill="#f2b40c"/>
<text x="36.1" y="418.0" font-size="6.4" fill="#333" textLength="157" lengthAdjust="spacingAndGlyphs" stroke="#333" stroke-width="0.13">Hypomethylated in <tspan font-style="italic">DNMT3A</tspan>mt CH against <tspan font-style="italic">TET2</tspan>mt CH</text>
<text x="36.1" y="427.6" font-size="6.4" fill="#333" textLength="157" lengthAdjust="spacingAndGlyphs" stroke="#333" stroke-width="0.13">Hypermethylated in <tspan font-style="italic">DNMT3A</tspan>mt CH against <tspan font-style="italic">TET2</tspan>mt CH</text>
<text x="36.10" y="437.30" font-size="6.4" fill="#333" textLength="76.60" lengthAdjust="spacingAndGlyphs"  stroke="#333" stroke-width="0.13">Not differentially methylated</text>
<rect x="244.9" y="425.4" width="30.8" height="15.8" fill="#df1a7e"/>
<rect x="244.9" y="441.2" width="30.8" height="5.0" fill="#f4b50f"/>
<rect x="244.9" y="446.2" width="30.8" height="15.0" fill="#8f87c9"/>
<rect x="246.4" y="427.6" width="1.4" height="0.8" fill="#ffffff" fill-opacity="0.8"/>
<rect x="246.4" y="431.1" width="1.4" height="0.8" fill="#ffffff" fill-opacity="0.8"/>
<rect x="246.4" y="434.6" width="1.4" height="0.8" fill="#ffffff" fill-opacity="0.8"/>
<rect x="246.4" y="438.1" width="1.4" height="0.8" fill="#ffffff" fill-opacity="0.8"/>
<rect x="246.4" y="448.6" width="1.4" height="0.8" fill="#ffffff" fill-opacity="0.8"/>
<rect x="246.4" y="452.1" width="1.4" height="0.8" fill="#ffffff" fill-opacity="0.8"/>
<rect x="246.4" y="455.6" width="1.4" height="0.8" fill="#ffffff" fill-opacity="0.8"/>
<rect x="246.4" y="459.1" width="1.4" height="0.8" fill="#ffffff" fill-opacity="0.8"/>
<text x="253.60" y="428.00" font-size="3.0" text-anchor="middle" fill="#ffffff" transform="rotate(90 253.60 428.00)" >8</text>
<text x="253.60" y="431.50" font-size="3.0" text-anchor="middle" fill="#ffffff" transform="rotate(90 253.60 431.50)" >6</text>
<text x="253.60" y="435.00" font-size="3.0" text-anchor="middle" fill="#ffffff" transform="rotate(90 253.60 435.00)" >4</text>
<text x="253.60" y="438.50" font-size="3.0" text-anchor="middle" fill="#ffffff" transform="rotate(90 253.60 438.50)" >2</text>
<text x="253.60" y="449.00" font-size="3.0" text-anchor="middle" fill="#ffffff" transform="rotate(90 253.60 449.00)" >2</text>
<text x="253.60" y="452.50" font-size="3.0" text-anchor="middle" fill="#ffffff" transform="rotate(90 253.60 452.50)" >4</text>
<text x="253.60" y="456.00" font-size="3.0" text-anchor="middle" fill="#ffffff" transform="rotate(90 253.60 456.00)" >6</text>
<text x="253.60" y="459.50" font-size="3.0" text-anchor="middle" fill="#ffffff" transform="rotate(90 253.60 459.50)" >8</text>
<text x="272.00" y="433.30" font-size="3.0" text-anchor="middle" fill="#ffffff" transform="rotate(90 272.00 433.30)" >Hyper</text>
<text x="272.00" y="453.70" font-size="3.0" text-anchor="middle" fill="#ffffff" transform="rotate(90 272.00 453.70)" >Hypo</text>
<text x="239.2" y="444.2" font-size="6.6" text-anchor="middle" fill="#333" stroke="#333" stroke-width="0.2" transform="rotate(-90 238.6 444.2)" textLength="36" lengthAdjust="spacingAndGlyphs">−log<tspan font-size="3.8" dy="1.2">10</tspan><tspan dy="-1.2" font-style="italic"> P</tspan>-value</text>
<path d="M152.11,456.30 A98.0,98.0 0 0 1 200.50,469.37 L192.02,484.10 A81.0,81.0 0 0 0 152.02,473.30 Z" fill="#ffffff" stroke="#8c8c8c" stroke-width="0.85"/>
<path d="M201.39,469.89 A98.0,98.0 0 0 1 236.01,504.50 L221.36,513.14 A81.0,81.0 0 0 0 192.75,484.53 Z" fill="#ffffff" stroke="#8c8c8c" stroke-width="0.85"/>
<path d="M236.52,505.39 A98.0,98.0 0 0 1 249.01,543.56 L232.11,545.42 A81.0,81.0 0 0 0 221.79,513.88 Z" fill="#ffffff" stroke="#8c8c8c" stroke-width="0.85"/>
<path d="M249.12,544.58 A98.0,98.0 0 0 1 245.25,583.17 L229.01,578.16 A81.0,81.0 0 0 0 232.20,546.27 Z" fill="#ffffff" stroke="#8c8c8c" stroke-width="0.85"/>
<path d="M244.94,584.15 A98.0,98.0 0 0 1 227.35,616.48 L214.21,605.69 A81.0,81.0 0 0 0 228.75,578.97 Z" fill="#ffffff" stroke="#8c8c8c" stroke-width="0.85"/>
<path d="M226.69,617.27 A98.0,98.0 0 0 1 199.92,639.56 L191.54,624.77 A81.0,81.0 0 0 0 213.67,606.34 Z" fill="#ffffff" stroke="#8c8c8c" stroke-width="0.85"/>
<path d="M199.03,640.06 A98.0,98.0 0 0 1 168.41,650.85 L165.49,634.10 A81.0,81.0 0 0 0 190.80,625.18 Z" fill="#ffffff" stroke="#8c8c8c" stroke-width="0.85"/>
<path d="M167.40,651.02 A98.0,98.0 0 0 1 137.51,651.28 L139.96,634.46 A81.0,81.0 0 0 0 164.66,634.24 Z" fill="#ffffff" stroke="#8c8c8c" stroke-width="0.85"/>
<path d="M136.50,651.13 A98.0,98.0 0 0 1 108.92,642.52 L116.32,627.21 A81.0,81.0 0 0 0 139.12,634.33 Z" fill="#ffffff" stroke="#8c8c8c" stroke-width="0.85"/>
<path d="M108.00,642.07 A98.0,98.0 0 0 1 85.03,626.22 L96.58,613.75 A81.0,81.0 0 0 0 115.56,626.84 Z" fill="#ffffff" stroke="#8c8c8c" stroke-width="0.85"/>
<path d="M84.28,625.52 A98.0,98.0 0 0 1 67.04,603.84 L81.71,595.25 A81.0,81.0 0 0 0 95.96,613.17 Z" fill="#ffffff" stroke="#8c8c8c" stroke-width="0.85"/>
<path d="M66.53,602.95 A98.0,98.0 0 0 1 56.36,577.40 L72.88,573.39 A81.0,81.0 0 0 0 81.29,594.51 Z" fill="#ffffff" stroke="#8c8c8c" stroke-width="0.85"/>
<path d="M56.13,576.40 A98.0,98.0 0 0 1 53.61,552.82 L70.61,553.07 A81.0,81.0 0 0 0 72.69,572.57 Z" fill="#ffffff" stroke="#8c8c8c" stroke-width="0.85"/>
<path d="M53.63,551.79 A98.0,98.0 0 0 1 56.69,529.88 L73.15,534.12 A81.0,81.0 0 0 0 70.63,552.23 Z" fill="#ffffff" stroke="#8c8c8c" stroke-width="0.85"/>
<path d="M56.95,528.89 A98.0,98.0 0 0 1 64.69,509.02 L79.77,516.87 A81.0,81.0 0 0 0 73.37,533.30 Z" fill="#ffffff" stroke="#8c8c8c" stroke-width="0.85"/>
<path d="M65.17,508.11 A98.0,98.0 0 0 1 75.53,492.51 L88.73,503.23 A81.0,81.0 0 0 0 80.16,516.12 Z" fill="#ffffff" stroke="#8c8c8c" stroke-width="0.85"/>
<path d="M76.18,491.72 A98.0,98.0 0 0 1 88.08,479.67 L99.10,492.62 A81.0,81.0 0 0 0 89.27,502.57 Z" fill="#ffffff" stroke="#8c8c8c" stroke-width="0.85"/>
<path d="M88.87,479.01 A98.0,98.0 0 0 1 102.24,469.64 L110.80,484.33 A81.0,81.0 0 0 0 99.75,492.07 Z" fill="#ffffff" stroke="#8c8c8c" stroke-width="0.85"/>
<path d="M103.13,469.13 A98.0,98.0 0 0 1 114.38,463.64 L120.84,479.37 A81.0,81.0 0 0 0 111.53,483.90 Z" fill="#ffffff" stroke="#8c8c8c" stroke-width="0.85"/>
<path d="M115.33,463.26 A98.0,98.0 0 0 1 128.02,459.18 L132.11,475.68 A81.0,81.0 0 0 0 121.63,479.05 Z" fill="#ffffff" stroke="#8c8c8c" stroke-width="0.85"/>
<path d="M129.02,458.94 A98.0,98.0 0 0 1 139.17,457.09 L141.33,473.95 A81.0,81.0 0 0 0 132.93,475.48 Z" fill="#ffffff" stroke="#8c8c8c" stroke-width="0.85"/>
<path d="M140.19,456.97 A98.0,98.0 0 0 1 151.09,456.30 L151.18,473.30 A81.0,81.0 0 0 0 142.17,473.85 Z" fill="#ffffff" stroke="#8c8c8c" stroke-width="0.85"/>
<path d="M152.02,474.70 A79.6,79.6 0 0 1 191.32,485.32 L184.33,497.45 A65.6,65.6 0 0 0 151.94,488.70 Z" fill="#ffffff" stroke="#8c8c8c" stroke-width="0.85"/>
<path d="M192.04,485.74 A79.6,79.6 0 0 1 220.16,513.85 L208.10,520.97 A65.6,65.6 0 0 0 184.93,497.80 Z" fill="#ffffff" stroke="#8c8c8c" stroke-width="0.85"/>
<path d="M220.58,514.57 A79.6,79.6 0 0 1 230.72,545.58 L216.80,547.11 A65.6,65.6 0 0 0 208.45,521.56 Z" fill="#ffffff" stroke="#8c8c8c" stroke-width="0.85"/>
<path d="M230.81,546.40 A79.6,79.6 0 0 1 227.67,577.75 L214.29,573.62 A65.6,65.6 0 0 0 216.88,547.79 Z" fill="#ffffff" stroke="#8c8c8c" stroke-width="0.85"/>
<path d="M227.42,578.54 A79.6,79.6 0 0 1 213.13,604.80 L202.31,595.92 A65.6,65.6 0 0 0 214.08,574.28 Z" fill="#ffffff" stroke="#8c8c8c" stroke-width="0.85"/>
<path d="M212.59,605.45 A79.6,79.6 0 0 1 190.85,623.55 L183.95,611.37 A65.6,65.6 0 0 0 201.87,596.45 Z" fill="#ffffff" stroke="#8c8c8c" stroke-width="0.85"/>
<path d="M190.12,623.96 A79.6,79.6 0 0 1 165.25,632.72 L162.85,618.93 A65.6,65.6 0 0 0 183.35,611.71 Z" fill="#ffffff" stroke="#8c8c8c" stroke-width="0.85"/>
<path d="M164.43,632.86 A79.6,79.6 0 0 1 140.16,633.07 L142.17,619.22 A65.6,65.6 0 0 0 162.17,619.04 Z" fill="#ffffff" stroke="#8c8c8c" stroke-width="0.85"/>
<path d="M139.33,632.95 A79.6,79.6 0 0 1 116.93,625.95 L123.03,613.35 A65.6,65.6 0 0 0 141.49,619.12 Z" fill="#ffffff" stroke="#8c8c8c" stroke-width="0.85"/>
<path d="M116.18,625.59 A79.6,79.6 0 0 1 97.53,612.72 L107.04,602.44 A65.6,65.6 0 0 0 122.41,613.05 Z" fill="#ffffff" stroke="#8c8c8c" stroke-width="0.85"/>
<path d="M96.92,612.15 A79.6,79.6 0 0 1 82.92,594.54 L95.00,587.46 A65.6,65.6 0 0 0 106.54,601.98 Z" fill="#ffffff" stroke="#8c8c8c" stroke-width="0.85"/>
<path d="M82.50,593.82 A79.6,79.6 0 0 1 74.24,573.06 L87.85,569.76 A65.6,65.6 0 0 0 94.66,586.87 Z" fill="#ffffff" stroke="#8c8c8c" stroke-width="0.85"/>
<path d="M74.05,572.25 A79.6,79.6 0 0 1 72.01,553.10 L86.01,553.31 A65.6,65.6 0 0 0 87.69,569.10 Z" fill="#ffffff" stroke="#8c8c8c" stroke-width="0.85"/>
<path d="M72.03,552.26 A79.6,79.6 0 0 1 74.51,534.47 L88.07,537.95 A65.6,65.6 0 0 0 86.02,552.62 Z" fill="#ffffff" stroke="#8c8c8c" stroke-width="0.85"/>
<path d="M74.72,533.66 A79.6,79.6 0 0 1 81.01,517.52 L93.42,523.99 A65.6,65.6 0 0 0 88.24,537.29 Z" fill="#ffffff" stroke="#8c8c8c" stroke-width="0.85"/>
<path d="M81.40,516.78 A79.6,79.6 0 0 1 89.82,504.11 L100.68,512.94 A65.6,65.6 0 0 0 93.74,523.38 Z" fill="#ffffff" stroke="#8c8c8c" stroke-width="0.85"/>
<path d="M90.34,503.47 A79.6,79.6 0 0 1 100.01,493.68 L109.08,504.35 A65.6,65.6 0 0 0 101.12,512.41 Z" fill="#ffffff" stroke="#8c8c8c" stroke-width="0.85"/>
<path d="M100.64,493.15 A79.6,79.6 0 0 1 111.50,485.54 L118.56,497.63 A65.6,65.6 0 0 0 109.61,503.90 Z" fill="#ffffff" stroke="#8c8c8c" stroke-width="0.85"/>
<path d="M112.23,485.12 A79.6,79.6 0 0 1 121.37,480.66 L126.69,493.61 A65.6,65.6 0 0 0 119.15,497.29 Z" fill="#ffffff" stroke="#8c8c8c" stroke-width="0.85"/>
<path d="M122.14,480.35 A79.6,79.6 0 0 1 132.45,477.04 L135.82,490.63 A65.6,65.6 0 0 0 127.32,493.36 Z" fill="#ffffff" stroke="#8c8c8c" stroke-width="0.85"/>
<path d="M133.26,476.84 A79.6,79.6 0 0 1 141.50,475.34 L143.28,489.23 A65.6,65.6 0 0 0 136.48,490.47 Z" fill="#ffffff" stroke="#8c8c8c" stroke-width="0.85"/>
<path d="M142.33,475.24 A79.6,79.6 0 0 1 151.18,474.70 L151.26,488.70 A65.6,65.6 0 0 0 143.96,489.15 Z" fill="#ffffff" stroke="#8c8c8c" stroke-width="0.85"/>
<path d="M151.94,490.30 A64.0,64.0 0 0 1 183.54,498.84 L177.15,509.93 A51.2,51.2 0 0 0 151.87,503.10 Z" fill="#ffffff" stroke="#8c8c8c" stroke-width="0.85"/>
<path d="M184.11,499.17 A64.0,64.0 0 0 1 206.72,521.78 L195.70,528.28 A51.2,51.2 0 0 0 177.61,510.20 Z" fill="#ffffff" stroke="#8c8c8c" stroke-width="0.85"/>
<path d="M207.06,522.36 A64.0,64.0 0 0 1 215.21,547.29 L202.49,548.69 A51.2,51.2 0 0 0 195.97,528.75 Z" fill="#ffffff" stroke="#8c8c8c" stroke-width="0.85"/>
<path d="M215.28,547.95 A64.0,64.0 0 0 1 212.76,573.15 L200.53,569.38 A51.2,51.2 0 0 0 202.55,549.22 Z" fill="#ffffff" stroke="#8c8c8c" stroke-width="0.85"/>
<path d="M212.56,573.79 A64.0,64.0 0 0 1 201.07,594.91 L191.17,586.78 A51.2,51.2 0 0 0 200.37,569.89 Z" fill="#ffffff" stroke="#8c8c8c" stroke-width="0.85"/>
<path d="M200.64,595.42 A64.0,64.0 0 0 1 183.16,609.98 L176.85,598.84 A51.2,51.2 0 0 0 190.83,587.20 Z" fill="#ffffff" stroke="#8c8c8c" stroke-width="0.85"/>
<path d="M182.57,610.31 A64.0,64.0 0 0 1 162.58,617.35 L160.38,604.74 A51.2,51.2 0 0 0 176.38,599.10 Z" fill="#ffffff" stroke="#8c8c8c" stroke-width="0.85"/>
<path d="M161.92,617.46 A64.0,64.0 0 0 1 142.40,617.64 L144.24,604.97 A51.2,51.2 0 0 0 159.85,604.83 Z" fill="#ffffff" stroke="#8c8c8c" stroke-width="0.85"/>
<path d="M141.74,617.54 A64.0,64.0 0 0 1 123.73,611.91 L129.30,600.39 A51.2,51.2 0 0 0 143.71,604.89 Z" fill="#ffffff" stroke="#8c8c8c" stroke-width="0.85"/>
<path d="M123.13,611.62 A64.0,64.0 0 0 1 108.13,601.27 L116.82,591.88 A51.2,51.2 0 0 0 128.82,600.15 Z" fill="#ffffff" stroke="#8c8c8c" stroke-width="0.85"/>
<path d="M107.64,600.81 A64.0,64.0 0 0 1 96.38,586.65 L107.42,580.18 A51.2,51.2 0 0 0 116.43,591.51 Z" fill="#ffffff" stroke="#8c8c8c" stroke-width="0.85"/>
<path d="M96.04,586.07 A64.0,64.0 0 0 1 89.40,569.39 L101.84,566.37 A51.2,51.2 0 0 0 107.16,579.72 Z" fill="#ffffff" stroke="#8c8c8c" stroke-width="0.85"/>
<path d="M89.25,568.73 A64.0,64.0 0 0 1 87.61,553.33 L100.41,553.53 A51.2,51.2 0 0 0 101.72,565.85 Z" fill="#ffffff" stroke="#8c8c8c" stroke-width="0.85"/>
<path d="M87.62,552.66 A64.0,64.0 0 0 1 89.62,538.35 L102.01,541.54 A51.2,51.2 0 0 0 100.42,552.99 Z" fill="#ffffff" stroke="#8c8c8c" stroke-width="0.85"/>
<path d="M89.79,537.70 A64.0,64.0 0 0 1 94.84,524.73 L106.19,530.64 A51.2,51.2 0 0 0 102.15,541.02 Z" fill="#ffffff" stroke="#8c8c8c" stroke-width="0.85"/>
<path d="M95.15,524.13 A64.0,64.0 0 0 1 101.92,513.95 L111.86,522.02 A51.2,51.2 0 0 0 106.44,530.17 Z" fill="#ffffff" stroke="#8c8c8c" stroke-width="0.85"/>
<path d="M102.35,513.43 A64.0,64.0 0 0 1 110.12,505.56 L118.41,515.31 A51.2,51.2 0 0 0 112.20,521.60 Z" fill="#ffffff" stroke="#8c8c8c" stroke-width="0.85"/>
<path d="M110.63,505.13 A64.0,64.0 0 0 1 119.36,499.01 L125.81,510.07 A51.2,51.2 0 0 0 118.82,514.97 Z" fill="#ffffff" stroke="#8c8c8c" stroke-width="0.85"/>
<path d="M119.94,498.68 A64.0,64.0 0 0 1 127.30,495.09 L132.16,506.94 A51.2,51.2 0 0 0 126.27,509.80 Z" fill="#ffffff" stroke="#8c8c8c" stroke-width="0.85"/>
<path d="M127.92,494.84 A64.0,64.0 0 0 1 136.20,492.18 L139.28,504.60 A51.2,51.2 0 0 0 132.65,506.73 Z" fill="#ffffff" stroke="#8c8c8c" stroke-width="0.85"/>
<path d="M136.85,492.02 A64.0,64.0 0 0 1 143.48,490.82 L145.11,503.51 A51.2,51.2 0 0 0 139.80,504.48 Z" fill="#ffffff" stroke="#8c8c8c" stroke-width="0.85"/>
<path d="M144.15,490.74 A64.0,64.0 0 0 1 151.26,490.30 L151.33,503.10 A51.2,51.2 0 0 0 145.64,503.45 Z" fill="#ffffff" stroke="#8c8c8c" stroke-width="0.85"/>
<path d="M152.56,485.33 L153.13,486.94 L153.71,487.42 L154.32,486.87 L155.06,483.76 L155.56,485.93 L156.30,483.87 L156.72,486.42 L157.32,486.50 L157.90,486.66 L158.55,486.14 L159.15,486.24 L159.71,486.59 L160.46,485.40 L160.68,488.30 L161.56,486.34 L162.18,486.25 L162.54,487.81 L163.67,484.72 L163.59,488.59 L164.45,487.24 L165.20,486.53 L165.60,487.59 L166.21,487.59 L166.63,488.43 L167.05,489.24 L168.71,484.95 L168.19,489.53 L169.51,486.82 L169.25,490.08 L171.25,485.19 L171.13,487.82 L172.15,486.55 L172.26,488.27 L174.26,484.07 L173.33,488.91 L173.86,489.24 L174.49,489.24 L175.41,488.49 L175.97,488.74 L175.72,491.12 L176.49,490.77 L176.94,491.25 L180.36,484.53 L177.85,492.16 L180.05,488.56 L180.27,489.62 L179.63,492.54 L180.10,492.95 L181.11,492.19 L181.49,492.79 L181.42,494.27 L183.61,491.25 L182.89,494.00 L183.50,494.12 L183.61,495.16 L184.73,494.37 L185.13,494.88 L184.23,496.47 A66.4,66.4 0 0 0 152.53,487.91 Z M186.19,496.80 L187.24,496.21 L188.04,496.06 L188.60,496.28 L188.23,497.96 L191.91,493.46 L190.10,497.28 L190.89,497.19 L191.43,497.47 L192.77,496.63 L191.42,499.54 L193.14,498.20 L192.19,500.47 L192.74,500.72 L193.94,500.13 L195.78,498.79 L195.20,500.48 L195.40,501.19 L195.39,502.13 L195.11,503.37 L195.82,503.45 L197.41,502.53 L198.40,502.33 L202.68,498.57 L199.52,502.92 L197.78,505.64 L199.94,504.24 L201.95,503.06 L200.96,504.94 L201.55,505.21 L201.57,506.04 L200.49,507.90 L202.15,507.15 L205.84,504.59 L201.67,509.20 L203.18,508.65 L203.04,509.56 L207.86,506.23 L204.56,509.83 L204.25,510.87 L205.74,510.43 L204.95,511.84 L207.17,510.85 L206.16,512.40 L206.48,512.91 L207.22,513.11 L206.70,514.23 L210.01,512.59 L207.25,515.29 L208.24,515.33 L210.09,514.80 L207.64,517.16 L210.57,515.96 L212.64,515.36 L208.17,518.90 L210.81,517.97 L212.98,517.36 L208.49,520.06 A66.4,66.4 0 0 0 185.83,497.40 Z M212.31,520.04 L213.10,520.30 L211.93,521.64 L212.56,521.99 L214.96,521.42 L211.92,523.67 L212.60,524.00 L214.28,523.84 L214.66,524.34 L216.55,524.14 L213.91,526.03 L215.21,526.11 L216.00,526.43 L214.87,527.58 L215.39,528.02 L214.11,529.18 L215.44,529.30 L215.77,529.82 L215.23,530.66 L217.63,530.43 L216.51,531.47 L214.89,532.67 L218.45,532.10 L218.05,532.88 L223.97,531.68 L215.72,534.87 L219.00,534.52 L220.90,534.62 L218.45,535.95 L218.89,536.47 L218.29,537.25 L218.02,537.94 L218.85,538.36 L219.55,538.82 L218.87,539.60 L220.09,539.96 L219.22,540.76 L225.65,540.15 L219.39,541.96 L221.19,542.26 L218.81,543.28 L220.12,543.69 L219.12,544.45 L220.49,544.86 L219.45,545.61 L218.99,546.27 L217.53,546.45 A66.4,66.4 0 0 0 209.43,521.67 Z M220.45,548.04 L224.66,548.31 L220.69,549.25 L223.56,549.68 L218.52,550.60 L221.55,551.06 L222.99,551.62 L223.28,552.25 L219.02,552.97 L220.89,553.54 L220.85,554.16 L219.01,554.76 L218.81,555.35 L221.09,556.00 L220.94,556.62 L222.76,557.31 L221.78,557.89 L220.24,558.42 L219.25,558.96 L218.00,559.47 L223.54,560.54 L218.26,560.68 L221.12,561.57 L219.31,561.99 L219.90,562.67 L222.96,563.69 L219.24,563.81 L219.99,564.53 L219.76,565.12 L219.91,565.76 L218.79,566.19 L219.95,567.02 L218.49,567.36 L219.66,568.22 L221.03,569.14 L218.63,569.25 L218.45,569.83 L219.11,570.61 L216.83,570.68 L216.31,571.16 L219.87,572.73 L218.92,573.12 L218.05,573.51 L216.53,573.69 L215.22,573.30 A66.4,66.4 0 0 0 217.73,548.29 Z M216.21,575.58 L214.73,575.71 L214.88,576.38 L216.00,577.41 L215.21,577.76 L216.76,578.99 L215.20,579.04 L213.51,579.01 L217.44,581.25 L214.48,580.69 L213.81,581.05 L212.55,581.15 L215.52,583.13 L212.50,582.41 L212.69,583.16 L211.57,583.27 L213.19,584.73 L212.78,585.20 L210.92,584.91 L212.11,586.20 L211.28,586.44 L210.63,586.76 L211.69,588.04 L212.84,589.39 L209.09,587.92 L209.59,588.90 L211.72,590.89 L210.64,590.95 L208.28,590.18 L209.94,591.95 L207.54,591.10 L207.53,591.81 L206.59,591.88 L206.75,592.71 L205.98,592.88 L206.77,594.18 L206.56,594.76 L205.38,594.63 L204.76,594.90 L204.48,595.43 L204.55,596.23 L204.03,596.57 L203.29,595.98 A66.4,66.4 0 0 0 214.67,575.07 Z M205.43,600.25 L203.34,599.24 L204.58,601.14 L202.60,600.19 L203.19,601.54 L202.47,601.70 L202.32,602.39 L202.78,603.68 L204.40,606.15 L200.84,603.50 L202.11,605.66 L200.22,604.60 L199.91,605.16 L199.40,605.51 L197.24,604.06 L198.27,606.08 L196.50,605.00 L196.98,606.45 L196.76,607.12 L197.06,608.41 L196.87,609.16 L195.45,608.39 L195.15,608.99 L194.61,609.28 L194.47,610.10 L197.31,614.89 L194.12,611.69 L192.43,610.43 L192.57,611.66 L191.46,611.14 L191.42,612.16 L190.55,611.96 L189.61,611.63 L190.32,613.83 L189.14,613.14 L189.48,614.82 L187.85,613.35 L188.48,615.57 L186.71,613.80 L184.94,611.95 L184.84,611.78 A66.4,66.4 0 0 0 202.11,597.41 Z M183.78,613.72 L184.55,616.42 L182.29,613.41 L182.45,615.01 L182.09,615.62 L181.20,615.17 L180.36,614.78 L180.23,615.90 L179.14,614.94 L179.39,616.94 L179.14,617.87 L177.74,616.12 L177.81,617.82 L176.49,616.15 L176.54,617.88 L175.52,616.90 L175.23,617.79 L174.63,617.87 L173.85,617.44 L173.19,617.33 L173.06,618.78 L172.19,618.03 L171.58,618.06 L171.30,619.12 L171.24,621.02 L170.39,620.27 L169.86,620.62 L169.21,620.53 L169.23,622.99 L167.67,619.30 L167.58,621.45 L166.50,619.43 L166.03,620.03 L165.37,619.76 L164.79,619.82 L164.51,621.49 L163.60,619.81 L163.56,619.61 A66.4,66.4 0 0 0 183.23,612.68 Z M162.16,622.68 L161.19,620.22 L161.09,623.80 L160.33,622.71 L160.09,625.83 L159.02,621.79 L158.38,621.44 L157.86,622.22 L157.22,621.65 L156.65,622.06 L156.06,622.08 L155.61,624.62 L154.81,620.82 L154.32,623.12 L153.83,626.77 L153.09,622.28 L152.50,622.19 L151.90,622.61 L151.31,621.84 L150.71,622.78 L150.11,622.85 L149.51,622.70 L148.89,623.14 L148.27,623.67 L147.70,622.99 L147.07,623.39 L146.31,625.42 L145.95,622.14 L145.43,621.31 L144.74,622.36 L144.07,622.96 L143.32,624.14 L143.04,621.43 L141.92,625.27 L142.63,620.09 A66.4,66.4 0 0 0 161.73,619.92 Z M140.43,622.05 L140.19,619.92 L139.28,621.68 L138.73,621.39 L138.16,621.20 L137.29,622.48 L136.76,622.06 L136.76,619.35 L136.01,619.98 L135.33,620.27 L134.41,621.51 L134.37,619.30 L133.76,619.31 L133.17,619.25 L132.28,620.18 L131.98,619.12 L131.61,618.30 L130.26,620.61 L129.84,619.95 L129.22,619.90 L129.33,617.78 L128.61,618.05 L128.23,617.36 L126.91,619.19 L126.92,617.51 L126.57,616.80 L126.30,615.91 L124.89,617.76 L125.23,615.46 L123.83,617.19 L122.95,617.69 L123.62,614.81 L122.82,615.14 L123.20,614.32 A66.4,66.4 0 0 0 140.80,619.82 Z M121.01,614.55 L120.69,613.85 L120.04,613.80 L117.37,617.47 L119.24,612.76 L117.70,614.27 L117.92,612.65 L117.27,612.57 L116.55,612.60 L116.28,611.88 L115.89,611.36 L114.96,611.69 L114.69,610.99 L114.53,610.14 L114.11,609.70 L113.46,609.59 L113.26,608.82 L112.64,608.67 L112.06,608.45 L111.39,608.34 L110.47,608.56 L109.58,608.72 L109.39,607.96 L107.48,609.37 L109.50,605.90 L108.73,605.89 L107.75,606.12 L104.50,608.96 L106.09,606.18 L106.20,605.13 L105.35,605.15 L106.93,603.42 A66.4,66.4 0 0 0 121.54,613.51 Z M102.41,605.45 L101.72,605.25 L104.59,601.47 L103.17,602.04 L103.73,600.66 L103.35,600.21 L102.75,599.96 L100.70,601.04 L101.61,599.39 L99.38,600.56 L100.80,598.51 L100.33,598.13 L99.65,597.92 L100.22,596.67 L97.21,598.34 L96.47,598.14 L98.77,595.55 L97.86,595.49 L96.67,595.64 L97.86,594.01 L92.25,597.34 L97.34,592.92 L95.53,593.46 L95.91,592.47 L94.26,592.85 L94.12,592.21 L94.85,591.01 L93.94,590.88 L94.17,590.02 L94.58,589.07 L93.10,589.27 L94.60,588.37 A66.4,66.4 0 0 0 105.57,602.16 Z M90.88,588.33 L90.96,587.59 L91.19,586.77 L92.53,585.38 L92.39,584.79 L91.28,584.70 L86.87,586.21 L91.21,583.41 L89.90,583.37 L91.11,582.16 L90.48,581.80 L89.62,581.53 L90.33,580.58 L89.76,580.18 L89.10,579.81 L88.82,579.28 L87.35,579.21 L88.82,578.01 L88.84,577.38 L87.94,577.07 L88.59,576.22 L86.45,576.32 L88.22,575.10 L87.47,574.72 L87.56,574.08 L86.37,573.82 L86.72,573.09 L86.21,572.61 L86.28,571.98 L85.98,571.44 L83.41,571.47 L87.21,570.51 A66.4,66.4 0 0 0 93.68,586.76 Z M86.46,568.78 L83.20,568.89 L82.26,568.46 L85.22,567.26 L85.65,566.58 L86.02,565.93 L79.45,566.45 L83.60,565.14 L83.35,564.58 L85.01,563.74 L84.15,563.27 L82.85,562.83 L84.33,562.06 L84.21,561.48 L83.84,560.93 L84.70,560.26 L77.44,560.26 L81.92,559.29 L83.67,558.58 L79.96,558.19 L81.79,557.48 L84.28,556.79 L84.09,556.21 L83.10,555.64 L82.19,555.06 L80.82,554.46 L82.29,553.86 L85.20,553.88 A66.4,66.4 0 0 0 86.78,568.71 Z M83.87,551.97 L83.31,551.36 L81.55,550.67 L81.64,550.07 L80.29,549.36 L84.11,549.04 L85.24,548.54 L81.63,547.62 L82.38,547.08 L83.82,546.63 L84.52,546.12 L83.50,545.40 L80.75,544.41 L82.18,543.99 L81.82,543.32 L81.28,542.60 L85.21,542.66 L85.25,542.07 L85.91,541.60 L84.42,540.71 L81.99,539.59 L83.71,539.33 L85.20,539.05 L82.85,537.88 L83.52,537.42 L87.15,538.32 A66.4,66.4 0 0 0 85.24,552.02 Z M85.29,535.87 L83.06,534.61 L85.05,534.55 L86.70,534.42 L84.55,533.12 L86.82,533.22 L87.12,532.69 L87.09,532.05 L86.48,531.21 L86.65,530.63 L86.00,529.74 L83.94,528.29 L85.78,528.34 L89.38,529.13 L87.10,527.55 L89.47,527.90 L90.10,527.53 L85.03,524.63 L89.97,526.19 L89.20,525.17 L88.46,524.15 L89.11,523.79 L91.57,524.34 L87.88,521.80 L92.45,524.13 A66.4,66.4 0 0 0 87.62,536.52 Z M92.61,522.11 L91.38,520.75 L91.23,519.98 L91.64,519.52 L93.44,519.88 L92.83,518.83 L93.71,518.67 L93.77,518.01 L94.34,517.67 L93.89,516.67 L94.93,516.64 L95.87,516.56 L96.69,516.42 L95.90,515.16 L95.98,514.49 L96.74,514.30 L94.24,511.71 L98.07,513.82 L98.80,513.65 L95.23,510.12 L98.23,511.71 L99.70,512.89 A66.4,66.4 0 0 0 93.31,522.49 Z M99.73,510.49 L100.44,510.32 L99.75,508.95 L100.71,509.00 L100.42,507.94 L101.13,507.79 L101.46,507.29 L100.95,505.98 L102.25,506.39 L102.71,506.02 L102.17,504.63 L102.66,504.26 L102.80,503.54 L103.98,503.91 L105.61,504.78 L105.21,503.48 L104.66,501.98 L106.22,502.82 L106.49,502.22 L108.12,504.11 A66.4,66.4 0 0 0 100.87,511.45 Z M108.23,501.32 L108.84,501.12 L109.50,500.98 L110.79,501.67 L110.02,499.70 L111.18,500.25 L110.91,498.87 L110.85,497.76 L111.96,498.26 L111.38,496.37 L113.04,497.70 L113.95,497.99 L114.10,497.12 L114.39,496.47 L115.33,496.83 L115.47,495.91 L116.67,496.73 L116.91,495.99 L117.65,497.23 A66.4,66.4 0 0 0 109.54,502.92 Z M118.08,494.19 L119.14,494.81 L119.82,494.76 L120.44,494.60 L119.96,492.29 L121.01,492.97 L122.11,493.80 L122.47,493.11 L122.70,492.11 L123.19,491.67 L124.56,493.21 L124.89,492.42 L123.41,487.29 L125.85,493.10 A66.4,66.4 0 0 0 119.26,496.31 Z M127.24,491.55 L127.00,489.18 L128.44,491.27 L129.20,491.58 L129.72,491.22 L130.11,490.47 L130.88,490.85 L130.70,488.24 L131.41,488.42 L132.45,489.70 L132.62,488.08 L133.43,488.65 L134.42,489.95 L134.92,489.44 L135.06,489.99 A66.4,66.4 0 0 0 127.57,492.40 Z M136.26,486.89 L136.91,487.05 L137.79,488.28 L138.31,487.84 L138.80,487.23 L139.26,486.46 L140.26,488.67 L140.53,486.69 L141.42,488.48 L141.63,485.85 L142.58,488.31 L142.60,488.51 A66.4,66.4 0 0 0 136.86,489.56 Z M144.36,487.53 L144.76,485.10 L145.60,487.21 L146.06,485.04 L146.68,484.56 L147.41,485.66 L148.05,485.58 L148.66,484.64 L149.42,487.74 L150.03,487.29 L150.65,485.97 L150.67,487.91 A66.4,66.4 0 0 0 144.44,488.29 Z" fill="#ec7464"/>
<path d="M152.78,469.99 L153.51,470.31 L154.25,470.27 L155.00,469.78 L155.78,469.12 L156.50,469.60 L157.28,469.16 L158.00,469.45 L158.77,469.21 L159.48,469.73 L160.15,470.46 L160.92,470.25 L161.69,470.04 L162.51,469.51 L163.17,470.23 L163.75,471.36 L164.50,471.34 L165.47,469.98 L166.48,468.54 L166.61,472.07 L167.29,472.42 L168.24,471.39 L169.10,470.92 L169.70,471.67 L170.40,471.91 L171.14,472.03 L171.93,471.92 L172.83,471.38 L173.71,470.99 L174.31,471.66 L175.08,471.71 L175.35,473.46 L176.21,473.17 L176.97,473.22 L177.61,473.69 L178.02,474.81 L179.36,473.14 L179.73,474.37 L180.83,473.50 L181.42,474.08 L182.12,474.36 L182.08,476.51 L183.41,475.17 L184.26,475.05 L185.09,475.03 L185.59,475.77 L185.66,477.46 L187.18,475.89 L187.69,476.60 L187.06,479.67 L188.48,478.40 L189.17,478.68 L190.11,478.46 L191.02,478.33 L191.56,478.91 L192.09,479.50 L193.12,479.18 L194.06,479.04 L194.65,478.01 A87.6,87.6 0 0 0 152.82,466.71 Z M195.05,482.08 L196.53,481.08 L196.69,482.23 L196.18,484.41 L198.37,482.35 L199.04,482.70 L199.41,483.49 L199.48,484.69 L200.62,484.36 L201.14,484.90 L201.71,485.38 L202.77,485.19 L202.51,486.79 L203.88,486.21 L204.10,487.13 L204.74,487.53 L205.26,488.06 L205.86,488.51 L206.15,489.31 L207.11,489.33 L207.43,490.09 L207.59,491.03 L208.57,491.04 L209.11,491.55 L208.93,492.83 L211.29,491.40 L211.00,492.78 L211.90,492.94 L212.72,493.18 L211.93,495.00 L213.36,494.65 L214.30,494.79 L212.24,497.73 L213.81,497.28 L214.07,498.03 L215.56,497.69 L216.08,498.22 L215.67,499.55 L218.14,498.44 L218.15,499.41 L218.65,499.97 L218.15,501.33 L219.11,501.51 L220.04,501.74 L219.78,502.88 L219.44,504.06 L221.67,503.34 L220.53,505.09 L222.27,504.77 L220.95,506.59 L222.95,506.12 L222.85,507.09 L223.57,507.50 L223.07,508.71 L223.78,509.13 L224.48,509.57 L224.36,510.52 L226.66,509.13 A87.6,87.6 0 0 0 196.76,479.24 Z M225.41,512.64 L226.87,512.69 L224.24,514.97 L224.81,515.49 L228.50,514.40 L227.28,515.87 L227.25,516.72 L227.13,517.60 L227.69,518.15 L228.78,518.46 L229.73,518.85 L229.09,519.96 L228.62,520.97 L230.67,520.91 L230.90,521.62 L230.35,522.66 L232.23,522.72 L231.09,523.97 L231.50,524.62 L231.01,525.59 L232.24,525.94 L232.64,526.60 L232.46,527.45 L232.40,528.26 L233.15,528.80 L232.79,529.70 L232.37,530.60 L232.20,531.42 L231.94,532.25 L234.30,532.38 L234.17,533.19 L236.15,533.47 L232.50,535.13 L234.96,535.31 L234.52,536.18 L234.19,537.01 L236.00,537.40 L234.53,538.45 L235.10,539.10 L236.83,539.56 L235.07,540.62 L234.38,541.48 L237.22,541.81 L234.94,542.88 L235.57,543.55 L235.43,544.32 L238.59,543.94 A87.6,87.6 0 0 0 227.89,511.25 Z M236.06,546.62 L236.38,547.35 L237.82,548.00 L235.69,548.91 L237.71,549.54 L236.69,550.35 L235.47,551.16 L238.09,551.82 L236.03,552.63 L237.36,553.36 L236.77,554.13 L238.13,554.89 L238.47,555.66 L236.26,556.38 L234.80,557.08 L235.89,557.86 L236.49,558.64 L236.38,559.39 L234.99,560.05 L235.01,560.79 L236.85,561.70 L237.13,562.48 L234.57,562.98 L236.43,563.94 L235.45,564.58 L234.88,565.26 L236.53,566.24 L236.19,566.96 L236.84,567.83 L234.50,568.21 L235.49,569.14 L234.50,569.73 L236.24,570.83 L234.35,571.22 L235.52,572.24 L234.81,572.85 L235.58,573.81 L234.50,574.33 L233.54,574.87 L234.17,575.81 L233.97,576.54 L233.11,577.08 L233.58,578.00 L232.70,578.53 L235.54,579.37 A87.6,87.6 0 0 0 238.84,546.37 Z M232.38,580.91 L231.79,581.50 L231.56,582.20 L229.12,582.12 L230.79,583.51 L231.04,584.40 L230.95,585.16 L229.77,585.50 L229.59,586.22 L229.43,586.96 L227.87,587.09 L229.26,588.51 L228.30,588.89 L227.19,589.19 L228.89,590.80 L226.91,590.68 L225.94,591.03 L228.18,592.97 L227.63,593.54 L227.23,594.18 L227.52,595.19 L225.35,594.85 L226.80,596.52 L224.59,596.12 L223.47,596.33 L225.47,598.38 L224.08,598.42 L224.92,599.81 L222.46,599.16 L223.21,600.52 L222.45,600.91 L221.80,601.37 L221.02,601.74 L221.26,602.81 L220.56,603.23 L220.54,604.13 L219.62,604.38 L220.10,605.67 L218.76,605.59 L219.73,607.29 L218.24,607.08 L216.09,606.30 L219.79,609.29 A87.6,87.6 0 0 0 234.80,581.71 Z M217.85,610.84 L215.44,609.75 L215.28,610.60 L214.78,611.14 L214.15,611.57 L213.10,611.60 L213.12,612.64 L212.38,612.95 L212.87,614.46 L210.51,613.16 L211.76,615.46 L210.00,614.72 L209.91,615.69 L209.95,616.81 L208.97,616.85 L208.16,617.05 L208.17,618.17 L208.27,619.42 L207.26,619.40 L205.54,618.51 L206.03,620.25 L205.71,621.04 L204.26,620.43 L203.29,620.38 L202.27,620.26 L202.50,621.76 L202.31,622.74 L201.30,622.61 L200.99,623.45 L201.15,624.97 L198.99,623.16 L198.47,623.68 L199.18,626.08 L197.20,624.41 L197.15,625.69 L196.95,626.75 L196.80,627.94 L195.35,626.99 L194.88,627.66 L193.77,627.20 L195.46,630.13 A87.6,87.6 0 0 0 218.23,611.17 Z M191.96,628.82 L191.05,628.68 L190.57,629.35 L189.88,629.63 L189.98,631.49 L189.36,631.94 L188.41,631.71 L187.31,631.13 L186.26,630.60 L186.58,633.14 L185.34,632.18 L185.07,633.44 L184.33,633.63 L183.48,633.53 L182.47,633.00 L181.93,633.67 L180.93,633.11 L180.90,635.20 L179.63,633.86 L178.92,634.07 L178.47,635.04 L177.65,634.92 L177.22,636.04 L176.64,636.72 L175.74,636.34 L175.08,636.76 L173.52,633.89 L173.60,637.02 L172.40,635.35 L172.00,636.79 L171.25,636.87 L170.44,636.66 L170.01,638.16 L168.96,636.82 L168.34,637.45 L167.93,639.27 L166.84,637.53 L167.38,640.47 A87.6,87.6 0 0 0 193.32,631.33 Z M164.56,638.27 L163.69,637.41 L162.95,637.44 L162.37,638.69 L161.39,636.74 L160.96,639.47 L160.18,639.27 L159.40,638.86 L158.56,637.73 L157.89,638.59 L157.06,637.29 L156.39,638.34 L155.66,638.40 L154.98,639.87 L154.21,639.40 L153.46,639.11 L152.73,640.12 L151.98,639.89 L151.23,640.22 L150.49,639.57 L149.77,638.40 L149.02,638.73 L148.28,638.89 L147.54,638.68 L146.74,639.75 L146.02,639.29 L145.27,639.38 L144.49,639.74 L143.79,639.21 L143.00,639.57 L142.34,638.74 L141.68,637.95 L140.90,638.26 L140.13,638.40 L139.77,641.10 A87.6,87.6 0 0 0 164.97,640.87 Z M137.91,637.31 L137.06,637.93 L136.34,637.77 L135.84,636.44 L134.79,637.97 L134.16,637.39 L133.53,636.79 L132.86,636.41 L131.97,637.02 L131.57,635.55 L131.12,634.36 L129.84,636.39 L129.64,634.30 L128.01,637.41 L128.14,634.29 L127.01,635.53 L126.43,634.92 L125.60,635.09 L124.82,635.10 L123.94,635.39 L123.49,634.43 L123.28,632.80 L122.56,632.68 L121.42,633.63 L120.67,633.51 L119.93,633.37 L119.08,633.49 L119.40,630.81 L118.34,631.44 L117.48,631.58 L116.59,631.76 L115.73,631.86 L115.92,629.72 L114.14,633.49 A87.6,87.6 0 0 0 137.35,640.73 Z M112.91,630.51 L113.09,628.49 L112.19,628.60 L111.60,628.11 L110.45,628.63 L110.00,627.90 L109.44,627.34 L108.88,626.82 L108.36,626.22 L107.30,626.51 L106.43,626.47 L105.85,625.96 L105.67,624.84 L104.06,625.92 L103.61,625.20 L103.40,624.17 L102.70,623.84 L102.23,623.20 L100.39,624.43 L100.97,622.36 L100.41,621.84 L100.35,620.68 L98.28,622.09 L98.58,620.48 L98.42,619.48 L97.85,618.99 L97.67,618.04 L97.02,617.65 L95.26,618.53 L95.65,616.93 L94.53,617.05 L92.66,619.11 A87.6,87.6 0 0 0 111.94,632.41 Z M91.94,616.33 L91.32,615.87 L91.41,614.70 L92.47,612.59 L90.50,613.47 L89.99,612.92 L88.96,612.85 L88.81,611.95 L89.22,610.56 L88.74,609.99 L87.48,610.11 L86.57,609.89 L87.08,608.47 L87.68,607.01 L87.61,606.11 L86.15,606.35 L84.75,606.50 L84.75,605.55 L83.55,605.51 L82.81,605.12 L82.45,604.45 L82.50,603.48 L82.52,602.55 L82.67,601.54 L82.14,601.00 L81.11,600.79 L78.74,601.44 L81.06,599.05 L79.91,598.90 L78.65,598.78 L79.76,597.24 L76.41,599.24 A87.6,87.6 0 0 0 90.88,617.44 Z M76.71,596.27 L77.75,594.83 L76.56,594.63 L77.07,593.52 L76.34,593.06 L75.17,592.81 L75.12,592.00 L73.74,591.83 L74.08,590.83 L74.02,590.03 L75.02,588.75 L73.55,588.59 L73.81,587.66 L73.11,587.15 L71.94,586.82 L73.23,585.49 L74.07,584.37 L72.72,584.09 L72.97,583.21 L72.19,582.71 L72.26,581.90 L72.95,580.88 L69.54,581.23 L70.16,580.24 L69.22,579.74 L70.31,578.62 L69.75,578.00 L69.23,577.37 L70.08,576.36 L71.10,575.33 L70.49,574.73 L66.65,575.69 A87.6,87.6 0 0 0 75.18,597.13 Z M68.57,572.76 L70.65,571.56 L68.00,571.37 L68.54,570.51 L66.79,570.10 L68.71,569.00 L67.08,568.53 L66.56,567.86 L68.63,566.80 L68.25,566.12 L66.00,565.68 L66.98,564.80 L69.76,563.74 L65.39,563.49 L67.00,562.58 L69.12,561.65 L68.87,560.95 L67.40,560.33 L66.53,559.66 L67.50,558.86 L66.56,558.18 L67.41,557.41 L68.01,556.66 L67.13,555.95 L68.08,555.21 L68.18,554.49 L66.28,553.75 L64.00,553.74 A87.6,87.6 0 0 0 66.09,573.31 Z M66.44,551.38 L67.06,550.66 L66.75,549.91 L66.76,549.17 L67.35,548.47 L67.11,547.71 L67.97,547.05 L66.47,546.17 L66.29,545.40 L69.34,545.00 L67.67,544.07 L68.49,543.43 L68.95,542.76 L68.51,541.96 L68.18,541.17 L66.93,540.22 L67.01,539.47 L69.35,539.15 L69.23,538.38 L69.28,537.65 L67.53,536.53 L67.28,535.71 L68.36,535.19 L68.43,534.44 L69.74,534.00 L66.58,533.21 A87.6,87.6 0 0 0 64.05,551.29 Z M68.96,531.34 L70.18,530.91 L69.78,530.02 L71.26,529.69 L71.32,528.94 L70.26,527.83 L71.05,527.31 L71.31,526.61 L71.74,525.98 L72.93,525.63 L71.35,524.25 L74.55,524.68 L71.81,522.83 L71.62,521.95 L73.68,521.98 L72.31,520.60 L74.74,520.84 L74.27,519.83 L73.97,518.88 L75.21,518.64 L75.01,517.73 L74.61,516.71 L75.21,516.18 L77.45,516.49 L73.56,514.50 A87.6,87.6 0 0 0 67.20,530.85 Z M77.57,513.90 L76.32,512.36 L79.48,513.30 L78.49,511.89 L78.82,511.23 L79.86,511.00 L79.53,509.94 L80.13,509.45 L80.64,508.90 L82.41,509.18 L81.84,507.94 L81.34,506.73 L82.24,506.45 L81.23,504.85 L83.92,505.85 L82.52,503.93 L83.45,503.70 L84.16,503.31 L84.95,502.99 L84.57,501.76 L85.11,501.24 L83.13,499.66 A87.6,87.6 0 0 0 74.70,512.34 Z M87.52,500.18 L86.86,498.65 L88.11,498.76 L88.37,498.02 L88.62,497.26 L88.29,495.96 L90.80,497.29 L88.93,494.52 L90.85,495.34 L90.93,494.38 L92.42,494.83 L91.94,493.31 L92.76,493.10 L93.65,492.97 L94.08,492.37 L94.03,491.23 L95.30,491.53 L95.67,490.85 L96.57,490.78 L94.24,488.09 A87.6,87.6 0 0 0 84.68,497.77 Z M98.26,489.14 L97.31,486.78 L99.39,488.19 L99.54,487.17 L101.25,488.18 L101.34,487.08 L101.10,485.52 L101.87,485.30 L102.48,484.86 L102.86,484.10 L103.88,484.27 L104.94,484.51 L104.35,482.26 L105.60,482.81 L107.04,483.70 L107.31,482.74 L107.23,481.17 L107.87,480.79 L106.82,479.01 A87.6,87.6 0 0 0 96.11,486.51 Z M109.89,479.51 L110.04,478.13 L111.56,479.28 L111.88,478.20 L113.37,479.39 L113.90,478.71 L114.07,477.30 L114.89,477.19 L115.86,477.41 L116.86,477.72 L117.52,477.29 L118.15,476.80 L118.57,475.80 L117.63,473.56 A87.6,87.6 0 0 0 108.94,477.79 Z M121.28,476.21 L121.56,474.79 L122.27,474.47 L123.12,474.54 L123.97,474.64 L124.48,473.75 L124.99,472.79 L126.09,473.68 L127.02,474.08 L127.16,471.85 L128.21,472.69 L128.99,472.59 L129.73,472.37 L130.47,472.15 L129.78,469.46 A87.6,87.6 0 0 0 119.89,472.64 Z M132.61,470.88 L133.55,471.64 L134.29,471.55 L134.98,471.23 L135.92,472.18 L136.41,470.75 L137.11,470.41 L137.89,470.57 L138.78,471.45 L139.40,470.61 L140.10,470.22 L139.73,467.51 A87.6,87.6 0 0 0 132.16,468.88 Z M142.59,471.15 L143.32,470.57 L144.03,469.60 L144.93,470.93 L145.53,468.17 L146.47,470.30 L147.19,468.92 L148.05,470.23 L148.79,468.68 L149.63,469.92 L150.42,470.11 L150.38,466.71 A87.6,87.6 0 0 0 142.16,467.21 Z" fill="#1f5f8e" stroke="#8cc3e0" stroke-width="0.4"/>
<path d="M152.39,497.68 L152.85,499.30 L153.35,498.80 L153.86,498.13 L154.35,498.26 L154.73,500.18 L155.40,497.29 L155.68,500.21 L156.16,500.19 L156.91,497.30 L157.21,499.33 L157.62,499.99 L158.34,497.97 L158.89,497.61 L159.16,499.31 L159.65,499.37 L159.76,501.79 L160.75,498.69 L161.08,499.65 L161.83,498.26 L161.87,500.71 L162.70,498.98 L162.67,501.56 L163.44,500.23 L164.40,498.22 L164.40,500.38 L164.70,501.19 L165.65,499.41 L165.81,500.77 L166.53,499.98 L167.04,499.98 L167.02,501.83 L167.26,502.67 L168.27,501.04 L168.87,500.78 L168.96,502.07 L169.82,501.03 L170.28,501.22 L170.62,501.72 L170.02,504.74 L172.18,500.40 L171.03,504.71 L173.09,500.83 L172.65,503.24 L173.28,502.97 L173.99,502.58 L174.47,502.70 L174.53,503.77 L175.25,503.39 L175.17,504.69 L175.76,504.57 L176.51,504.15 L177.39,503.51 L178.10,503.23 L177.31,505.80 L177.40,506.64 L179.37,504.05 L179.39,505.04 L177.05,509.19 A51.8,51.8 0 0 0 152.32,502.51 Z M180.41,506.41 L180.28,507.56 L179.23,510.13 L180.90,508.36 L181.85,507.76 L182.28,507.99 L183.85,506.54 L183.33,508.17 L183.54,508.72 L184.47,508.25 L183.22,510.82 L184.23,510.23 L184.97,510.04 L184.13,511.93 L184.44,512.29 L184.14,513.41 L187.86,509.54 L186.22,512.32 L186.75,512.42 L188.67,510.91 L187.08,513.50 L188.64,512.45 L189.25,512.49 L188.88,513.62 L188.25,515.00 L190.54,513.26 L189.27,515.29 L190.06,515.16 L190.14,515.76 L192.45,514.15 L192.36,514.93 L190.43,517.45 L190.43,518.08 L193.63,515.77 L191.78,518.11 L192.77,517.86 L196.00,515.68 L192.25,519.57 L194.44,518.34 L194.76,518.70 L196.75,517.71 L194.73,519.97 L194.19,521.00 L194.05,521.70 L196.27,520.61 L196.37,521.14 L196.04,521.98 L197.59,521.46 L195.62,523.44 L200.52,520.64 L196.59,523.92 L198.80,523.02 L198.29,523.94 L199.88,523.50 L200.12,523.94 L198.23,525.68 L198.91,525.83 L195.98,527.59 A51.8,51.8 0 0 0 178.30,509.91 Z M199.16,527.46 L200.82,527.09 L200.09,528.05 L198.88,529.23 L199.41,529.49 L199.01,530.22 L203.51,528.51 L200.05,530.76 L201.10,530.78 L200.74,531.48 L201.54,531.64 L201.33,532.26 L201.82,532.57 L201.66,533.16 L202.19,533.46 L204.71,532.96 L200.11,535.30 L200.28,535.73 L203.06,535.18 L204.05,535.34 L203.67,535.99 L203.66,536.51 L202.98,537.24 L204.39,537.28 L203.81,537.98 L202.95,538.74 L201.92,539.53 L203.55,539.55 L203.57,540.04 L207.41,539.51 L206.88,540.17 L206.28,540.83 L204.78,541.70 L204.96,542.15 L204.71,542.69 L203.70,543.39 L206.08,543.39 L204.44,544.20 L204.62,544.65 L207.40,544.65 L205.42,545.48 L205.95,545.88 L207.32,546.17 L207.69,546.62 L208.00,547.08 L207.40,547.65 L203.04,548.17 A51.8,51.8 0 0 0 196.71,528.84 Z M206.09,549.35 L206.20,549.83 L204.18,550.46 L207.19,550.73 L204.77,551.36 L205.72,551.79 L205.99,552.26 L205.71,552.75 L208.09,553.18 L205.65,553.71 L207.62,554.19 L206.25,554.67 L205.77,555.15 L206.85,555.66 L204.42,556.06 L208.70,556.71 L207.40,557.15 L204.53,557.48 L206.19,558.06 L206.01,558.53 L203.51,558.80 L206.33,559.54 L207.92,560.19 L205.25,560.39 L204.38,560.77 L204.04,561.20 L206.80,562.06 L204.14,562.16 L206.11,562.95 L204.41,563.16 L203.80,563.54 L204.73,564.19 L205.13,564.75 L203.91,565.00 L204.46,565.60 L203.82,565.95 L204.74,566.65 L204.84,567.17 L204.09,567.48 L204.41,568.06 L204.55,568.59 L204.23,569.01 L204.99,569.73 L204.40,570.07 L201.23,569.13 A51.8,51.8 0 0 0 203.19,549.61 Z M205.61,572.09 L204.91,572.38 L204.34,572.70 L205.15,573.52 L203.96,573.61 L203.25,573.87 L203.79,574.60 L205.03,575.62 L203.21,575.42 L203.11,575.92 L202.93,576.37 L204.38,577.55 L202.97,577.47 L201.00,577.10 L200.74,577.51 L203.96,579.59 L201.39,578.89 L200.68,579.08 L202.70,580.67 L199.94,579.79 L201.67,581.26 L199.42,580.60 L201.32,582.21 L201.65,582.98 L199.07,582.06 L198.88,582.51 L197.35,582.14 L198.23,583.24 L198.15,583.77 L196.68,583.40 L198.45,585.12 L196.70,584.54 L200.48,587.70 L198.06,586.66 L195.21,585.24 L195.89,586.31 L194.50,585.88 L196.66,588.09 L197.38,589.27 L194.94,588.01 L195.41,588.99 L196.41,590.43 L191.92,586.81 A51.8,51.8 0 0 0 200.80,570.51 Z M194.38,590.82 L193.46,590.66 L191.55,589.62 L191.92,590.58 L192.33,591.60 L191.47,591.45 L191.36,592.00 L192.80,594.06 L191.52,593.50 L192.50,595.17 L190.49,593.84 L190.35,594.39 L188.93,593.60 L188.38,593.71 L188.80,594.86 L189.03,595.82 L187.67,595.03 L189.20,597.51 L186.08,594.63 L189.11,598.95 L186.99,597.19 L186.44,597.27 L185.82,597.27 L184.82,596.77 L184.67,597.34 L184.80,598.30 L184.25,598.37 L184.59,599.65 L184.18,599.91 L182.27,598.04 L182.40,599.05 L181.37,598.37 L182.71,601.23 L181.44,600.18 L181.70,601.47 L181.88,602.69 L179.88,600.37 L180.49,602.31 L179.47,601.53 L179.82,603.09 L177.53,599.14 A51.8,51.8 0 0 0 191.00,587.93 Z M177.14,601.44 L176.30,600.87 L176.40,602.06 L176.98,604.25 L176.04,603.46 L176.59,605.69 L175.06,603.63 L175.41,605.53 L173.15,601.74 L173.30,603.21 L173.39,604.60 L172.09,602.76 L173.71,607.89 L172.59,606.47 L172.29,607.04 L171.07,605.24 L170.52,605.13 L169.55,603.85 L169.58,605.34 L169.41,606.29 L168.76,605.87 L167.98,604.99 L167.60,605.36 L167.50,606.62 L166.80,605.94 L166.38,606.19 L166.04,606.72 L165.04,604.83 L164.88,606.04 L165.30,609.69 L164.09,606.77 L163.31,605.47 L162.99,606.16 L162.87,607.88 L162.27,607.33 L161.97,608.27 L161.63,609.05 L160.93,605.25 A51.8,51.8 0 0 0 176.27,599.85 Z M159.85,607.72 L160.09,612.65 L159.24,610.24 L158.20,605.98 L157.98,608.01 L157.52,608.20 L157.23,609.98 L156.61,608.64 L156.11,608.34 L155.65,608.55 L155.26,609.99 L154.76,609.81 L154.18,607.85 L153.69,607.27 L153.30,609.77 L152.81,609.40 L152.33,609.70 L151.85,610.11 L151.36,609.99 L150.83,613.02 L150.40,609.54 L149.94,608.74 L149.45,609.03 L148.83,611.92 L148.47,609.35 L148.00,609.17 L147.45,610.05 L147.06,608.89 L146.49,609.80 L146.03,609.51 L145.84,606.78 L145.18,608.43 L144.52,609.89 L143.97,610.28 L144.60,605.63 A51.8,51.8 0 0 0 159.50,605.49 Z M141.89,613.16 L142.21,608.31 L141.60,609.02 L141.26,608.19 L141.11,606.53 L139.71,610.92 L139.69,608.68 L139.43,607.63 L138.45,609.70 L137.87,609.99 L137.59,609.06 L137.37,607.97 L136.73,608.47 L136.42,607.79 L135.65,608.70 L134.98,609.21 L135.20,606.83 L133.86,609.44 L134.43,606.10 L133.37,607.74 L132.84,607.77 L132.97,605.96 L131.96,607.30 L131.38,607.44 L131.92,604.69 L130.35,607.36 L130.42,605.87 L131.03,603.17 L129.82,604.82 L128.36,606.93 L128.70,604.96 L129.16,602.83 L128.05,604.09 L129.45,601.12 A51.8,51.8 0 0 0 143.17,605.41 Z M127.05,602.65 L126.36,602.94 L125.88,602.80 L125.91,601.71 L125.54,601.38 L123.96,603.20 L123.67,602.69 L123.13,602.62 L123.15,601.62 L122.95,601.01 L122.13,601.39 L122.14,600.45 L122.72,598.66 L120.64,600.93 L119.85,601.21 L120.69,599.10 L119.56,599.87 L120.40,597.84 L119.82,597.82 L119.78,597.07 L117.62,599.13 L118.25,597.49 L115.88,599.71 L116.72,597.84 L116.05,597.87 L117.59,595.23 L114.83,597.75 L115.80,595.86 L114.16,596.97 L113.55,596.90 L114.67,594.91 L116.75,592.62 A51.8,51.8 0 0 0 128.15,600.49 Z M114.01,593.39 L113.71,593.00 L112.28,593.76 L111.99,593.35 L111.96,592.69 L111.62,592.33 L111.81,591.49 L110.83,591.74 L112.02,590.00 L110.67,590.56 L110.91,589.71 L110.76,589.21 L108.75,590.28 L110.18,588.45 L107.93,589.66 L109.70,587.61 L106.61,589.43 L109.05,586.92 L107.48,587.51 L108.48,586.16 L106.73,586.84 L107.09,585.98 L106.42,585.86 L105.79,585.70 L105.55,585.26 L105.73,584.55 L106.79,583.29 L103.77,584.64 L104.44,583.63 L104.32,583.13 L102.32,583.75 L107.14,580.88 A51.8,51.8 0 0 0 115.69,591.63 Z M104.37,580.77 L100.63,582.28 L102.46,580.71 L100.51,581.18 L102.48,579.60 L101.98,579.30 L100.33,579.57 L101.10,578.64 L101.80,577.77 L100.11,578.01 L101.79,576.71 L98.72,577.53 L99.96,576.45 L100.55,575.66 L99.27,575.66 L98.61,575.39 L99.45,574.52 L98.88,574.21 L96.58,574.53 L98.85,573.17 L98.69,572.70 L94.92,573.46 L99.57,571.38 L98.58,571.18 L99.99,570.24 L99.32,569.94 L97.71,569.91 L97.95,569.33 L97.30,568.99 L98.86,568.08 L97.95,567.81 L101.37,566.95 A51.8,51.8 0 0 0 106.41,579.62 Z M97.87,566.24 L98.10,565.71 L97.24,565.40 L95.34,565.28 L98.58,564.17 L96.33,564.10 L97.62,563.39 L98.40,562.78 L99.49,562.15 L96.19,562.15 L98.60,561.35 L95.27,561.29 L98.89,560.38 L96.36,560.19 L95.17,559.82 L96.81,559.18 L98.45,558.57 L99.61,558.03 L95.09,557.86 L94.81,557.38 L97.05,556.79 L95.62,556.37 L98.48,555.80 L95.54,555.40 L94.89,554.92 L98.89,554.42 L94.46,553.93 L99.80,553.97 A51.8,51.8 0 0 0 101.03,565.54 Z M96.87,552.42 L94.75,551.85 L96.15,551.43 L96.06,550.94 L94.65,550.36 L96.31,549.99 L97.66,549.62 L95.59,548.95 L93.81,548.27 L96.18,548.03 L97.48,547.70 L96.96,547.16 L98.80,546.93 L97.41,546.25 L96.34,545.60 L97.69,545.33 L99.24,545.12 L97.10,544.26 L98.48,544.03 L97.24,543.30 L97.29,542.82 L96.25,542.10 L96.18,541.57 L98.52,541.63 L94.87,540.23 L101.32,541.83 A51.8,51.8 0 0 0 99.83,552.52 Z M98.24,539.47 L96.57,538.49 L98.89,538.66 L98.31,537.98 L99.02,537.69 L97.92,536.83 L97.62,536.21 L96.73,535.38 L99.07,535.67 L100.94,535.84 L100.56,535.19 L99.72,534.36 L99.70,533.83 L100.51,533.63 L100.00,532.90 L98.96,531.93 L100.73,532.16 L100.43,531.49 L101.33,531.37 L103.49,531.84 L103.19,531.19 L102.06,530.11 L103.12,530.10 L103.39,529.72 L105.45,530.77 A51.8,51.8 0 0 0 101.69,540.43 Z M105.77,529.29 L103.83,527.69 L103.45,526.93 L103.89,526.62 L102.66,525.34 L101.20,523.88 L104.84,525.52 L103.41,524.06 L104.83,524.38 L103.87,523.18 L105.92,523.95 L105.92,523.37 L107.33,523.76 L107.26,523.14 L106.33,521.90 L107.73,522.31 L108.58,522.36 L107.21,520.74 L109.55,521.93 L107.57,519.79 L109.84,520.98 L111.11,521.99 A51.8,51.8 0 0 0 106.13,529.49 Z M109.85,519.03 L111.35,519.70 L109.83,517.76 L110.97,518.14 L109.84,516.48 L111.46,517.31 L112.32,517.47 L111.88,516.40 L112.46,516.31 L112.86,516.04 L113.55,516.06 L113.78,515.63 L113.69,514.86 L113.64,514.12 L115.88,515.84 L115.57,514.83 L115.88,514.48 L115.21,513.02 L116.03,513.24 L117.68,515.15 A51.8,51.8 0 0 0 112.03,520.87 Z M117.13,512.19 L117.34,511.69 L117.59,511.23 L119.50,512.91 L118.08,510.29 L117.72,508.99 L118.41,509.09 L119.46,509.71 L120.13,509.81 L120.97,510.19 L120.34,508.42 L121.22,508.85 L120.47,506.84 L121.03,506.80 L122.72,508.54 L122.25,506.87 L123.11,507.35 L123.43,506.95 L125.12,509.78 A51.8,51.8 0 0 0 118.79,514.22 Z M124.38,505.48 L125.27,506.05 L125.83,506.03 L126.10,505.46 L127.74,507.55 L127.43,505.85 L127.73,505.31 L127.40,503.46 L128.56,504.72 L129.55,505.69 L129.11,503.48 L128.49,500.77 L130.25,503.55 L131.51,506.55 A51.8,51.8 0 0 0 126.37,509.06 Z M131.26,501.91 L131.25,500.43 L132.40,502.03 L132.49,500.77 L133.99,503.52 L134.01,502.05 L134.23,501.11 L134.38,499.88 L135.71,502.44 L135.89,501.31 L136.85,502.82 L136.69,500.43 L137.41,501.15 L137.44,499.25 L138.70,504.13 A51.8,51.8 0 0 0 132.85,506.01 Z M139.02,499.02 L139.48,498.79 L140.71,502.26 L140.68,499.69 L141.25,500.10 L141.97,501.35 L141.78,497.45 L143.13,502.59 L143.16,499.74 L143.54,499.00 L144.40,501.66 L144.58,502.98 A51.8,51.8 0 0 0 140.10,503.79 Z M145.84,501.18 L146.11,498.82 L146.68,499.30 L147.14,498.56 L147.83,500.77 L148.29,500.06 L148.65,497.23 L149.30,499.71 L149.81,499.62 L150.32,499.49 L150.81,497.61 L150.88,502.51 A51.8,51.8 0 0 0 146.02,502.80 Z" fill="#1d5a88" stroke="#8cc3e0" stroke-width="0.4"/>
<g fill="#ee7f73"><circle cx="153.20" cy="462.90" r="0.55"/><circle cx="154.08" cy="462.14" r="0.55"/><circle cx="154.97" cy="461.79" r="0.55"/><circle cx="155.86" cy="461.51" r="0.55"/><circle cx="156.70" cy="462.24" r="0.55"/><circle cx="157.60" cy="461.96" r="0.55"/><circle cx="158.49" cy="461.70" r="0.55"/><circle cx="159.37" cy="461.82" r="0.55"/><circle cx="160.26" cy="461.75" r="0.55"/><circle cx="161.11" cy="462.07" r="0.55"/><circle cx="161.95" cy="462.46" r="0.55"/><circle cx="162.89" cy="461.95" r="0.55"/><circle cx="163.71" cy="462.47" r="0.55"/><circle cx="164.52" cy="463.06" r="0.55"/><circle cx="165.40" cy="463.08" r="0.55"/><circle cx="166.32" cy="462.88" r="0.55"/><circle cx="167.17" cy="463.08" r="0.55"/><circle cx="168.06" cy="463.09" r="0.55"/><circle cx="168.91" cy="463.33" r="0.55"/><circle cx="169.79" cy="463.41" r="0.55"/><circle cx="170.61" cy="463.75" r="0.55"/><circle cx="171.34" cy="464.54" r="0.55"/><circle cx="172.40" cy="463.83" r="0.55"/><circle cx="173.33" cy="463.69" r="0.55"/><circle cx="174.11" cy="464.23" r="0.55"/><circle cx="174.87" cy="464.78" r="0.55"/><circle cx="175.81" cy="464.67" r="0.55"/><circle cx="176.45" cy="465.65" r="0.55"/><circle cx="177.15" cy="466.38" r="0.55"/><circle cx="178.29" cy="465.60" r="0.55"/><circle cx="178.97" cy="466.37" r="0.55"/><circle cx="180.08" cy="465.76" r="0.55"/><circle cx="180.60" cy="466.99" r="0.55"/><circle cx="181.15" cy="468.07" r="0.55"/><circle cx="182.26" cy="467.53" r="0.55"/><circle cx="183.57" cy="466.47" r="0.55"/><circle cx="184.03" cy="467.79" r="0.55"/><circle cx="184.65" cy="468.60" r="0.55"/><circle cx="185.58" cy="468.61" r="0.55"/><circle cx="186.66" cy="468.28" r="0.55"/><circle cx="187.47" cy="468.63" r="0.55"/><circle cx="188.21" cy="469.14" r="0.55"/><circle cx="189.30" cy="468.83" r="0.55"/><circle cx="189.94" cy="469.58" r="0.55"/><circle cx="190.57" cy="470.31" r="0.55"/><circle cx="191.51" cy="470.38" r="0.55"/><circle cx="192.56" cy="470.24" r="0.55"/><circle cx="193.18" cy="470.96" r="0.55"/><circle cx="193.98" cy="471.34" r="0.55"/><circle cx="194.23" cy="472.77" r="0.55"/><circle cx="195.24" cy="472.72" r="0.55"/><circle cx="196.25" cy="472.72" r="0.55"/><circle cx="196.74" cy="473.64" r="0.55"/><circle cx="199.22" cy="475.78" r="0.55"/><circle cx="200.84" cy="474.84" r="0.55"/><circle cx="201.42" cy="475.59" r="0.55"/><circle cx="201.94" cy="476.45" r="0.55"/><circle cx="202.82" cy="476.73" r="0.55"/><circle cx="202.88" cy="478.24" r="0.55"/><circle cx="204.18" cy="477.90" r="0.55"/><circle cx="204.85" cy="478.50" r="0.55"/><circle cx="206.22" cy="478.11" r="0.55"/><circle cx="206.55" cy="479.18" r="0.55"/><circle cx="206.97" cy="480.13" r="0.55"/><circle cx="208.25" cy="479.90" r="0.55"/><circle cx="208.65" cy="480.85" r="0.55"/><circle cx="208.92" cy="481.95" r="0.55"/><circle cx="209.68" cy="482.43" r="0.55"/><circle cx="211.36" cy="481.78" r="0.55"/><circle cx="210.97" cy="483.65" r="0.55"/><circle cx="211.67" cy="484.20" r="0.55"/><circle cx="212.46" cy="484.64" r="0.55"/><circle cx="212.88" cy="485.51" r="0.55"/><circle cx="213.85" cy="485.76" r="0.55"/><circle cx="214.54" cy="486.32" r="0.55"/><circle cx="215.19" cy="486.93" r="0.55"/><circle cx="214.96" cy="488.46" r="0.55"/><circle cx="215.83" cy="488.82" r="0.55"/><circle cx="216.38" cy="489.51" r="0.55"/><circle cx="217.98" cy="489.17" r="0.55"/><circle cx="218.37" cy="490.05" r="0.55"/><circle cx="217.95" cy="491.67" r="0.55"/><circle cx="219.70" cy="491.24" r="0.55"/><circle cx="220.53" cy="491.69" r="0.55"/><circle cx="220.62" cy="492.80" r="0.55"/><circle cx="221.33" cy="493.37" r="0.55"/><circle cx="222.35" cy="493.66" r="0.55"/><circle cx="221.52" cy="495.53" r="0.55"/><circle cx="223.10" cy="495.37" r="0.55"/><circle cx="223.93" cy="495.84" r="0.55"/><circle cx="224.88" cy="496.23" r="0.55"/><circle cx="224.67" cy="497.53" r="0.55"/><circle cx="224.45" cy="498.81" r="0.55"/><circle cx="225.89" cy="498.84" r="0.55"/><circle cx="225.73" cy="500.06" r="0.55"/><circle cx="226.67" cy="500.47" r="0.55"/><circle cx="227.72" cy="500.82" r="0.55"/><circle cx="227.36" cy="502.15" r="0.55"/><circle cx="228.98" cy="502.12" r="0.55"/><circle cx="229.14" cy="503.09" r="0.55"/><circle cx="229.50" cy="503.92" r="0.55"/><circle cx="229.84" cy="504.76" r="0.55"/><circle cx="229.96" cy="505.74" r="0.55"/><circle cx="230.89" cy="506.21" r="0.55"/><circle cx="231.80" cy="509.41" r="0.55"/><circle cx="233.52" cy="509.46" r="0.55"/><circle cx="233.29" cy="510.58" r="0.55"/><circle cx="233.24" cy="511.60" r="0.55"/><circle cx="233.88" cy="512.25" r="0.55"/><circle cx="234.13" cy="513.11" r="0.55"/><circle cx="234.42" cy="513.94" r="0.55"/><circle cx="235.97" cy="514.17" r="0.55"/><circle cx="235.28" cy="515.46" r="0.55"/><circle cx="235.97" cy="516.11" r="0.55"/><circle cx="237.41" cy="516.43" r="0.55"/><circle cx="237.27" cy="517.46" r="0.55"/><circle cx="237.18" cy="518.45" r="0.55"/><circle cx="237.03" cy="519.46" r="0.55"/><circle cx="237.88" cy="520.06" r="0.55"/><circle cx="238.82" cy="520.64" r="0.55"/><circle cx="238.62" cy="521.66" r="0.55"/><circle cx="239.26" cy="522.37" r="0.55"/><circle cx="238.95" cy="523.41" r="0.55"/><circle cx="239.46" cy="524.17" r="0.55"/><circle cx="239.37" cy="525.13" r="0.55"/><circle cx="239.97" cy="525.85" r="0.55"/><circle cx="240.69" cy="526.55" r="0.55"/><circle cx="239.51" cy="527.83" r="0.55"/><circle cx="240.48" cy="528.45" r="0.55"/><circle cx="240.88" cy="529.25" r="0.55"/><circle cx="240.69" cy="530.21" r="0.55"/><circle cx="241.05" cy="531.02" r="0.55"/><circle cx="241.85" cy="531.72" r="0.55"/><circle cx="242.71" cy="532.42" r="0.55"/><circle cx="242.18" cy="533.45" r="0.55"/><circle cx="242.21" cy="534.35" r="0.55"/><circle cx="241.38" cy="535.42" r="0.55"/><circle cx="243.43" cy="535.89" r="0.55"/><circle cx="242.60" cy="536.96" r="0.55"/><circle cx="242.70" cy="537.83" r="0.55"/><circle cx="242.27" cy="538.79" r="0.55"/><circle cx="242.99" cy="539.56" r="0.55"/><circle cx="242.56" cy="540.51" r="0.55"/><circle cx="243.32" cy="541.28" r="0.55"/><circle cx="243.65" cy="542.12" r="0.55"/><circle cx="243.53" cy="543.02" r="0.55"/><circle cx="243.33" cy="546.29" r="0.55"/><circle cx="244.09" cy="547.11" r="0.55"/><circle cx="243.00" cy="548.08" r="0.55"/><circle cx="243.63" cy="548.92" r="0.55"/><circle cx="243.63" cy="549.81" r="0.55"/><circle cx="243.77" cy="550.69" r="0.55"/><circle cx="244.01" cy="551.56" r="0.55"/><circle cx="244.68" cy="552.44" r="0.55"/><circle cx="244.08" cy="553.33" r="0.55"/><circle cx="243.55" cy="554.22" r="0.55"/><circle cx="243.42" cy="555.10" r="0.55"/><circle cx="244.43" cy="556.00" r="0.55"/><circle cx="243.60" cy="556.87" r="0.55"/><circle cx="243.94" cy="557.76" r="0.55"/><circle cx="244.76" cy="558.69" r="0.55"/><circle cx="244.79" cy="559.59" r="0.55"/><circle cx="244.73" cy="560.48" r="0.55"/><circle cx="243.28" cy="561.27" r="0.55"/><circle cx="244.71" cy="562.27" r="0.55"/><circle cx="243.72" cy="563.08" r="0.55"/><circle cx="244.22" cy="564.02" r="0.55"/><circle cx="243.58" cy="564.85" r="0.55"/><circle cx="244.07" cy="565.81" r="0.55"/><circle cx="243.39" cy="566.62" r="0.55"/><circle cx="243.29" cy="567.50" r="0.55"/><circle cx="243.05" cy="568.36" r="0.55"/><circle cx="242.55" cy="569.18" r="0.55"/><circle cx="242.85" cy="570.13" r="0.55"/><circle cx="243.14" cy="571.08" r="0.55"/><circle cx="241.95" cy="571.76" r="0.55"/><circle cx="242.42" cy="572.76" r="0.55"/><circle cx="241.65" cy="573.50" r="0.55"/><circle cx="241.38" cy="574.34" r="0.55"/><circle cx="240.98" cy="575.16" r="0.55"/><circle cx="242.51" cy="576.43" r="0.55"/><circle cx="241.47" cy="577.10" r="0.55"/><circle cx="240.99" cy="577.89" r="0.55"/><circle cx="241.45" cy="578.93" r="0.55"/><circle cx="239.65" cy="579.35" r="0.55"/><circle cx="240.48" cy="580.51" r="0.55"/><circle cx="239.95" cy="583.74" r="0.55"/><circle cx="238.19" cy="584.08" r="0.55"/><circle cx="238.34" cy="585.06" r="0.55"/><circle cx="239.05" cy="586.25" r="0.55"/><circle cx="237.85" cy="586.76" r="0.55"/><circle cx="237.28" cy="587.48" r="0.55"/><circle cx="237.73" cy="588.60" r="0.55"/><circle cx="237.42" cy="589.43" r="0.55"/><circle cx="237.27" cy="590.33" r="0.55"/><circle cx="236.94" cy="591.15" r="0.55"/><circle cx="236.97" cy="592.14" r="0.55"/><circle cx="235.47" cy="592.44" r="0.55"/><circle cx="236.01" cy="593.66" r="0.55"/><circle cx="234.66" cy="594.00" r="0.55"/><circle cx="235.11" cy="595.20" r="0.55"/><circle cx="234.46" cy="595.87" r="0.55"/><circle cx="234.09" cy="596.67" r="0.55"/><circle cx="234.03" cy="597.64" r="0.55"/><circle cx="233.14" cy="598.17" r="0.55"/><circle cx="233.26" cy="599.25" r="0.55"/><circle cx="232.71" cy="599.96" r="0.55"/><circle cx="231.92" cy="600.53" r="0.55"/><circle cx="231.14" cy="601.10" r="0.55"/><circle cx="230.60" cy="601.80" r="0.55"/><circle cx="230.25" cy="602.62" r="0.55"/><circle cx="229.94" cy="603.47" r="0.55"/><circle cx="229.55" cy="604.27" r="0.55"/><circle cx="230.45" cy="605.91" r="0.55"/><circle cx="228.88" cy="605.95" r="0.55"/><circle cx="228.44" cy="606.72" r="0.55"/><circle cx="227.20" cy="606.94" r="0.55"/><circle cx="226.77" cy="607.71" r="0.55"/><circle cx="226.43" cy="608.55" r="0.55"/><circle cx="226.13" cy="609.43" r="0.55"/><circle cx="225.06" cy="609.74" r="0.55"/><circle cx="225.68" cy="611.32" r="0.55"/><circle cx="224.19" cy="611.29" r="0.55"/><circle cx="224.35" cy="612.54" r="0.55"/><circle cx="222.01" cy="614.82" r="0.55"/><circle cx="221.95" cy="615.94" r="0.55"/><circle cx="221.50" cy="616.73" r="0.55"/><circle cx="220.23" cy="616.78" r="0.55"/><circle cx="218.54" cy="616.42" r="0.55"/><circle cx="218.39" cy="617.47" r="0.55"/><circle cx="217.73" cy="618.05" r="0.55"/><circle cx="218.26" cy="619.80" r="0.55"/><circle cx="216.49" cy="619.29" r="0.55"/><circle cx="216.94" cy="620.99" r="0.55"/><circle cx="215.89" cy="621.18" r="0.55"/><circle cx="215.08" cy="621.61" r="0.55"/><circle cx="215.05" cy="622.87" r="0.55"/><circle cx="213.77" cy="622.79" r="0.55"/><circle cx="213.64" cy="623.96" r="0.55"/><circle cx="212.97" cy="624.55" r="0.55"/><circle cx="211.63" cy="624.34" r="0.55"/><circle cx="211.19" cy="625.18" r="0.55"/><circle cx="210.94" cy="626.26" r="0.55"/><circle cx="209.05" cy="625.34" r="0.55"/><circle cx="209.48" cy="627.28" r="0.55"/><circle cx="208.38" cy="627.31" r="0.55"/><circle cx="208.03" cy="628.30" r="0.55"/><circle cx="206.95" cy="628.33" r="0.55"/><circle cx="206.21" cy="628.81" r="0.55"/><circle cx="204.96" cy="628.58" r="0.55"/><circle cx="204.47" cy="629.39" r="0.55"/><circle cx="203.94" cy="630.16" r="0.55"/><circle cx="203.44" cy="630.98" r="0.55"/><circle cx="202.36" cy="630.95" r="0.55"/><circle cx="202.07" cy="632.11" r="0.55"/><circle cx="201.34" cy="632.61" r="0.55"/><circle cx="200.62" cy="633.13" r="0.55"/><circle cx="199.92" cy="633.66" r="0.55"/><circle cx="199.17" cy="634.14" r="0.55"/><circle cx="198.05" cy="633.97" r="0.55"/><circle cx="195.30" cy="635.65" r="0.55"/><circle cx="194.58" cy="636.20" r="0.55"/><circle cx="193.60" cy="636.23" r="0.55"/><circle cx="192.99" cy="637.01" r="0.55"/><circle cx="192.17" cy="637.35" r="0.55"/><circle cx="191.49" cy="638.00" r="0.55"/><circle cx="190.94" cy="638.94" r="0.55"/><circle cx="190.12" cy="639.30" r="0.55"/><circle cx="188.91" cy="638.78" r="0.55"/><circle cx="188.32" cy="639.67" r="0.55"/><circle cx="187.43" cy="639.86" r="0.55"/><circle cx="186.70" cy="640.44" r="0.55"/><circle cx="185.72" cy="640.40" r="0.55"/><circle cx="184.94" cy="640.85" r="0.55"/><circle cx="183.96" cy="640.79" r="0.55"/><circle cx="183.07" cy="640.93" r="0.55"/><circle cx="182.53" cy="642.09" r="0.55"/><circle cx="181.76" cy="642.61" r="0.55"/><circle cx="180.80" cy="642.56" r="0.55"/><circle cx="179.91" cy="642.72" r="0.55"/><circle cx="179.03" cy="642.90" r="0.55"/><circle cx="178.06" cy="642.78" r="0.55"/><circle cx="177.00" cy="642.33" r="0.55"/><circle cx="176.51" cy="643.86" r="0.55"/><circle cx="175.58" cy="643.85" r="0.55"/><circle cx="174.62" cy="643.68" r="0.55"/><circle cx="173.70" cy="643.68" r="0.55"/><circle cx="173.12" cy="645.09" r="0.55"/><circle cx="171.87" cy="643.64" r="0.55"/><circle cx="171.43" cy="645.74" r="0.55"/><circle cx="170.42" cy="645.33" r="0.55"/><circle cx="169.72" cy="646.44" r="0.55"/><circle cx="168.52" cy="644.94" r="0.55"/><circle cx="165.44" cy="646.04" r="0.55"/><circle cx="164.50" cy="645.66" r="0.55"/><circle cx="163.54" cy="644.97" r="0.55"/><circle cx="162.90" cy="646.82" r="0.55"/><circle cx="161.94" cy="646.10" r="0.55"/><circle cx="161.06" cy="646.09" r="0.55"/><circle cx="160.23" cy="646.50" r="0.55"/><circle cx="159.35" cy="646.35" r="0.55"/><circle cx="158.55" cy="647.33" r="0.55"/><circle cx="157.68" cy="647.44" r="0.55"/><circle cx="156.79" cy="647.16" r="0.55"/><circle cx="155.91" cy="647.11" r="0.55"/><circle cx="155.04" cy="647.35" r="0.55"/><circle cx="154.16" cy="647.10" r="0.55"/><circle cx="153.29" cy="646.84" r="0.55"/><circle cx="152.42" cy="647.47" r="0.55"/><circle cx="151.55" cy="647.05" r="0.55"/><circle cx="150.68" cy="647.22" r="0.55"/><circle cx="149.79" cy="647.70" r="0.55"/><circle cx="148.91" cy="647.92" r="0.55"/><circle cx="148.07" cy="646.85" r="0.55"/><circle cx="147.17" cy="647.39" r="0.55"/><circle cx="146.38" cy="645.99" r="0.55"/><circle cx="145.49" cy="646.30" r="0.55"/><circle cx="144.58" cy="646.84" r="0.55"/><circle cx="143.76" cy="646.22" r="0.55"/><circle cx="142.92" cy="645.93" r="0.55"/><circle cx="142.05" cy="645.96" r="0.55"/><circle cx="141.11" cy="646.54" r="0.55"/><circle cx="140.37" cy="645.46" r="0.55"/><circle cx="139.37" cy="646.40" r="0.55"/><circle cx="136.20" cy="645.72" r="0.55"/><circle cx="135.25" cy="646.08" r="0.55"/><circle cx="134.52" cy="645.26" r="0.55"/><circle cx="133.71" cy="644.87" r="0.55"/><circle cx="132.75" cy="645.27" r="0.55"/><circle cx="131.95" cy="644.84" r="0.55"/><circle cx="131.00" cy="645.10" r="0.55"/><circle cx="130.26" cy="644.45" r="0.55"/><circle cx="129.41" cy="644.25" r="0.55"/><circle cx="128.48" cy="644.40" r="0.55"/><circle cx="127.86" cy="643.35" r="0.55"/><circle cx="127.09" cy="642.90" r="0.55"/><circle cx="126.01" cy="643.54" r="0.55"/><circle cx="125.27" cy="642.97" r="0.55"/><circle cx="124.32" cy="643.12" r="0.55"/><circle cx="123.46" cy="642.97" r="0.55"/><circle cx="122.70" cy="642.47" r="0.55"/><circle cx="122.04" cy="641.72" r="0.55"/><circle cx="120.85" cy="642.52" r="0.55"/><circle cx="120.72" cy="640.29" r="0.55"/><circle cx="119.63" cy="640.77" r="0.55"/><circle cx="118.91" cy="640.23" r="0.55"/><circle cx="117.49" cy="641.51" r="0.55"/><circle cx="117.13" cy="640.04" r="0.55"/><circle cx="116.30" cy="639.79" r="0.55"/><circle cx="115.34" cy="639.85" r="0.55"/><circle cx="114.40" cy="639.81" r="0.55"/><circle cx="113.66" cy="639.34" r="0.55"/><circle cx="113.10" cy="638.47" r="0.55"/><circle cx="112.26" cy="638.22" r="0.55"/><circle cx="109.18" cy="637.13" r="0.55"/><circle cx="108.42" cy="636.71" r="0.55"/><circle cx="107.68" cy="636.26" r="0.55"/><circle cx="106.89" cy="635.89" r="0.55"/><circle cx="106.17" cy="635.40" r="0.55"/><circle cx="105.22" cy="635.32" r="0.55"/><circle cx="104.57" cy="634.70" r="0.55"/><circle cx="103.73" cy="634.41" r="0.55"/><circle cx="103.50" cy="633.11" r="0.55"/><circle cx="102.63" cy="632.89" r="0.55"/><circle cx="102.11" cy="632.10" r="0.55"/><circle cx="100.89" cy="632.39" r="0.55"/><circle cx="100.20" cy="631.86" r="0.55"/><circle cx="99.87" cy="630.80" r="0.55"/><circle cx="98.84" cy="630.78" r="0.55"/><circle cx="97.50" cy="631.18" r="0.55"/><circle cx="97.22" cy="630.06" r="0.55"/><circle cx="97.26" cy="628.54" r="0.55"/><circle cx="96.24" cy="628.47" r="0.55"/><circle cx="95.31" cy="628.26" r="0.55"/><circle cx="94.85" cy="627.45" r="0.55"/><circle cx="94.03" cy="627.09" r="0.55"/><circle cx="93.08" cy="626.88" r="0.55"/><circle cx="92.70" cy="625.98" r="0.55"/><circle cx="92.52" cy="624.84" r="0.55"/><circle cx="91.24" cy="625.02" r="0.55"/><circle cx="90.86" cy="624.13" r="0.55"/><circle cx="90.14" cy="623.65" r="0.55"/><circle cx="89.74" cy="622.80" r="0.55"/><circle cx="87.22" cy="620.77" r="0.55"/><circle cx="86.24" cy="620.50" r="0.55"/><circle cx="86.03" cy="619.45" r="0.55"/><circle cx="85.01" cy="619.21" r="0.55"/><circle cx="84.35" cy="618.60" r="0.55"/><circle cx="84.46" cy="617.28" r="0.55"/><circle cx="83.88" cy="616.61" r="0.55"/><circle cx="82.89" cy="616.31" r="0.55"/><circle cx="81.93" cy="615.97" r="0.55"/><circle cx="81.57" cy="615.11" r="0.55"/><circle cx="80.59" cy="614.77" r="0.55"/><circle cx="81.09" cy="613.18" r="0.55"/><circle cx="79.75" cy="613.14" r="0.55"/><circle cx="79.66" cy="612.07" r="0.55"/><circle cx="78.80" cy="611.62" r="0.55"/><circle cx="78.16" cy="610.99" r="0.55"/><circle cx="78.17" cy="609.87" r="0.55"/><circle cx="77.32" cy="609.39" r="0.55"/><circle cx="77.20" cy="608.38" r="0.55"/><circle cx="76.07" cy="608.11" r="0.55"/><circle cx="76.04" cy="607.04" r="0.55"/><circle cx="75.38" cy="606.42" r="0.55"/><circle cx="74.57" cy="605.90" r="0.55"/><circle cx="74.47" cy="604.90" r="0.55"/><circle cx="73.17" cy="604.68" r="0.55"/><circle cx="73.50" cy="603.42" r="0.55"/><circle cx="72.36" cy="603.08" r="0.55"/><circle cx="72.15" cy="602.16" r="0.55"/><circle cx="70.55" cy="599.35" r="0.55"/><circle cx="70.36" cy="598.45" r="0.55"/><circle cx="70.07" cy="597.60" r="0.55"/><circle cx="69.56" cy="596.88" r="0.55"/><circle cx="68.78" cy="596.29" r="0.55"/><circle cx="68.50" cy="595.44" r="0.55"/><circle cx="67.89" cy="594.75" r="0.55"/><circle cx="68.51" cy="593.48" r="0.55"/><circle cx="66.28" cy="593.54" r="0.55"/><circle cx="66.22" cy="592.59" r="0.55"/><circle cx="66.77" cy="591.38" r="0.55"/><circle cx="66.99" cy="590.33" r="0.55"/><circle cx="65.98" cy="589.80" r="0.55"/><circle cx="65.52" cy="589.03" r="0.55"/><circle cx="66.50" cy="587.70" r="0.55"/><circle cx="65.08" cy="587.31" r="0.55"/><circle cx="65.51" cy="586.21" r="0.55"/><circle cx="64.24" cy="585.74" r="0.55"/><circle cx="63.48" cy="585.06" r="0.55"/><circle cx="63.37" cy="584.16" r="0.55"/><circle cx="64.37" cy="582.90" r="0.55"/><circle cx="62.64" cy="582.53" r="0.55"/><circle cx="62.62" cy="581.61" r="0.55"/><circle cx="63.00" cy="580.57" r="0.55"/><circle cx="62.32" cy="579.85" r="0.55"/><circle cx="61.56" cy="579.14" r="0.55"/><circle cx="62.27" cy="578.03" r="0.55"/><circle cx="61.89" cy="577.22" r="0.55"/><circle cx="60.98" cy="574.11" r="0.55"/><circle cx="60.51" cy="573.32" r="0.55"/><circle cx="61.02" cy="572.31" r="0.55"/><circle cx="60.51" cy="571.52" r="0.55"/><circle cx="60.49" cy="570.63" r="0.55"/><circle cx="59.76" cy="569.86" r="0.55"/><circle cx="61.21" cy="568.73" r="0.55"/><circle cx="59.10" cy="568.17" r="0.55"/><circle cx="59.94" cy="567.16" r="0.55"/><circle cx="59.41" cy="566.34" r="0.55"/><circle cx="59.17" cy="565.48" r="0.55"/><circle cx="59.89" cy="564.51" r="0.55"/><circle cx="59.07" cy="563.72" r="0.55"/><circle cx="60.06" cy="562.74" r="0.55"/><circle cx="59.23" cy="561.93" r="0.55"/><circle cx="59.72" cy="561.02" r="0.55"/><circle cx="58.65" cy="560.21" r="0.55"/><circle cx="58.38" cy="559.34" r="0.55"/><circle cx="59.78" cy="558.39" r="0.55"/><circle cx="58.93" cy="557.55" r="0.55"/><circle cx="59.47" cy="556.65" r="0.55"/><circle cx="59.82" cy="555.77" r="0.55"/><circle cx="59.08" cy="554.91" r="0.55"/><circle cx="58.48" cy="554.03" r="0.55"/><circle cx="58.92" cy="550.79" r="0.55"/><circle cx="59.24" cy="549.92" r="0.55"/><circle cx="59.91" cy="549.06" r="0.55"/><circle cx="59.25" cy="548.14" r="0.55"/><circle cx="58.76" cy="547.21" r="0.55"/><circle cx="58.94" cy="546.32" r="0.55"/><circle cx="58.76" cy="545.41" r="0.55"/><circle cx="59.04" cy="544.54" r="0.55"/><circle cx="59.63" cy="543.71" r="0.55"/><circle cx="59.39" cy="542.78" r="0.55"/><circle cx="59.74" cy="541.92" r="0.55"/><circle cx="60.67" cy="541.16" r="0.55"/><circle cx="59.17" cy="540.03" r="0.55"/><circle cx="60.02" cy="539.26" r="0.55"/><circle cx="60.93" cy="538.52" r="0.55"/><circle cx="60.32" cy="537.51" r="0.55"/><circle cx="60.54" cy="536.64" r="0.55"/><circle cx="60.34" cy="535.69" r="0.55"/><circle cx="60.28" cy="534.76" r="0.55"/><circle cx="62.85" cy="534.42" r="0.55"/><circle cx="61.14" cy="533.12" r="0.55"/><circle cx="60.84" cy="532.13" r="0.55"/><circle cx="63.42" cy="529.46" r="0.55"/><circle cx="61.86" cy="528.09" r="0.55"/><circle cx="63.49" cy="527.63" r="0.55"/><circle cx="63.26" cy="526.63" r="0.55"/><circle cx="63.63" cy="525.81" r="0.55"/><circle cx="64.21" cy="525.06" r="0.55"/><circle cx="64.99" cy="524.38" r="0.55"/><circle cx="65.34" cy="523.56" r="0.55"/><circle cx="64.23" cy="522.21" r="0.55"/><circle cx="64.46" cy="521.34" r="0.55"/><circle cx="64.20" cy="520.27" r="0.55"/><circle cx="66.39" cy="520.17" r="0.55"/><circle cx="65.69" cy="518.92" r="0.55"/><circle cx="66.33" cy="518.21" r="0.55"/><circle cx="66.25" cy="517.20" r="0.55"/><circle cx="67.30" cy="516.68" r="0.55"/><circle cx="67.05" cy="515.58" r="0.55"/><circle cx="67.34" cy="514.73" r="0.55"/><circle cx="67.87" cy="513.98" r="0.55"/><circle cx="67.85" cy="512.97" r="0.55"/><circle cx="69.05" cy="512.56" r="0.55"/><circle cx="69.95" cy="509.38" r="0.55"/><circle cx="70.22" cy="508.53" r="0.55"/><circle cx="71.09" cy="508.04" r="0.55"/><circle cx="71.56" cy="507.31" r="0.55"/><circle cx="72.48" cy="506.86" r="0.55"/><circle cx="72.13" cy="505.64" r="0.55"/><circle cx="72.99" cy="505.16" r="0.55"/><circle cx="73.15" cy="504.24" r="0.55"/><circle cx="73.66" cy="503.55" r="0.55"/><circle cx="74.52" cy="503.08" r="0.55"/><circle cx="75.15" cy="502.47" r="0.55"/><circle cx="75.06" cy="501.36" r="0.55"/><circle cx="75.58" cy="500.68" r="0.55"/><circle cx="76.28" cy="500.12" r="0.55"/><circle cx="76.65" cy="499.32" r="0.55"/><circle cx="77.65" cy="498.99" r="0.55"/><circle cx="77.88" cy="498.09" r="0.55"/><circle cx="78.11" cy="497.18" r="0.55"/><circle cx="78.85" cy="496.66" r="0.55"/><circle cx="80.08" cy="493.46" r="0.55"/><circle cx="81.46" cy="493.50" r="0.55"/><circle cx="82.29" cy="493.09" r="0.55"/><circle cx="82.43" cy="492.06" r="0.55"/><circle cx="83.31" cy="491.69" r="0.55"/><circle cx="84.18" cy="491.33" r="0.55"/><circle cx="83.51" cy="489.51" r="0.55"/><circle cx="84.83" cy="489.57" r="0.55"/><circle cx="86.01" cy="489.53" r="0.55"/><circle cx="87.06" cy="489.37" r="0.55"/><circle cx="87.07" cy="488.16" r="0.55"/><circle cx="87.36" cy="487.22" r="0.55"/><circle cx="88.69" cy="487.38" r="0.55"/><circle cx="88.99" cy="486.45" r="0.55"/><circle cx="89.45" cy="485.68" r="0.55"/><circle cx="90.06" cy="485.07" r="0.55"/><circle cx="90.19" cy="483.92" r="0.55"/><circle cx="93.24" cy="482.49" r="0.55"/><circle cx="94.19" cy="482.28" r="0.55"/><circle cx="94.79" cy="481.63" r="0.55"/><circle cx="95.25" cy="480.79" r="0.55"/><circle cx="95.58" cy="479.77" r="0.55"/><circle cx="96.85" cy="480.00" r="0.55"/><circle cx="97.20" cy="478.99" r="0.55"/><circle cx="98.04" cy="478.64" r="0.55"/><circle cx="98.92" cy="478.38" r="0.55"/><circle cx="99.82" cy="478.14" r="0.55"/><circle cx="100.31" cy="477.30" r="0.55"/><circle cx="101.21" cy="477.07" r="0.55"/><circle cx="101.59" cy="476.03" r="0.55"/><circle cx="102.99" cy="476.60" r="0.55"/><circle cx="102.91" cy="474.82" r="0.55"/><circle cx="103.77" cy="474.53" r="0.55"/><circle cx="106.86" cy="473.40" r="0.55"/><circle cx="107.58" cy="472.91" r="0.55"/><circle cx="108.22" cy="472.27" r="0.55"/><circle cx="109.08" cy="472.03" r="0.55"/><circle cx="110.29" cy="472.48" r="0.55"/><circle cx="110.74" cy="471.44" r="0.55"/><circle cx="111.39" cy="470.79" r="0.55"/><circle cx="112.29" cy="470.67" r="0.55"/><circle cx="112.94" cy="469.99" r="0.55"/><circle cx="113.72" cy="469.61" r="0.55"/><circle cx="114.61" cy="469.45" r="0.55"/><circle cx="115.48" cy="469.28" r="0.55"/><circle cx="118.70" cy="468.69" r="0.55"/><circle cx="118.90" cy="466.77" r="0.55"/><circle cx="120.12" cy="467.58" r="0.55"/><circle cx="120.93" cy="467.30" r="0.55"/><circle cx="121.86" cy="467.36" r="0.55"/><circle cx="122.11" cy="465.40" r="0.55"/><circle cx="123.16" cy="465.83" r="0.55"/><circle cx="124.25" cy="466.44" r="0.55"/><circle cx="124.96" cy="465.80" r="0.55"/><circle cx="125.87" cy="465.88" r="0.55"/><circle cx="126.34" cy="464.37" r="0.55"/><circle cx="127.33" cy="464.71" r="0.55"/><circle cx="128.50" cy="465.75" r="0.55"/><circle cx="131.36" cy="463.94" r="0.55"/><circle cx="132.03" cy="463.07" r="0.55"/><circle cx="132.99" cy="463.59" r="0.55"/><circle cx="133.79" cy="463.33" r="0.55"/><circle cx="134.69" cy="463.60" r="0.55"/><circle cx="135.34" cy="462.54" r="0.55"/><circle cx="136.33" cy="463.35" r="0.55"/><circle cx="137.08" cy="462.78" r="0.55"/><circle cx="138.07" cy="463.81" r="0.55"/><circle cx="138.84" cy="463.40" r="0.55"/><circle cx="142.08" cy="463.52" r="0.55"/><circle cx="142.82" cy="462.00" r="0.55"/><circle cx="143.75" cy="462.39" r="0.55"/><circle cx="144.61" cy="461.90" r="0.55"/><circle cx="145.53" cy="462.16" r="0.55"/><circle cx="146.41" cy="462.01" r="0.55"/><circle cx="147.29" cy="461.70" r="0.55"/><circle cx="148.19" cy="461.58" r="0.55"/><circle cx="149.10" cy="462.17" r="0.55"/><circle cx="150.01" cy="463.08" r="0.55"/></g>
<path d="M152.51,450.00 A104.3,104.3 0 0 1 203.33,463.73 L201.39,467.12 A100.4,100.4 0 0 0 152.48,453.90 Z" fill="#ffffff" stroke="#222" stroke-width="0.6"/>
<path d="M152.72,450.36 A103.95,103.95 0 0 1 154.00,450.38 L153.93,453.58 A100.75,100.75 0 0 0 152.69,453.56 Z" fill="#ffffff" stroke="#b0b0b0" stroke-width="0.25"/>
<path d="M154.44,450.39 A103.95,103.95 0 0 1 155.76,450.43 L155.63,453.63 A100.75,100.75 0 0 0 154.35,453.59 Z" fill="#ffffff" stroke="#b0b0b0" stroke-width="0.25"/>
<path d="M156.19,450.45 A103.95,103.95 0 0 1 158.04,450.55 L157.84,453.74 A100.75,100.75 0 0 0 156.05,453.65 Z" fill="#ffffff" stroke="#b0b0b0" stroke-width="0.25"/>
<path d="M158.47,450.58 A103.95,103.95 0 0 1 159.25,450.63 L159.01,453.82 A100.75,100.75 0 0 0 158.26,453.77 Z" fill="#ffffff" stroke="#b0b0b0" stroke-width="0.25"/>
<path d="M159.68,450.66 A103.95,103.95 0 0 1 161.29,450.80 L160.99,453.99 A100.75,100.75 0 0 0 159.43,453.85 Z" fill="#111" stroke="#b0b0b0" stroke-width="0.25"/>
<path d="M161.72,450.84 A103.95,103.95 0 0 1 163.88,451.08 L163.50,454.26 A100.75,100.75 0 0 0 161.41,454.03 Z" fill="#ffffff" stroke="#b0b0b0" stroke-width="0.25"/>
<path d="M164.31,451.13 A103.95,103.95 0 0 1 165.48,451.28 L165.05,454.45 A100.75,100.75 0 0 0 163.92,454.31 Z" fill="#ffffff" stroke="#b0b0b0" stroke-width="0.25"/>
<path d="M165.91,451.34 A103.95,103.95 0 0 1 168.19,451.68 L167.68,454.84 A100.75,100.75 0 0 0 165.47,454.51 Z" fill="#ffffff" stroke="#b0b0b0" stroke-width="0.25"/>
<path d="M168.62,451.75 A103.95,103.95 0 0 1 169.94,451.98 L169.37,455.13 A100.75,100.75 0 0 0 168.10,454.91 Z" fill="#a0a0a0" stroke="#b0b0b0" stroke-width="0.25"/>
<path d="M170.37,452.06 A103.95,103.95 0 0 1 171.92,452.35 L171.29,455.49 A100.75,100.75 0 0 0 169.79,455.21 Z" fill="#ffffff" stroke="#b0b0b0" stroke-width="0.25"/>
<path d="M172.34,452.44 A103.95,103.95 0 0 1 174.24,452.85 L173.54,455.97 A100.75,100.75 0 0 0 171.70,455.58 Z" fill="#ffffff" stroke="#b0b0b0" stroke-width="0.25"/>
<path d="M174.66,452.94 A103.95,103.95 0 0 1 175.41,453.11 L174.67,456.23 A100.75,100.75 0 0 0 173.95,456.06 Z" fill="#ffffff" stroke="#b0b0b0" stroke-width="0.25"/>
<path d="M175.83,453.21 A103.95,103.95 0 0 1 177.94,453.74 L177.12,456.84 A100.75,100.75 0 0 0 175.08,456.33 Z" fill="#ffffff" stroke="#b0b0b0" stroke-width="0.25"/>
<path d="M178.36,453.85 A103.95,103.95 0 0 1 179.95,454.29 L179.07,457.37 A100.75,100.75 0 0 0 177.53,456.94 Z" fill="#ffffff" stroke="#b0b0b0" stroke-width="0.25"/>
<path d="M180.37,454.41 A103.95,103.95 0 0 1 181.47,454.73 L180.55,457.80 A100.75,100.75 0 0 0 179.48,457.48 Z" fill="#ffffff" stroke="#b0b0b0" stroke-width="0.25"/>
<path d="M181.89,454.86 A103.95,103.95 0 0 1 183.38,455.33 L182.40,458.37 A100.75,100.75 0 0 0 180.95,457.92 Z" fill="#ffffff" stroke="#b0b0b0" stroke-width="0.25"/>
<path d="M183.80,455.46 A103.95,103.95 0 0 1 184.59,455.72 L183.57,458.76 A100.75,100.75 0 0 0 182.81,458.50 Z" fill="#111" stroke="#b0b0b0" stroke-width="0.25"/>
<path d="M185.00,455.86 A103.95,103.95 0 0 1 187.14,456.61 L186.04,459.62 A100.75,100.75 0 0 0 183.97,458.89 Z" fill="#ffffff" stroke="#b0b0b0" stroke-width="0.25"/>
<path d="M187.55,456.76 A103.95,103.95 0 0 1 188.04,456.95 L186.92,459.94 A100.75,100.75 0 0 0 186.44,459.77 Z" fill="#ffffff" stroke="#b0b0b0" stroke-width="0.25"/>
<path d="M188.45,457.10 A103.95,103.95 0 0 1 189.78,457.62 L188.60,460.59 A100.75,100.75 0 0 0 187.31,460.09 Z" fill="#ffffff" stroke="#b0b0b0" stroke-width="0.25"/>
<path d="M190.18,457.78 A103.95,103.95 0 0 1 191.29,458.23 L190.07,461.18 A100.75,100.75 0 0 0 189.00,460.75 Z" fill="#ffffff" stroke="#b0b0b0" stroke-width="0.25"/>
<path d="M191.69,458.39 A103.95,103.95 0 0 1 192.77,458.85 L191.50,461.79 A100.75,100.75 0 0 0 190.46,461.35 Z" fill="#ffffff" stroke="#b0b0b0" stroke-width="0.25"/>
<path d="M193.17,459.02 A103.95,103.95 0 0 1 195.29,459.98 L193.95,462.88 A100.75,100.75 0 0 0 191.89,461.96 Z" fill="#ffffff" stroke="#b0b0b0" stroke-width="0.25"/>
<path d="M195.69,460.16 A103.95,103.95 0 0 1 196.97,460.77 L195.58,463.65 A100.75,100.75 0 0 0 194.33,463.06 Z" fill="#ffffff" stroke="#b0b0b0" stroke-width="0.25"/>
<path d="M197.36,460.97 A103.95,103.95 0 0 1 198.48,461.52 L197.03,464.38 A100.75,100.75 0 0 0 195.95,463.84 Z" fill="#ffffff" stroke="#b0b0b0" stroke-width="0.25"/>
<path d="M198.87,461.72 A103.95,103.95 0 0 1 200.67,462.66 L199.16,465.48 A100.75,100.75 0 0 0 197.41,464.57 Z" fill="#a0a0a0" stroke="#b0b0b0" stroke-width="0.25"/>
<path d="M201.06,462.87 A103.95,103.95 0 0 1 202.12,463.45 L200.56,466.25 A100.75,100.75 0 0 0 199.53,465.68 Z" fill="#ffffff" stroke="#b0b0b0" stroke-width="0.25"/>
<path d="M202.50,463.66 A103.95,103.95 0 0 1 202.97,463.93 L201.38,466.71 A100.75,100.75 0 0 0 200.93,466.45 Z" fill="#ffffff" stroke="#b0b0b0" stroke-width="0.25"/>
<path d="M173.57,452.70 A103.95,103.95 0 0 1 174.35,452.87 L173.65,455.99 A100.75,100.75 0 0 0 172.89,455.83 Z" fill="#c84040"/>
<path d="M152.53,447.70 A106.6,106.6 0 0 1 204.47,461.73" fill="none" stroke="#444" stroke-width="0.45"/>
<path d="M152.53,447.70 L152.54,446.20 M154.71,447.75 L154.73,446.95 M156.88,447.83 L156.92,447.03 M159.05,447.96 L159.11,447.16 M161.22,448.14 L161.30,447.34 M163.39,448.35 L163.56,446.86 M165.55,448.62 L165.66,447.82 M167.71,448.92 L167.83,448.13 M169.85,449.27 L169.99,448.49 M172.00,449.67 L172.15,448.88 M174.13,450.11 L174.44,448.64 M176.25,450.59 L176.44,449.81 M178.36,451.11 L178.56,450.34 M180.46,451.68 L180.68,450.91 M182.55,452.29 L182.79,451.53 M184.63,452.95 L185.09,451.52 M186.69,453.64 L186.96,452.89 M188.74,454.38 L189.02,453.63 M190.77,455.16 L191.07,454.41 M192.79,455.98 L193.10,455.24 M194.79,456.84 L195.40,455.47 M196.77,457.74 L197.11,457.02 M198.73,458.69 L199.08,457.97 M200.67,459.67 L201.04,458.96 M202.60,460.69 L202.98,459.99 " stroke="#555" stroke-width="0.35"/>
<text x="152.93" y="445.11" font-size="2.0" fill="#777" text-anchor="middle" transform="rotate(0.7 152.93 445.11)">0M</text>
<text x="164.06" y="445.81" font-size="2.0" fill="#777" text-anchor="middle" transform="rotate(6.5 164.06 445.81)">50M</text>
<text x="175.05" y="447.65" font-size="2.0" fill="#777" text-anchor="middle" transform="rotate(12.4 175.05 447.65)">100M</text>
<text x="185.80" y="450.59" font-size="2.0" fill="#777" text-anchor="middle" transform="rotate(18.2 185.80 450.59)">150M</text>
<text x="196.19" y="454.62" font-size="2.0" fill="#777" text-anchor="middle" transform="rotate(24.1 196.19 454.62)">200M</text>
<text x="181.17" y="447.22" font-size="6.8" fill="#333" text-anchor="middle" transform="rotate(15.1 181.17 444.82)">1</text>
<path d="M204.90,464.65 A104.3,104.3 0 0 1 241.25,500.99 L237.89,502.98 A100.4,100.4 0 0 0 202.91,468.00 Z" fill="#ffffff" stroke="#222" stroke-width="0.6"/>
<path d="M204.91,465.06 A103.95,103.95 0 0 1 205.78,465.59 L204.12,468.32 A100.75,100.75 0 0 0 203.27,467.81 Z" fill="#ffffff" stroke="#b0b0b0" stroke-width="0.25"/>
<path d="M206.16,465.82 A103.95,103.95 0 0 1 207.94,466.94 L206.21,469.63 A100.75,100.75 0 0 0 204.48,468.54 Z" fill="#111" stroke="#b0b0b0" stroke-width="0.25"/>
<path d="M208.31,467.18 A103.95,103.95 0 0 1 209.85,468.20 L208.05,470.85 A100.75,100.75 0 0 0 206.56,469.86 Z" fill="#111" stroke="#b0b0b0" stroke-width="0.25"/>
<path d="M210.21,468.45 A103.95,103.95 0 0 1 210.91,468.93 L209.09,471.56 A100.75,100.75 0 0 0 208.40,471.09 Z" fill="#111" stroke="#b0b0b0" stroke-width="0.25"/>
<path d="M211.27,469.18 A103.95,103.95 0 0 1 212.96,470.39 L211.07,472.98 A100.75,100.75 0 0 0 209.43,471.80 Z" fill="#111" stroke="#b0b0b0" stroke-width="0.25"/>
<path d="M213.31,470.65 A103.95,103.95 0 0 1 214.05,471.20 L212.13,473.76 A100.75,100.75 0 0 0 211.41,473.23 Z" fill="#111" stroke="#b0b0b0" stroke-width="0.25"/>
<path d="M214.40,471.47 A103.95,103.95 0 0 1 215.19,472.07 L213.24,474.60 A100.75,100.75 0 0 0 212.47,474.02 Z" fill="#ffffff" stroke="#b0b0b0" stroke-width="0.25"/>
<path d="M215.54,472.34 A103.95,103.95 0 0 1 217.03,473.53 L215.02,476.01 A100.75,100.75 0 0 0 213.57,474.86 Z" fill="#ffffff" stroke="#b0b0b0" stroke-width="0.25"/>
<path d="M217.37,473.80 A103.95,103.95 0 0 1 219.18,475.32 L217.10,477.75 A100.75,100.75 0 0 0 215.35,476.28 Z" fill="#ffffff" stroke="#b0b0b0" stroke-width="0.25"/>
<path d="M219.51,475.60 A103.95,103.95 0 0 1 221.25,477.13 L219.10,479.51 A100.75,100.75 0 0 0 217.42,478.02 Z" fill="#111" stroke="#b0b0b0" stroke-width="0.25"/>
<path d="M221.57,477.42 A103.95,103.95 0 0 1 223.27,479.00 L221.06,481.32 A100.75,100.75 0 0 0 219.41,479.79 Z" fill="#ffffff" stroke="#b0b0b0" stroke-width="0.25"/>
<path d="M223.58,479.30 A103.95,103.95 0 0 1 224.20,479.90 L221.96,482.19 A100.75,100.75 0 0 0 221.36,481.61 Z" fill="#ffffff" stroke="#b0b0b0" stroke-width="0.25"/>
<path d="M224.51,480.20 A103.95,103.95 0 0 1 226.05,481.75 L223.76,483.99 A100.75,100.75 0 0 0 222.26,482.48 Z" fill="#ffffff" stroke="#b0b0b0" stroke-width="0.25"/>
<path d="M226.35,482.07 A103.95,103.95 0 0 1 226.81,482.54 L224.49,484.75 A100.75,100.75 0 0 0 224.05,484.29 Z" fill="#ffffff" stroke="#b0b0b0" stroke-width="0.25"/>
<path d="M227.11,482.86 A103.95,103.95 0 0 1 228.45,484.30 L226.08,486.46 A100.75,100.75 0 0 0 224.78,485.05 Z" fill="#ffffff" stroke="#b0b0b0" stroke-width="0.25"/>
<path d="M228.74,484.63 A103.95,103.95 0 0 1 230.34,486.44 L227.92,488.53 A100.75,100.75 0 0 0 226.37,486.77 Z" fill="#111" stroke="#b0b0b0" stroke-width="0.25"/>
<path d="M230.63,486.77 A103.95,103.95 0 0 1 231.01,487.22 L228.56,489.28 A100.75,100.75 0 0 0 228.20,488.85 Z" fill="#111" stroke="#b0b0b0" stroke-width="0.25"/>
<path d="M231.29,487.55 A103.95,103.95 0 0 1 231.62,487.95 L229.15,489.99 A100.75,100.75 0 0 0 228.83,489.60 Z" fill="#ffffff" stroke="#b0b0b0" stroke-width="0.25"/>
<path d="M231.89,488.28 A103.95,103.95 0 0 1 232.98,489.63 L230.48,491.62 A100.75,100.75 0 0 0 229.42,490.31 Z" fill="#111" stroke="#b0b0b0" stroke-width="0.25"/>
<path d="M233.25,489.97 A103.95,103.95 0 0 1 233.74,490.59 L231.21,492.55 A100.75,100.75 0 0 0 230.74,491.95 Z" fill="#111" stroke="#b0b0b0" stroke-width="0.25"/>
<path d="M234.01,490.94 A103.95,103.95 0 0 1 235.02,492.28 L232.46,494.19 A100.75,100.75 0 0 0 231.47,492.89 Z" fill="#ffffff" stroke="#b0b0b0" stroke-width="0.25"/>
<path d="M235.28,492.63 A103.95,103.95 0 0 1 236.69,494.59 L234.07,496.43 A100.75,100.75 0 0 0 232.71,494.53 Z" fill="#ffffff" stroke="#b0b0b0" stroke-width="0.25"/>
<path d="M236.94,494.94 A103.95,103.95 0 0 1 238.30,496.95 L235.63,498.72 A100.75,100.75 0 0 0 234.31,496.77 Z" fill="#ffffff" stroke="#b0b0b0" stroke-width="0.25"/>
<path d="M238.54,497.32 A103.95,103.95 0 0 1 239.22,498.37 L236.52,500.09 A100.75,100.75 0 0 0 235.86,499.07 Z" fill="#a0a0a0" stroke="#b0b0b0" stroke-width="0.25"/>
<path d="M239.45,498.73 A103.95,103.95 0 0 1 239.95,499.53 L237.23,501.21 A100.75,100.75 0 0 0 236.75,500.44 Z" fill="#ffffff" stroke="#b0b0b0" stroke-width="0.25"/>
<path d="M240.18,499.90 A103.95,103.95 0 0 1 240.83,500.98 L238.09,502.62 A100.75,100.75 0 0 0 237.45,501.57 Z" fill="#ffffff" stroke="#b0b0b0" stroke-width="0.25"/>
<path d="M218.52,474.75 A103.95,103.95 0 0 1 219.12,475.27 L217.05,477.70 A100.75,100.75 0 0 0 216.46,477.20 Z" fill="#c84040"/>
<path d="M206.08,462.67 A106.6,106.6 0 0 1 243.22,499.81" fill="none" stroke="#444" stroke-width="0.45"/>
<path d="M206.08,462.67 L206.84,461.38 M207.94,463.80 L208.36,463.12 M209.77,464.97 L210.21,464.30 M211.58,466.18 L212.03,465.52 M213.37,467.42 L213.83,466.77 M215.13,468.70 L216.03,467.50 M216.87,470.02 L217.36,469.38 M218.57,471.37 L219.08,470.74 M220.25,472.75 L220.77,472.14 M221.90,474.17 L222.43,473.57 M223.53,475.62 L224.54,474.52 M225.12,477.11 L225.67,476.53 M226.68,478.62 L227.24,478.06 M228.21,480.17 L228.78,479.62 M229.71,481.75 L230.29,481.21 M231.17,483.36 L232.29,482.36 M232.60,485.00 L233.21,484.48 M234.00,486.67 L234.62,486.16 M235.36,488.37 L235.99,487.87 M236.69,490.09 L237.33,489.61 M237.99,491.84 L239.20,490.96 M239.24,493.62 L239.90,493.16 M240.46,495.42 L241.13,494.98 M241.65,497.25 L242.32,496.82 M242.79,499.10 L243.48,498.68 " stroke="#555" stroke-width="0.35"/>
<text x="207.73" y="460.63" font-size="2.0" fill="#777" text-anchor="middle" transform="rotate(30.9 207.73 460.63)">0M</text>
<text x="216.99" y="466.84" font-size="2.0" fill="#777" text-anchor="middle" transform="rotate(36.8 216.99 466.84)">50M</text>
<text x="225.56" y="473.96" font-size="2.0" fill="#777" text-anchor="middle" transform="rotate(42.6 225.56 473.96)">100M</text>
<text x="233.36" y="481.92" font-size="2.0" fill="#777" text-anchor="middle" transform="rotate(48.5 233.36 481.92)">150M</text>
<text x="240.32" y="490.63" font-size="2.0" fill="#777" text-anchor="middle" transform="rotate(54.3 240.32 490.63)">200M</text>
<text x="231.78" y="476.51" font-size="6.8" fill="#333" text-anchor="middle" transform="rotate(45.0 231.78 474.11)">2</text>
<path d="M242.16,502.56 A104.3,104.3 0 0 1 255.23,542.51 L251.36,542.95 A100.4,100.4 0 0 0 238.78,504.50 Z" fill="#ffffff" stroke="#222" stroke-width="0.6"/>
<path d="M241.97,502.93 A103.95,103.95 0 0 1 242.38,503.65 L239.58,505.21 A100.75,100.75 0 0 0 239.19,504.51 Z" fill="#111" stroke="#b0b0b0" stroke-width="0.25"/>
<path d="M242.59,504.03 A103.95,103.95 0 0 1 243.15,505.06 L240.33,506.58 A100.75,100.75 0 0 0 239.79,505.58 Z" fill="#ffffff" stroke="#b0b0b0" stroke-width="0.25"/>
<path d="M243.35,505.44 A103.95,103.95 0 0 1 243.63,505.96 L240.80,507.45 A100.75,100.75 0 0 0 240.53,506.95 Z" fill="#ffffff" stroke="#b0b0b0" stroke-width="0.25"/>
<path d="M243.83,506.35 A103.95,103.95 0 0 1 244.66,507.98 L241.80,509.41 A100.75,100.75 0 0 0 240.99,507.83 Z" fill="#111" stroke="#b0b0b0" stroke-width="0.25"/>
<path d="M244.85,508.37 A103.95,103.95 0 0 1 245.44,509.59 L242.55,510.96 A100.75,100.75 0 0 0 241.98,509.79 Z" fill="#ffffff" stroke="#b0b0b0" stroke-width="0.25"/>
<path d="M245.63,509.98 A103.95,103.95 0 0 1 246.31,511.45 L243.39,512.77 A100.75,100.75 0 0 0 242.73,511.34 Z" fill="#ffffff" stroke="#b0b0b0" stroke-width="0.25"/>
<path d="M246.49,511.85 A103.95,103.95 0 0 1 247.38,513.89 L244.43,515.14 A100.75,100.75 0 0 0 243.57,513.15 Z" fill="#ffffff" stroke="#b0b0b0" stroke-width="0.25"/>
<path d="M247.54,514.29 A103.95,103.95 0 0 1 247.98,515.35 L245.01,516.55 A100.75,100.75 0 0 0 244.59,515.53 Z" fill="#ffffff" stroke="#b0b0b0" stroke-width="0.25"/>
<path d="M248.14,515.76 A103.95,103.95 0 0 1 248.99,517.95 L245.99,519.07 A100.75,100.75 0 0 0 245.17,516.94 Z" fill="#ffffff" stroke="#b0b0b0" stroke-width="0.25"/>
<path d="M249.14,518.36 A103.95,103.95 0 0 1 249.91,520.53 L246.88,521.57 A100.75,100.75 0 0 0 246.14,519.47 Z" fill="#ffffff" stroke="#b0b0b0" stroke-width="0.25"/>
<path d="M250.05,520.94 A103.95,103.95 0 0 1 250.29,521.66 L247.25,522.66 A100.75,100.75 0 0 0 247.02,521.97 Z" fill="#111" stroke="#b0b0b0" stroke-width="0.25"/>
<path d="M250.43,522.07 A103.95,103.95 0 0 1 250.80,523.25 L247.75,524.20 A100.75,100.75 0 0 0 247.38,523.06 Z" fill="#ffffff" stroke="#b0b0b0" stroke-width="0.25"/>
<path d="M250.93,523.66 A103.95,103.95 0 0 1 251.07,524.12 L248.01,525.05 A100.75,100.75 0 0 0 247.87,524.61 Z" fill="#ffffff" stroke="#b0b0b0" stroke-width="0.25"/>
<path d="M251.20,524.54 A103.95,103.95 0 0 1 251.76,526.50 L248.68,527.36 A100.75,100.75 0 0 0 248.13,525.46 Z" fill="#ffffff" stroke="#b0b0b0" stroke-width="0.25"/>
<path d="M251.88,526.92 A103.95,103.95 0 0 1 252.01,527.39 L248.91,528.21 A100.75,100.75 0 0 0 248.79,527.76 Z" fill="#ffffff" stroke="#b0b0b0" stroke-width="0.25"/>
<path d="M252.12,527.81 A103.95,103.95 0 0 1 252.44,529.06 L249.34,529.84 A100.75,100.75 0 0 0 249.02,528.62 Z" fill="#ffffff" stroke="#b0b0b0" stroke-width="0.25"/>
<path d="M252.55,529.49 A103.95,103.95 0 0 1 252.92,531.05 L249.80,531.77 A100.75,100.75 0 0 0 249.44,530.25 Z" fill="#ffffff" stroke="#b0b0b0" stroke-width="0.25"/>
<path d="M253.01,531.48 A103.95,103.95 0 0 1 253.29,532.73 L250.16,533.40 A100.75,100.75 0 0 0 249.89,532.18 Z" fill="#ffffff" stroke="#b0b0b0" stroke-width="0.25"/>
<path d="M253.38,533.16 A103.95,103.95 0 0 1 253.83,535.50 L250.69,536.07 A100.75,100.75 0 0 0 250.24,533.81 Z" fill="#ffffff" stroke="#b0b0b0" stroke-width="0.25"/>
<path d="M253.91,535.92 A103.95,103.95 0 0 1 254.20,537.60 L251.04,538.11 A100.75,100.75 0 0 0 250.76,536.49 Z" fill="#a0a0a0" stroke="#b0b0b0" stroke-width="0.25"/>
<path d="M254.27,538.03 A103.95,103.95 0 0 1 254.45,539.24 L251.29,539.70 A100.75,100.75 0 0 0 251.11,538.53 Z" fill="#a0a0a0" stroke="#b0b0b0" stroke-width="0.25"/>
<path d="M254.52,539.67 A103.95,103.95 0 0 1 254.81,541.92 L251.63,542.31 A100.75,100.75 0 0 0 251.35,540.12 Z" fill="#ffffff" stroke="#b0b0b0" stroke-width="0.25"/>
<path d="M254.86,542.36 A103.95,103.95 0 0 1 254.86,542.33 L251.68,542.70 A100.75,100.75 0 0 0 251.68,542.72 Z" fill="#ffffff" stroke="#b0b0b0" stroke-width="0.25"/>
<path d="M250.25,521.53 A103.95,103.95 0 0 1 250.50,522.28 L247.45,523.27 A100.75,100.75 0 0 0 247.21,522.53 Z" fill="#c84040"/>
<path d="M244.16,501.42 A106.6,106.6 0 0 1 257.52,542.25" fill="none" stroke="#444" stroke-width="0.45"/>
<path d="M244.16,501.42 L245.46,500.68 M245.22,503.32 L245.92,502.94 M246.24,505.25 L246.95,504.88 M247.22,507.19 L247.94,506.83 M248.17,509.15 L248.89,508.81 M249.07,511.13 L250.44,510.52 M249.93,513.13 L250.67,512.82 M250.75,515.15 L251.49,514.85 M251.53,517.18 L252.28,516.90 M252.27,519.23 L253.02,518.97 M252.96,521.29 L254.39,520.83 M253.61,523.37 L254.38,523.14 M254.22,525.46 L254.99,525.24 M254.79,527.56 L255.57,527.36 M255.32,529.67 L256.09,529.49 M255.80,531.79 L257.26,531.48 M256.23,533.93 L257.02,533.77 M256.63,536.07 L257.42,535.93 M256.98,538.22 L257.77,538.09 M257.29,540.37 L258.08,540.27 " stroke="#555" stroke-width="0.35"/>
<text x="246.61" y="500.46" font-size="2.0" fill="#777" text-anchor="middle" transform="rotate(60.5 246.61 500.46)">0M</text>
<text x="251.60" y="510.43" font-size="2.0" fill="#777" text-anchor="middle" transform="rotate(66.3 251.60 510.43)">50M</text>
<text x="255.55" y="520.85" font-size="2.0" fill="#777" text-anchor="middle" transform="rotate(72.2 255.55 520.85)">100M</text>
<text x="258.42" y="531.62" font-size="2.0" fill="#777" text-anchor="middle" transform="rotate(78.0 258.42 531.62)">150M</text>
<text x="259.38" y="521.44" font-size="6.8" fill="#333" text-anchor="middle" transform="rotate(71.9 259.38 519.04)">3</text>
<path d="M255.42,544.32 A104.3,104.3 0 0 1 251.38,584.67 L247.65,583.54 A100.4,100.4 0 0 0 251.54,544.69 Z" fill="#ffffff" stroke="#222" stroke-width="0.6"/>
<path d="M255.09,544.57 A103.95,103.95 0 0 1 255.25,546.40 L252.06,546.65 A100.75,100.75 0 0 0 251.91,544.87 Z" fill="#a0a0a0" stroke="#b0b0b0" stroke-width="0.25"/>
<path d="M255.28,546.84 A103.95,103.95 0 0 1 255.41,548.82 L252.21,548.99 A100.75,100.75 0 0 0 252.09,547.07 Z" fill="#a0a0a0" stroke="#b0b0b0" stroke-width="0.25"/>
<path d="M255.43,549.25 A103.95,103.95 0 0 1 255.50,550.94 L252.30,551.05 A100.75,100.75 0 0 0 252.23,549.41 Z" fill="#111" stroke="#b0b0b0" stroke-width="0.25"/>
<path d="M255.51,551.38 A103.95,103.95 0 0 1 255.55,553.56 L252.35,553.58 A100.75,100.75 0 0 0 252.31,551.47 Z" fill="#ffffff" stroke="#b0b0b0" stroke-width="0.25"/>
<path d="M255.55,554.00 A103.95,103.95 0 0 1 255.55,555.02 L252.35,555.00 A100.75,100.75 0 0 0 252.35,554.01 Z" fill="#ffffff" stroke="#b0b0b0" stroke-width="0.25"/>
<path d="M255.54,555.45 A103.95,103.95 0 0 1 255.53,556.09 L252.34,556.03 A100.75,100.75 0 0 0 252.34,555.42 Z" fill="#ffffff" stroke="#b0b0b0" stroke-width="0.25"/>
<path d="M255.53,556.53 A103.95,103.95 0 0 1 255.46,558.51 L252.27,558.38 A100.75,100.75 0 0 0 252.33,556.46 Z" fill="#111" stroke="#b0b0b0" stroke-width="0.25"/>
<path d="M255.45,558.94 A103.95,103.95 0 0 1 255.34,560.93 L252.14,560.73 A100.75,100.75 0 0 0 252.25,558.80 Z" fill="#ffffff" stroke="#b0b0b0" stroke-width="0.25"/>
<path d="M255.31,561.36 A103.95,103.95 0 0 1 255.13,563.64 L251.94,563.35 A100.75,100.75 0 0 0 252.12,561.15 Z" fill="#ffffff" stroke="#b0b0b0" stroke-width="0.25"/>
<path d="M255.09,564.07 A103.95,103.95 0 0 1 254.96,565.39 L251.77,565.05 A100.75,100.75 0 0 0 251.90,563.77 Z" fill="#ffffff" stroke="#b0b0b0" stroke-width="0.25"/>
<path d="M254.91,565.82 A103.95,103.95 0 0 1 254.84,566.46 L251.66,566.09 A100.75,100.75 0 0 0 251.73,565.47 Z" fill="#ffffff" stroke="#b0b0b0" stroke-width="0.25"/>
<path d="M254.78,566.90 A103.95,103.95 0 0 1 254.70,567.57 L251.53,567.16 A100.75,100.75 0 0 0 251.61,566.51 Z" fill="#a0a0a0" stroke="#b0b0b0" stroke-width="0.25"/>
<path d="M254.64,568.00 A103.95,103.95 0 0 1 254.55,568.69 L251.38,568.25 A100.75,100.75 0 0 0 251.47,567.58 Z" fill="#ffffff" stroke="#b0b0b0" stroke-width="0.25"/>
<path d="M254.49,569.12 A103.95,103.95 0 0 1 254.29,570.46 L251.12,569.96 A100.75,100.75 0 0 0 251.32,568.67 Z" fill="#ffffff" stroke="#b0b0b0" stroke-width="0.25"/>
<path d="M254.22,570.89 A103.95,103.95 0 0 1 254.06,571.86 L250.90,571.32 A100.75,100.75 0 0 0 251.06,570.38 Z" fill="#ffffff" stroke="#b0b0b0" stroke-width="0.25"/>
<path d="M253.98,572.29 A103.95,103.95 0 0 1 253.66,574.03 L250.52,573.42 A100.75,100.75 0 0 0 250.83,571.74 Z" fill="#111" stroke="#b0b0b0" stroke-width="0.25"/>
<path d="M253.58,574.46 A103.95,103.95 0 0 1 253.28,575.88 L250.15,575.22 A100.75,100.75 0 0 0 250.44,573.84 Z" fill="#ffffff" stroke="#b0b0b0" stroke-width="0.25"/>
<path d="M253.19,576.31 A103.95,103.95 0 0 1 253.00,577.19 L249.88,576.48 A100.75,100.75 0 0 0 250.07,575.63 Z" fill="#ffffff" stroke="#b0b0b0" stroke-width="0.25"/>
<path d="M252.90,577.61 A103.95,103.95 0 0 1 252.67,578.61 L249.56,577.86 A100.75,100.75 0 0 0 249.78,576.89 Z" fill="#ffffff" stroke="#b0b0b0" stroke-width="0.25"/>
<path d="M252.56,579.03 A103.95,103.95 0 0 1 251.99,581.27 L248.90,580.44 A100.75,100.75 0 0 0 249.46,578.27 Z" fill="#ffffff" stroke="#b0b0b0" stroke-width="0.25"/>
<path d="M251.88,581.69 A103.95,103.95 0 0 1 251.20,584.06 L248.13,583.14 A100.75,100.75 0 0 0 248.79,580.85 Z" fill="#ffffff" stroke="#b0b0b0" stroke-width="0.25"/>
<path d="M255.35,560.79 A103.95,103.95 0 0 1 255.29,561.58 L252.10,561.36 A100.75,100.75 0 0 0 252.15,560.59 Z" fill="#c84040"/>
<path d="M257.71,544.10 A106.6,106.6 0 0 1 253.58,585.34" fill="none" stroke="#444" stroke-width="0.45"/>
<path d="M257.71,544.10 L259.20,543.95 M257.90,546.27 L258.69,546.20 M258.04,548.44 L258.84,548.39 M258.14,550.61 L258.94,550.58 M258.19,552.79 L258.99,552.78 M258.20,554.96 L259.70,554.97 M258.16,557.14 L258.96,557.16 M258.08,559.32 L258.88,559.35 M257.96,561.49 L258.76,561.54 M257.79,563.66 L258.59,563.73 M257.58,565.83 L259.07,565.99 M257.32,567.99 L258.11,568.09 M257.02,570.14 L257.81,570.26 M256.67,572.29 L257.46,572.43 M256.28,574.43 L257.07,574.59 M255.85,576.57 L257.32,576.88 M255.37,578.69 L256.15,578.87 M254.85,580.81 L255.63,581.00 M254.29,582.91 L255.06,583.12 M253.68,585.00 L254.45,585.23 " stroke="#555" stroke-width="0.35"/>
<text x="260.33" y="544.23" font-size="2.0" fill="#777" text-anchor="middle" transform="rotate(84.7 260.33 544.23)">0M</text>
<text x="260.79" y="555.36" font-size="2.0" fill="#777" text-anchor="middle" transform="rotate(90.6 260.79 555.36)">50M</text>
<text x="260.12" y="566.49" font-size="2.0" fill="#777" text-anchor="middle" transform="rotate(96.4 260.12 566.49)">100M</text>
<text x="258.31" y="577.48" font-size="2.0" fill="#777" text-anchor="middle" transform="rotate(102.3 258.31 577.48)">150M</text>
<text x="264.44" y="568.00" font-size="6.8" fill="#333" text-anchor="middle" transform="rotate(95.7 264.44 565.60)">4</text>
<path d="M250.83,586.41 A104.3,104.3 0 0 1 232.45,620.19 L229.43,617.73 A100.4,100.4 0 0 0 247.12,585.21 Z" fill="#ffffff" stroke="#222" stroke-width="0.6"/>
<path d="M250.43,586.51 A103.95,103.95 0 0 1 249.77,588.49 L246.75,587.43 A100.75,100.75 0 0 0 247.39,585.52 Z" fill="#ffffff" stroke="#b0b0b0" stroke-width="0.25"/>
<path d="M249.62,588.90 A103.95,103.95 0 0 1 249.15,590.20 L246.15,589.09 A100.75,100.75 0 0 0 246.61,587.83 Z" fill="#ffffff" stroke="#b0b0b0" stroke-width="0.25"/>
<path d="M249.00,590.61 A103.95,103.95 0 0 1 248.55,591.80 L245.57,590.64 A100.75,100.75 0 0 0 246.01,589.49 Z" fill="#ffffff" stroke="#b0b0b0" stroke-width="0.25"/>
<path d="M248.39,592.20 A103.95,103.95 0 0 1 247.87,593.52 L244.91,592.31 A100.75,100.75 0 0 0 245.41,591.03 Z" fill="#111" stroke="#b0b0b0" stroke-width="0.25"/>
<path d="M247.70,593.92 A103.95,103.95 0 0 1 246.94,595.73 L244.00,594.45 A100.75,100.75 0 0 0 244.75,592.70 Z" fill="#111" stroke="#b0b0b0" stroke-width="0.25"/>
<path d="M246.76,596.13 A103.95,103.95 0 0 1 246.01,597.80 L243.11,596.46 A100.75,100.75 0 0 0 243.83,594.84 Z" fill="#111" stroke="#b0b0b0" stroke-width="0.25"/>
<path d="M245.83,598.19 A103.95,103.95 0 0 1 244.77,600.39 L241.90,598.97 A100.75,100.75 0 0 0 242.93,596.84 Z" fill="#ffffff" stroke="#b0b0b0" stroke-width="0.25"/>
<path d="M244.58,600.78 A103.95,103.95 0 0 1 243.69,602.52 L240.86,601.03 A100.75,100.75 0 0 0 241.72,599.35 Z" fill="#111" stroke="#b0b0b0" stroke-width="0.25"/>
<path d="M243.49,602.90 A103.95,103.95 0 0 1 242.66,604.44 L239.86,602.89 A100.75,100.75 0 0 0 240.66,601.41 Z" fill="#ffffff" stroke="#b0b0b0" stroke-width="0.25"/>
<path d="M242.45,604.82 A103.95,103.95 0 0 1 241.97,605.66 L239.19,604.08 A100.75,100.75 0 0 0 239.65,603.26 Z" fill="#ffffff" stroke="#b0b0b0" stroke-width="0.25"/>
<path d="M241.76,606.04 A103.95,103.95 0 0 1 241.49,606.51 L238.72,604.90 A100.75,100.75 0 0 0 238.98,604.45 Z" fill="#ffffff" stroke="#b0b0b0" stroke-width="0.25"/>
<path d="M241.27,606.88 A103.95,103.95 0 0 1 240.94,607.44 L238.19,605.80 A100.75,100.75 0 0 0 238.51,605.26 Z" fill="#ffffff" stroke="#b0b0b0" stroke-width="0.25"/>
<path d="M240.72,607.81 A103.95,103.95 0 0 1 239.54,609.73 L236.83,608.03 A100.75,100.75 0 0 0 237.97,606.17 Z" fill="#111" stroke="#b0b0b0" stroke-width="0.25"/>
<path d="M239.30,610.10 A103.95,103.95 0 0 1 238.54,611.28 L235.87,609.52 A100.75,100.75 0 0 0 236.60,608.38 Z" fill="#ffffff" stroke="#b0b0b0" stroke-width="0.25"/>
<path d="M238.31,611.64 A103.95,103.95 0 0 1 237.24,613.22 L234.60,611.41 A100.75,100.75 0 0 0 235.64,609.87 Z" fill="#ffffff" stroke="#b0b0b0" stroke-width="0.25"/>
<path d="M236.99,613.58 A103.95,103.95 0 0 1 236.33,614.52 L233.72,612.67 A100.75,100.75 0 0 0 234.36,611.75 Z" fill="#ffffff" stroke="#b0b0b0" stroke-width="0.25"/>
<path d="M236.07,614.88 A103.95,103.95 0 0 1 235.58,615.56 L233.00,613.67 A100.75,100.75 0 0 0 233.47,613.01 Z" fill="#111" stroke="#b0b0b0" stroke-width="0.25"/>
<path d="M235.32,615.91 A103.95,103.95 0 0 1 234.06,617.59 L231.52,615.64 A100.75,100.75 0 0 0 232.75,614.01 Z" fill="#111" stroke="#b0b0b0" stroke-width="0.25"/>
<path d="M233.80,617.93 A103.95,103.95 0 0 1 233.28,618.60 L230.76,616.62 A100.75,100.75 0 0 0 231.27,615.97 Z" fill="#ffffff" stroke="#b0b0b0" stroke-width="0.25"/>
<path d="M233.01,618.94 A103.95,103.95 0 0 1 232.31,619.80 L229.83,617.79 A100.75,100.75 0 0 0 230.50,616.95 Z" fill="#111" stroke="#b0b0b0" stroke-width="0.25"/>
<path d="M243.35,603.16 A103.95,103.95 0 0 1 242.97,603.87 L240.16,602.34 A100.75,100.75 0 0 0 240.53,601.66 Z" fill="#c84040"/>
<path d="M253.02,587.12 A106.6,106.6 0 0 1 234.23,621.65" fill="none" stroke="#444" stroke-width="0.45"/>
<path d="M253.02,587.12 L254.45,587.58 M252.33,589.18 L253.09,589.45 M251.60,591.23 L252.35,591.51 M250.82,593.27 L251.57,593.56 M250.01,595.28 L250.74,595.59 M249.15,597.29 L250.52,597.89 M248.25,599.27 L248.98,599.61 M247.31,601.23 L248.03,601.58 M246.33,603.18 L247.05,603.54 M245.32,605.10 L246.02,605.48 M244.26,607.00 L245.56,607.75 M243.16,608.89 L243.85,609.30 M242.03,610.74 L242.71,611.17 M240.86,612.58 L241.53,613.02 M239.65,614.39 L240.31,614.84 M238.41,616.17 L239.63,617.04 M237.12,617.93 L237.77,618.41 M235.81,619.67 L236.44,620.16 M234.45,621.37 L235.08,621.88 " stroke="#555" stroke-width="0.35"/>
<text x="255.38" y="588.28" font-size="2.0" fill="#777" text-anchor="middle" transform="rotate(108.1 255.38 588.28)">0M</text>
<text x="251.37" y="598.68" font-size="2.0" fill="#777" text-anchor="middle" transform="rotate(114.0 251.37 598.68)">50M</text>
<text x="246.33" y="608.62" font-size="2.0" fill="#777" text-anchor="middle" transform="rotate(119.8 246.33 608.62)">100M</text>
<text x="240.30" y="617.99" font-size="2.0" fill="#777" text-anchor="middle" transform="rotate(125.7 240.30 617.99)">150M</text>
<text x="251.21" y="610.91" font-size="6.8" fill="#333" text-anchor="middle" transform="rotate(118.6 251.21 608.51)">5</text>
<path d="M231.29,621.59 A104.3,104.3 0 0 1 203.35,644.86 L201.41,641.47 A100.4,100.4 0 0 0 228.31,619.08 Z" fill="#ffffff" stroke="#222" stroke-width="0.6"/>
<path d="M230.88,621.53 A103.95,103.95 0 0 1 229.95,622.61 L227.54,620.51 A100.75,100.75 0 0 0 228.44,619.47 Z" fill="#ffffff" stroke="#b0b0b0" stroke-width="0.25"/>
<path d="M229.67,622.94 A103.95,103.95 0 0 1 229.02,623.66 L226.64,621.53 A100.75,100.75 0 0 0 227.26,620.82 Z" fill="#ffffff" stroke="#b0b0b0" stroke-width="0.25"/>
<path d="M228.73,623.99 A103.95,103.95 0 0 1 228.12,624.66 L225.76,622.50 A100.75,100.75 0 0 0 226.36,621.84 Z" fill="#ffffff" stroke="#b0b0b0" stroke-width="0.25"/>
<path d="M227.82,624.98 A103.95,103.95 0 0 1 226.66,626.22 L224.35,624.00 A100.75,100.75 0 0 0 225.47,622.81 Z" fill="#ffffff" stroke="#b0b0b0" stroke-width="0.25"/>
<path d="M226.36,626.53 A103.95,103.95 0 0 1 224.95,627.96 L222.69,625.69 A100.75,100.75 0 0 0 224.06,624.31 Z" fill="#ffffff" stroke="#b0b0b0" stroke-width="0.25"/>
<path d="M224.64,628.27 A103.95,103.95 0 0 1 223.54,629.34 L221.32,627.03 A100.75,100.75 0 0 0 222.39,625.99 Z" fill="#ffffff" stroke="#b0b0b0" stroke-width="0.25"/>
<path d="M223.22,629.64 A103.95,103.95 0 0 1 222.23,630.57 L220.06,628.22 A100.75,100.75 0 0 0 221.02,627.32 Z" fill="#111" stroke="#b0b0b0" stroke-width="0.25"/>
<path d="M221.91,630.86 A103.95,103.95 0 0 1 220.20,632.40 L218.09,629.99 A100.75,100.75 0 0 0 219.75,628.51 Z" fill="#ffffff" stroke="#b0b0b0" stroke-width="0.25"/>
<path d="M219.88,632.68 A103.95,103.95 0 0 1 218.48,633.87 L216.42,631.43 A100.75,100.75 0 0 0 217.77,630.27 Z" fill="#ffffff" stroke="#b0b0b0" stroke-width="0.25"/>
<path d="M218.15,634.15 A103.95,103.95 0 0 1 217.43,634.75 L215.40,632.27 A100.75,100.75 0 0 0 216.10,631.70 Z" fill="#ffffff" stroke="#b0b0b0" stroke-width="0.25"/>
<path d="M217.09,635.02 A103.95,103.95 0 0 1 215.44,636.34 L213.47,633.81 A100.75,100.75 0 0 0 215.08,632.54 Z" fill="#ffffff" stroke="#b0b0b0" stroke-width="0.25"/>
<path d="M215.09,636.61 A103.95,103.95 0 0 1 213.24,638.00 L211.35,635.42 A100.75,100.75 0 0 0 213.14,634.07 Z" fill="#111" stroke="#b0b0b0" stroke-width="0.25"/>
<path d="M212.89,638.26 A103.95,103.95 0 0 1 211.40,639.33 L209.56,636.71 A100.75,100.75 0 0 0 211.01,635.67 Z" fill="#ffffff" stroke="#b0b0b0" stroke-width="0.25"/>
<path d="M211.04,639.58 A103.95,103.95 0 0 1 209.99,640.30 L208.19,637.65 A100.75,100.75 0 0 0 209.21,636.95 Z" fill="#111" stroke="#b0b0b0" stroke-width="0.25"/>
<path d="M209.63,640.55 A103.95,103.95 0 0 1 209.01,640.96 L207.24,638.29 A100.75,100.75 0 0 0 207.84,637.89 Z" fill="#ffffff" stroke="#b0b0b0" stroke-width="0.25"/>
<path d="M208.64,641.20 A103.95,103.95 0 0 1 207.42,641.99 L205.70,639.29 A100.75,100.75 0 0 0 206.89,638.52 Z" fill="#a0a0a0" stroke="#b0b0b0" stroke-width="0.25"/>
<path d="M207.05,642.22 A103.95,103.95 0 0 1 206.03,642.86 L204.36,640.13 A100.75,100.75 0 0 0 205.35,639.52 Z" fill="#ffffff" stroke="#b0b0b0" stroke-width="0.25"/>
<path d="M205.66,643.09 A103.95,103.95 0 0 1 203.95,644.11 L202.34,641.34 A100.75,100.75 0 0 0 204.00,640.35 Z" fill="#ffffff" stroke="#b0b0b0" stroke-width="0.25"/>
<path d="M203.57,644.33 A103.95,103.95 0 0 1 203.36,644.45 L201.77,641.67 A100.75,100.75 0 0 0 201.97,641.55 Z" fill="#ffffff" stroke="#b0b0b0" stroke-width="0.25"/>
<path d="M221.88,630.89 A103.95,103.95 0 0 1 221.29,631.43 L219.15,629.05 A100.75,100.75 0 0 0 219.72,628.53 Z" fill="#c84040"/>
<path d="M233.04,623.08 A106.6,106.6 0 0 1 204.49,646.86" fill="none" stroke="#444" stroke-width="0.45"/>
<path d="M233.04,623.08 L234.19,624.05 M231.62,624.73 L232.22,625.26 M230.17,626.35 L230.76,626.89 M228.68,627.94 L229.26,628.49 M227.16,629.49 L227.73,630.06 M225.61,631.02 L226.65,632.10 M224.03,632.52 L224.57,633.10 M222.42,633.98 L222.95,634.58 M220.77,635.41 L221.29,636.02 M219.10,636.80 L219.61,637.42 M217.40,638.17 L218.33,639.35 M215.68,639.49 L216.16,640.13 M213.93,640.78 L214.39,641.43 M212.15,642.04 L212.60,642.70 M210.34,643.25 L210.78,643.92 M208.51,644.44 L209.31,645.70 M206.66,645.58 L207.07,646.26 M204.79,646.68 L205.19,647.38 " stroke="#555" stroke-width="0.35"/>
<text x="234.78" y="625.05" font-size="2.0" fill="#777" text-anchor="middle" transform="rotate(130.4 234.78 625.05)">0M</text>
<text x="227.14" y="633.16" font-size="2.0" fill="#777" text-anchor="middle" transform="rotate(136.2 227.14 633.16)">50M</text>
<text x="218.71" y="640.45" font-size="2.0" fill="#777" text-anchor="middle" transform="rotate(142.1 218.71 640.45)">100M</text>
<text x="209.58" y="646.84" font-size="2.0" fill="#777" text-anchor="middle" transform="rotate(147.9 209.58 646.84)">150M</text>
<text x="224.16" y="643.85" font-size="6.8" fill="#333" text-anchor="middle" transform="rotate(140.2 224.16 641.45)">6</text>
<path d="M201.76,645.75 A104.3,104.3 0 0 1 169.85,656.99 L169.17,653.15 A100.4,100.4 0 0 0 199.88,642.33 Z" fill="#ffffff" stroke="#222" stroke-width="0.6"/>
<path d="M201.40,645.55 A103.95,103.95 0 0 1 199.29,646.67 L197.82,643.82 A100.75,100.75 0 0 0 199.86,642.74 Z" fill="#ffffff" stroke="#b0b0b0" stroke-width="0.25"/>
<path d="M198.90,646.86 A103.95,103.95 0 0 1 198.23,647.20 L196.80,644.34 A100.75,100.75 0 0 0 197.45,644.01 Z" fill="#ffffff" stroke="#b0b0b0" stroke-width="0.25"/>
<path d="M197.84,647.40 A103.95,103.95 0 0 1 195.68,648.44 L194.32,645.54 A100.75,100.75 0 0 0 196.42,644.53 Z" fill="#ffffff" stroke="#b0b0b0" stroke-width="0.25"/>
<path d="M195.28,648.63 A103.95,103.95 0 0 1 193.86,649.27 L192.56,646.35 A100.75,100.75 0 0 0 193.94,645.72 Z" fill="#a0a0a0" stroke="#b0b0b0" stroke-width="0.25"/>
<path d="M193.46,649.45 A103.95,103.95 0 0 1 192.98,649.66 L191.70,646.72 A100.75,100.75 0 0 0 192.17,646.52 Z" fill="#111" stroke="#b0b0b0" stroke-width="0.25"/>
<path d="M192.58,649.83 A103.95,103.95 0 0 1 191.92,650.11 L190.67,647.16 A100.75,100.75 0 0 0 191.32,646.89 Z" fill="#a0a0a0" stroke="#b0b0b0" stroke-width="0.25"/>
<path d="M191.51,650.28 A103.95,103.95 0 0 1 189.91,650.93 L188.73,647.96 A100.75,100.75 0 0 0 190.28,647.33 Z" fill="#ffffff" stroke="#b0b0b0" stroke-width="0.25"/>
<path d="M189.51,651.09 A103.95,103.95 0 0 1 187.30,651.93 L186.20,648.92 A100.75,100.75 0 0 0 188.34,648.11 Z" fill="#ffffff" stroke="#b0b0b0" stroke-width="0.25"/>
<path d="M186.89,652.08 A103.95,103.95 0 0 1 185.76,652.48 L184.71,649.45 A100.75,100.75 0 0 0 185.80,649.07 Z" fill="#ffffff" stroke="#b0b0b0" stroke-width="0.25"/>
<path d="M185.35,652.62 A103.95,103.95 0 0 1 183.70,653.17 L182.71,650.13 A100.75,100.75 0 0 0 184.31,649.59 Z" fill="#ffffff" stroke="#b0b0b0" stroke-width="0.25"/>
<path d="M183.29,653.30 A103.95,103.95 0 0 1 181.19,653.95 L180.28,650.88 A100.75,100.75 0 0 0 182.31,650.25 Z" fill="#ffffff" stroke="#b0b0b0" stroke-width="0.25"/>
<path d="M180.77,654.07 A103.95,103.95 0 0 1 179.63,654.40 L178.77,651.32 A100.75,100.75 0 0 0 179.88,651.00 Z" fill="#ffffff" stroke="#b0b0b0" stroke-width="0.25"/>
<path d="M179.21,654.52 A103.95,103.95 0 0 1 178.18,654.80 L177.36,651.70 A100.75,100.75 0 0 0 178.36,651.43 Z" fill="#ffffff" stroke="#b0b0b0" stroke-width="0.25"/>
<path d="M177.75,654.91 A103.95,103.95 0 0 1 176.83,655.14 L176.05,652.04 A100.75,100.75 0 0 0 176.95,651.81 Z" fill="#ffffff" stroke="#b0b0b0" stroke-width="0.25"/>
<path d="M176.40,655.25 A103.95,103.95 0 0 1 175.82,655.39 L175.07,652.28 A100.75,100.75 0 0 0 175.64,652.14 Z" fill="#111" stroke="#b0b0b0" stroke-width="0.25"/>
<path d="M175.40,655.49 A103.95,103.95 0 0 1 173.86,655.84 L173.17,652.71 A100.75,100.75 0 0 0 174.66,652.37 Z" fill="#111" stroke="#b0b0b0" stroke-width="0.25"/>
<path d="M173.43,655.93 A103.95,103.95 0 0 1 171.98,656.23 L171.35,653.09 A100.75,100.75 0 0 0 172.76,652.80 Z" fill="#111" stroke="#b0b0b0" stroke-width="0.25"/>
<path d="M171.55,656.32 A103.95,103.95 0 0 1 170.00,656.61 L169.44,653.46 A100.75,100.75 0 0 0 170.94,653.18 Z" fill="#ffffff" stroke="#b0b0b0" stroke-width="0.25"/>
<path d="M188.53,651.47 A103.95,103.95 0 0 1 187.78,651.75 L186.67,648.75 A100.75,100.75 0 0 0 187.39,648.48 Z" fill="#c84040"/>
<path d="M202.86,647.76 A106.6,106.6 0 0 1 170.25,659.26" fill="none" stroke="#444" stroke-width="0.45"/>
<path d="M202.86,647.76 L203.58,649.08 M200.94,648.79 L201.31,649.50 M199.00,649.78 L199.36,650.50 M197.04,650.73 L197.39,651.45 M195.07,651.64 L195.39,652.37 M193.07,652.50 L193.65,653.88 M191.06,653.33 L191.35,654.07 M189.03,654.11 L189.31,654.86 M186.98,654.86 L187.24,655.61 M184.92,655.56 L185.17,656.32 M182.84,656.22 L183.28,657.65 M180.76,656.84 L180.98,657.60 M178.66,657.41 L178.86,658.18 M176.55,657.94 L176.73,658.72 M174.42,658.43 L174.60,659.21 M172.29,658.87 L172.58,660.34 " stroke="#555" stroke-width="0.35"/>
<text x="203.78" y="650.23" font-size="2.0" fill="#777" text-anchor="middle" transform="rotate(151.5 203.78 650.23)">0M</text>
<text x="193.73" y="655.05" font-size="2.0" fill="#777" text-anchor="middle" transform="rotate(157.3 193.73 655.05)">50M</text>
<text x="183.24" y="658.82" font-size="2.0" fill="#777" text-anchor="middle" transform="rotate(163.2 183.24 658.82)">100M</text>
<text x="172.42" y="661.50" font-size="2.0" fill="#777" text-anchor="middle" transform="rotate(169.0 172.42 661.50)">150M</text>
<text x="189.29" y="663.65" font-size="6.8" fill="#333" text-anchor="middle" transform="rotate(160.6 189.29 661.25)">7</text>
<path d="M168.05,657.29 A104.3,104.3 0 0 1 136.97,657.57 L137.52,653.71 A100.4,100.4 0 0 0 167.44,653.44 Z" fill="#ffffff" stroke="#222" stroke-width="0.6"/>
<path d="M167.78,656.98 A103.95,103.95 0 0 1 165.49,657.32 L165.06,654.15 A100.75,100.75 0 0 0 167.29,653.82 Z" fill="#ffffff" stroke="#b0b0b0" stroke-width="0.25"/>
<path d="M165.06,657.38 A103.95,103.95 0 0 1 163.24,657.60 L162.89,654.42 A100.75,100.75 0 0 0 164.64,654.20 Z" fill="#ffffff" stroke="#b0b0b0" stroke-width="0.25"/>
<path d="M162.81,657.64 A103.95,103.95 0 0 1 162.34,657.69 L162.01,654.51 A100.75,100.75 0 0 0 162.47,654.46 Z" fill="#111" stroke="#b0b0b0" stroke-width="0.25"/>
<path d="M161.90,657.74 A103.95,103.95 0 0 1 160.59,657.86 L160.31,654.67 A100.75,100.75 0 0 0 161.59,654.55 Z" fill="#ffffff" stroke="#b0b0b0" stroke-width="0.25"/>
<path d="M160.15,657.90 A103.95,103.95 0 0 1 159.06,657.98 L158.83,654.79 A100.75,100.75 0 0 0 159.89,654.71 Z" fill="#ffffff" stroke="#b0b0b0" stroke-width="0.25"/>
<path d="M158.63,658.01 A103.95,103.95 0 0 1 158.14,658.04 L157.94,654.85 A100.75,100.75 0 0 0 158.41,654.82 Z" fill="#ffffff" stroke="#b0b0b0" stroke-width="0.25"/>
<path d="M157.70,658.07 A103.95,103.95 0 0 1 155.43,658.18 L155.32,654.98 A100.75,100.75 0 0 0 157.52,654.88 Z" fill="#ffffff" stroke="#b0b0b0" stroke-width="0.25"/>
<path d="M155.00,658.19 A103.95,103.95 0 0 1 152.88,658.24 L152.84,655.04 A100.75,100.75 0 0 0 154.89,655.00 Z" fill="#111" stroke="#b0b0b0" stroke-width="0.25"/>
<path d="M152.45,658.25 A103.95,103.95 0 0 1 151.57,658.25 L151.57,655.05 A100.75,100.75 0 0 0 152.42,655.05 Z" fill="#111" stroke="#b0b0b0" stroke-width="0.25"/>
<path d="M151.13,658.25 A103.95,103.95 0 0 1 149.00,658.22 L149.08,655.02 A100.75,100.75 0 0 0 151.15,655.05 Z" fill="#111" stroke="#b0b0b0" stroke-width="0.25"/>
<path d="M148.57,658.21 A103.95,103.95 0 0 1 146.24,658.11 L146.40,654.92 A100.75,100.75 0 0 0 148.66,655.01 Z" fill="#a0a0a0" stroke="#b0b0b0" stroke-width="0.25"/>
<path d="M145.80,658.09 A103.95,103.95 0 0 1 143.58,657.94 L143.83,654.75 A100.75,100.75 0 0 0 145.98,654.89 Z" fill="#ffffff" stroke="#b0b0b0" stroke-width="0.25"/>
<path d="M143.14,657.91 A103.95,103.95 0 0 1 142.03,657.81 L142.33,654.62 A100.75,100.75 0 0 0 143.40,654.72 Z" fill="#ffffff" stroke="#b0b0b0" stroke-width="0.25"/>
<path d="M141.60,657.77 A103.95,103.95 0 0 1 140.32,657.64 L140.67,654.46 A100.75,100.75 0 0 0 141.91,654.58 Z" fill="#ffffff" stroke="#b0b0b0" stroke-width="0.25"/>
<path d="M139.89,657.59 A103.95,103.95 0 0 1 139.29,657.52 L139.67,654.34 A100.75,100.75 0 0 0 140.25,654.41 Z" fill="#ffffff" stroke="#b0b0b0" stroke-width="0.25"/>
<path d="M138.86,657.47 A103.95,103.95 0 0 1 137.23,657.25 L137.68,654.08 A100.75,100.75 0 0 0 139.25,654.29 Z" fill="#111" stroke="#b0b0b0" stroke-width="0.25"/>
<path d="M154.50,658.21 A103.95,103.95 0 0 1 153.70,658.23 L153.63,655.03 A100.75,100.75 0 0 0 154.41,655.01 Z" fill="#c84040"/>
<path d="M168.42,659.57 A106.6,106.6 0 0 1 136.65,659.85" fill="none" stroke="#444" stroke-width="0.45"/>
<path d="M168.42,659.57 L168.65,661.05 M166.26,659.89 L166.37,660.68 M164.10,660.16 L164.20,660.96 M161.94,660.40 L162.02,661.19 M159.77,660.59 L159.83,661.38 M157.60,660.73 L157.68,662.23 M155.43,660.83 L155.45,661.63 M153.25,660.89 L153.26,661.69 M151.07,660.90 L151.07,661.70 M148.90,660.87 L148.88,661.67 M146.72,660.79 L146.65,662.29 M144.55,660.67 L144.49,661.46 M142.38,660.50 L142.31,661.30 M140.21,660.29 L140.12,661.09 M138.05,660.04 L137.95,660.83 " stroke="#555" stroke-width="0.35"/>
<text x="168.45" y="662.19" font-size="2.0" fill="#777" text-anchor="middle" transform="rotate(171.1 168.45 662.19)">0M</text>
<text x="157.37" y="663.35" font-size="2.0" fill="#777" text-anchor="middle" transform="rotate(177.0 157.37 663.35)">50M</text>
<text x="146.22" y="663.37" font-size="2.0" fill="#777" text-anchor="middle" transform="rotate(182.8 146.22 663.37)">100M</text>
<text x="152.60" y="670.10" font-size="6.8" fill="#333" text-anchor="middle" transform="rotate(179.5 152.60 667.70)">8</text>
<path d="M135.17,657.30 A104.3,104.3 0 0 1 106.50,648.35 L108.19,644.83 A100.4,100.4 0 0 0 135.78,653.45 Z" fill="#ffffff" stroke="#222" stroke-width="0.6"/>
<path d="M135.01,656.92 A103.95,103.95 0 0 1 134.01,656.75 L134.55,653.60 A100.75,100.75 0 0 0 135.52,653.76 Z" fill="#111" stroke="#b0b0b0" stroke-width="0.25"/>
<path d="M133.58,656.68 A103.95,103.95 0 0 1 132.40,656.46 L132.99,653.32 A100.75,100.75 0 0 0 134.14,653.53 Z" fill="#ffffff" stroke="#b0b0b0" stroke-width="0.25"/>
<path d="M131.98,656.38 A103.95,103.95 0 0 1 129.65,655.91 L130.32,652.78 A100.75,100.75 0 0 0 132.58,653.24 Z" fill="#ffffff" stroke="#b0b0b0" stroke-width="0.25"/>
<path d="M129.22,655.81 A103.95,103.95 0 0 1 126.83,655.26 L127.60,652.15 A100.75,100.75 0 0 0 129.91,652.69 Z" fill="#ffffff" stroke="#b0b0b0" stroke-width="0.25"/>
<path d="M126.41,655.15 A103.95,103.95 0 0 1 124.69,654.71 L125.52,651.62 A100.75,100.75 0 0 0 127.19,652.05 Z" fill="#111" stroke="#b0b0b0" stroke-width="0.25"/>
<path d="M124.27,654.59 A103.95,103.95 0 0 1 122.42,654.07 L123.32,651.00 A100.75,100.75 0 0 0 125.11,651.51 Z" fill="#ffffff" stroke="#b0b0b0" stroke-width="0.25"/>
<path d="M122.00,653.95 A103.95,103.95 0 0 1 120.87,653.60 L121.81,650.55 A100.75,100.75 0 0 0 122.92,650.88 Z" fill="#ffffff" stroke="#b0b0b0" stroke-width="0.25"/>
<path d="M120.45,653.47 A103.95,103.95 0 0 1 119.52,653.18 L120.51,650.13 A100.75,100.75 0 0 0 121.41,650.42 Z" fill="#111" stroke="#b0b0b0" stroke-width="0.25"/>
<path d="M119.10,653.04 A103.95,103.95 0 0 1 118.36,652.79 L119.38,649.76 A100.75,100.75 0 0 0 120.10,650.00 Z" fill="#111" stroke="#b0b0b0" stroke-width="0.25"/>
<path d="M117.94,652.65 A103.95,103.95 0 0 1 116.39,652.11 L117.47,649.09 A100.75,100.75 0 0 0 118.98,649.62 Z" fill="#ffffff" stroke="#b0b0b0" stroke-width="0.25"/>
<path d="M115.98,651.96 A103.95,103.95 0 0 1 115.24,651.68 L116.36,648.69 A100.75,100.75 0 0 0 117.08,648.95 Z" fill="#ffffff" stroke="#b0b0b0" stroke-width="0.25"/>
<path d="M114.83,651.53 A103.95,103.95 0 0 1 113.32,650.95 L114.50,647.97 A100.75,100.75 0 0 0 115.96,648.54 Z" fill="#ffffff" stroke="#b0b0b0" stroke-width="0.25"/>
<path d="M112.92,650.78 A103.95,103.95 0 0 1 111.72,650.30 L112.95,647.34 A100.75,100.75 0 0 0 114.11,647.81 Z" fill="#ffffff" stroke="#b0b0b0" stroke-width="0.25"/>
<path d="M111.32,650.13 A103.95,103.95 0 0 1 110.86,649.93 L112.11,646.99 A100.75,100.75 0 0 0 112.56,647.18 Z" fill="#111" stroke="#b0b0b0" stroke-width="0.25"/>
<path d="M110.45,649.76 A103.95,103.95 0 0 1 109.25,649.23 L110.55,646.31 A100.75,100.75 0 0 0 111.72,646.82 Z" fill="#a0a0a0" stroke="#b0b0b0" stroke-width="0.25"/>
<path d="M108.85,649.05 A103.95,103.95 0 0 1 107.05,648.22 L108.43,645.33 A100.75,100.75 0 0 0 110.17,646.14 Z" fill="#a0a0a0" stroke="#b0b0b0" stroke-width="0.25"/>
<path d="M122.01,653.95 A103.95,103.95 0 0 1 121.25,653.72 L122.18,650.66 A100.75,100.75 0 0 0 122.92,650.88 Z" fill="#c84040"/>
<path d="M134.81,659.57 A106.6,106.6 0 0 1 105.51,650.42" fill="none" stroke="#444" stroke-width="0.45"/>
<path d="M134.81,659.57 L134.57,661.05 M132.66,659.20 L132.52,659.99 M130.52,658.80 L130.36,659.58 M128.39,658.34 L128.22,659.12 M126.27,657.85 L126.08,658.62 M124.16,657.31 L123.78,658.76 M122.07,656.73 L121.85,657.50 M119.98,656.10 L119.74,656.87 M117.91,655.44 L117.66,656.20 M115.85,654.73 L115.58,655.48 M113.81,653.98 L113.28,655.38 M111.78,653.18 L111.48,653.93 M109.77,652.35 L109.46,653.09 M107.78,651.48 L107.45,652.20 M105.80,650.56 L105.46,651.28 " stroke="#555" stroke-width="0.35"/>
<text x="134.02" y="662.08" font-size="2.0" fill="#777" text-anchor="middle" transform="rotate(189.3 134.02 662.08)">0M</text>
<text x="123.13" y="659.72" font-size="2.0" fill="#777" text-anchor="middle" transform="rotate(195.1 123.13 659.72)">50M</text>
<text x="112.53" y="656.27" font-size="2.0" fill="#777" text-anchor="middle" transform="rotate(201.0 112.53 656.27)">100M</text>
<text x="117.80" y="664.95" font-size="6.8" fill="#333" text-anchor="middle" transform="rotate(197.3 117.80 662.55)">9</text>
<path d="M104.87,647.55 A104.3,104.3 0 0 1 81.02,631.09 L83.66,628.22 A100.4,100.4 0 0 0 106.62,644.06 Z" fill="#ffffff" stroke="#222" stroke-width="0.6"/>
<path d="M104.83,647.14 A103.95,103.95 0 0 1 103.98,646.70 L105.45,643.86 A100.75,100.75 0 0 0 106.27,644.28 Z" fill="#111" stroke="#b0b0b0" stroke-width="0.25"/>
<path d="M103.60,646.50 A103.95,103.95 0 0 1 102.34,645.84 L103.85,643.02 A100.75,100.75 0 0 0 105.07,643.66 Z" fill="#ffffff" stroke="#b0b0b0" stroke-width="0.25"/>
<path d="M101.95,645.63 A103.95,103.95 0 0 1 100.95,645.08 L102.51,642.28 A100.75,100.75 0 0 0 103.48,642.82 Z" fill="#ffffff" stroke="#b0b0b0" stroke-width="0.25"/>
<path d="M100.57,644.86 A103.95,103.95 0 0 1 99.78,644.41 L101.37,641.64 A100.75,100.75 0 0 0 102.15,642.08 Z" fill="#ffffff" stroke="#b0b0b0" stroke-width="0.25"/>
<path d="M99.40,644.19 A103.95,103.95 0 0 1 97.56,643.10 L99.23,640.37 A100.75,100.75 0 0 0 101.01,641.43 Z" fill="#ffffff" stroke="#b0b0b0" stroke-width="0.25"/>
<path d="M97.19,642.87 A103.95,103.95 0 0 1 95.94,642.09 L97.65,639.39 A100.75,100.75 0 0 0 98.87,640.15 Z" fill="#ffffff" stroke="#b0b0b0" stroke-width="0.25"/>
<path d="M95.57,641.86 A103.95,103.95 0 0 1 94.17,640.94 L95.94,638.28 A100.75,100.75 0 0 0 97.30,639.16 Z" fill="#111" stroke="#b0b0b0" stroke-width="0.25"/>
<path d="M93.81,640.70 A103.95,103.95 0 0 1 93.30,640.36 L95.09,637.71 A100.75,100.75 0 0 0 95.59,638.04 Z" fill="#111" stroke="#b0b0b0" stroke-width="0.25"/>
<path d="M92.94,640.12 A103.95,103.95 0 0 1 92.01,639.47 L93.84,636.85 A100.75,100.75 0 0 0 94.75,637.48 Z" fill="#111" stroke="#b0b0b0" stroke-width="0.25"/>
<path d="M91.65,639.22 A103.95,103.95 0 0 1 90.22,638.19 L92.11,635.61 A100.75,100.75 0 0 0 93.50,636.61 Z" fill="#ffffff" stroke="#b0b0b0" stroke-width="0.25"/>
<path d="M89.87,637.93 A103.95,103.95 0 0 1 88.99,637.28 L90.92,634.73 A100.75,100.75 0 0 0 91.77,635.36 Z" fill="#ffffff" stroke="#b0b0b0" stroke-width="0.25"/>
<path d="M88.65,637.02 A103.95,103.95 0 0 1 86.80,635.58 L88.80,633.08 A100.75,100.75 0 0 0 90.59,634.47 Z" fill="#a0a0a0" stroke="#b0b0b0" stroke-width="0.25"/>
<path d="M86.46,635.31 A103.95,103.95 0 0 1 85.85,634.82 L87.88,632.34 A100.75,100.75 0 0 0 88.47,632.82 Z" fill="#a0a0a0" stroke="#b0b0b0" stroke-width="0.25"/>
<path d="M85.52,634.54 A103.95,103.95 0 0 1 84.66,633.83 L86.72,631.38 A100.75,100.75 0 0 0 87.55,632.07 Z" fill="#ffffff" stroke="#b0b0b0" stroke-width="0.25"/>
<path d="M84.33,633.54 A103.95,103.95 0 0 1 82.90,632.31 L85.02,629.91 A100.75,100.75 0 0 0 86.40,631.10 Z" fill="#ffffff" stroke="#b0b0b0" stroke-width="0.25"/>
<path d="M82.58,632.03 A103.95,103.95 0 0 1 81.98,631.49 L84.12,629.11 A100.75,100.75 0 0 0 84.70,629.63 Z" fill="#111" stroke="#b0b0b0" stroke-width="0.25"/>
<path d="M81.65,631.20 A103.95,103.95 0 0 1 81.42,630.98 L83.58,628.62 A100.75,100.75 0 0 0 83.81,628.83 Z" fill="#ffffff" stroke="#b0b0b0" stroke-width="0.25"/>
<path d="M94.59,641.22 A103.95,103.95 0 0 1 93.93,640.78 L95.70,638.12 A100.75,100.75 0 0 0 96.35,638.55 Z" fill="#c84040"/>
<path d="M103.84,649.60 A106.6,106.6 0 0 1 79.47,632.79" fill="none" stroke="#444" stroke-width="0.45"/>
<path d="M103.84,649.60 L103.17,650.94 M101.90,648.61 L101.53,649.31 M99.99,647.57 L99.60,648.27 M98.09,646.50 L97.69,647.19 M96.22,645.39 L95.81,646.07 M94.37,644.24 L93.57,645.50 M92.55,643.05 L92.11,643.72 M90.75,641.83 L90.29,642.48 M88.98,640.57 L88.51,641.21 M87.23,639.27 L86.74,639.91 M85.51,637.94 L84.58,639.11 M83.81,636.57 L83.30,637.19 M82.15,635.17 L81.62,635.78 M80.51,633.73 L79.98,634.33 " stroke="#555" stroke-width="0.35"/>
<text x="102.33" y="651.76" font-size="2.0" fill="#777" text-anchor="middle" transform="rotate(206.8 102.33 651.76)">0M</text>
<text x="92.66" y="646.23" font-size="2.0" fill="#777" text-anchor="middle" transform="rotate(212.7 92.66 646.23)">50M</text>
<text x="83.59" y="639.74" font-size="2.0" fill="#777" text-anchor="middle" transform="rotate(218.5 83.59 639.74)">100M</text>
<text x="87.20" y="650.04" font-size="6.8" fill="#333" text-anchor="middle" transform="rotate(214.6 87.20 647.64)">10</text>
<path d="M79.69,629.85 A104.3,104.3 0 0 1 61.79,607.34 L65.15,605.36 A100.4,100.4 0 0 0 82.38,627.03 Z" fill="#ffffff" stroke="#222" stroke-width="0.6"/>
<path d="M79.78,629.45 A103.95,103.95 0 0 1 79.21,628.90 L81.44,626.61 A100.75,100.75 0 0 0 81.99,627.13 Z" fill="#ffffff" stroke="#b0b0b0" stroke-width="0.25"/>
<path d="M78.90,628.60 A103.95,103.95 0 0 1 78.48,628.19 L80.73,625.91 A100.75,100.75 0 0 0 81.14,626.31 Z" fill="#ffffff" stroke="#b0b0b0" stroke-width="0.25"/>
<path d="M78.17,627.88 A103.95,103.95 0 0 1 77.37,627.07 L79.65,624.83 A100.75,100.75 0 0 0 80.43,625.61 Z" fill="#111" stroke="#b0b0b0" stroke-width="0.25"/>
<path d="M77.06,626.76 A103.95,103.95 0 0 1 75.72,625.34 L78.05,623.16 A100.75,100.75 0 0 0 79.36,624.53 Z" fill="#ffffff" stroke="#b0b0b0" stroke-width="0.25"/>
<path d="M75.42,625.03 A103.95,103.95 0 0 1 74.41,623.93 L76.79,621.78 A100.75,100.75 0 0 0 77.76,622.85 Z" fill="#111" stroke="#b0b0b0" stroke-width="0.25"/>
<path d="M74.12,623.60 A103.95,103.95 0 0 1 72.93,622.24 L75.35,620.15 A100.75,100.75 0 0 0 76.51,621.47 Z" fill="#ffffff" stroke="#b0b0b0" stroke-width="0.25"/>
<path d="M72.64,621.91 A103.95,103.95 0 0 1 71.49,620.54 L73.96,618.50 A100.75,100.75 0 0 0 75.08,619.83 Z" fill="#111" stroke="#b0b0b0" stroke-width="0.25"/>
<path d="M71.21,620.21 A103.95,103.95 0 0 1 69.79,618.43 L72.31,616.46 A100.75,100.75 0 0 0 73.69,618.18 Z" fill="#111" stroke="#b0b0b0" stroke-width="0.25"/>
<path d="M69.52,618.09 A103.95,103.95 0 0 1 68.97,617.36 L71.51,615.42 A100.75,100.75 0 0 0 72.05,616.13 Z" fill="#ffffff" stroke="#b0b0b0" stroke-width="0.25"/>
<path d="M68.70,617.02 A103.95,103.95 0 0 1 68.18,616.32 L70.75,614.41 A100.75,100.75 0 0 0 71.25,615.09 Z" fill="#111" stroke="#b0b0b0" stroke-width="0.25"/>
<path d="M67.92,615.97 A103.95,103.95 0 0 1 66.84,614.48 L69.45,612.63 A100.75,100.75 0 0 0 70.50,614.08 Z" fill="#ffffff" stroke="#b0b0b0" stroke-width="0.25"/>
<path d="M66.59,614.12 A103.95,103.95 0 0 1 65.94,613.19 L68.58,611.38 A100.75,100.75 0 0 0 69.21,612.28 Z" fill="#a0a0a0" stroke="#b0b0b0" stroke-width="0.25"/>
<path d="M65.69,612.83 A103.95,103.95 0 0 1 64.69,611.32 L67.36,609.57 A100.75,100.75 0 0 0 68.34,611.03 Z" fill="#a0a0a0" stroke="#b0b0b0" stroke-width="0.25"/>
<path d="M64.45,610.96 A103.95,103.95 0 0 1 63.76,609.89 L66.47,608.18 A100.75,100.75 0 0 0 67.13,609.22 Z" fill="#ffffff" stroke="#b0b0b0" stroke-width="0.25"/>
<path d="M63.53,609.52 A103.95,103.95 0 0 1 62.83,608.39 L65.56,606.72 A100.75,100.75 0 0 0 66.24,607.82 Z" fill="#111" stroke="#b0b0b0" stroke-width="0.25"/>
<path d="M62.60,608.02 A103.95,103.95 0 0 1 62.29,607.49 L65.04,605.85 A100.75,100.75 0 0 0 65.34,606.36 Z" fill="#ffffff" stroke="#b0b0b0" stroke-width="0.25"/>
<path d="M70.52,619.35 A103.95,103.95 0 0 1 70.02,618.73 L72.53,616.74 A100.75,100.75 0 0 0 73.02,617.35 Z" fill="#c84040"/>
<path d="M78.11,631.52 A106.6,106.6 0 0 1 59.81,608.51" fill="none" stroke="#444" stroke-width="0.45"/>
<path d="M78.11,631.52 L77.07,632.60 M76.55,630.00 L75.98,630.57 M75.02,628.45 L74.44,629.01 M73.52,626.87 L72.93,627.42 M72.05,625.26 L71.46,625.80 M70.62,623.62 L69.48,624.60 M69.22,621.96 L68.60,622.46 M67.86,620.26 L67.23,620.75 M66.53,618.54 L65.89,619.02 M65.23,616.79 L64.59,617.25 M63.98,615.01 L62.74,615.86 M62.75,613.21 L62.09,613.65 M61.57,611.38 L60.89,611.81 M60.42,609.53 L59.74,609.95 " stroke="#555" stroke-width="0.35"/>
<text x="76.04" y="633.14" font-size="2.0" fill="#777" text-anchor="middle" transform="rotate(223.8 76.04 633.14)">0M</text>
<text x="68.40" y="625.02" font-size="2.0" fill="#777" text-anchor="middle" transform="rotate(229.6 68.40 625.02)">50M</text>
<text x="61.62" y="616.18" font-size="2.0" fill="#777" text-anchor="middle" transform="rotate(235.5 61.62 616.18)">100M</text>
<text x="62.84" y="627.28" font-size="6.8" fill="#333" text-anchor="middle" transform="rotate(231.5 62.84 624.88)">11</text>
<path d="M60.88,605.76 A104.3,104.3 0 0 1 50.33,579.24 L54.11,578.31 A100.4,100.4 0 0 0 64.27,603.84 Z" fill="#ffffff" stroke="#222" stroke-width="0.6"/>
<path d="M61.08,605.40 A103.95,103.95 0 0 1 59.97,603.38 L62.79,601.87 A100.75,100.75 0 0 0 63.87,603.83 Z" fill="#111" stroke="#b0b0b0" stroke-width="0.25"/>
<path d="M59.76,603.00 A103.95,103.95 0 0 1 59.08,601.69 L61.93,600.23 A100.75,100.75 0 0 0 62.59,601.50 Z" fill="#ffffff" stroke="#b0b0b0" stroke-width="0.25"/>
<path d="M58.88,601.30 A103.95,103.95 0 0 1 58.50,600.53 L61.36,599.11 A100.75,100.75 0 0 0 61.74,599.85 Z" fill="#ffffff" stroke="#b0b0b0" stroke-width="0.25"/>
<path d="M58.30,600.14 A103.95,103.95 0 0 1 57.67,598.83 L60.56,597.46 A100.75,100.75 0 0 0 61.18,598.73 Z" fill="#ffffff" stroke="#b0b0b0" stroke-width="0.25"/>
<path d="M57.48,598.43 A103.95,103.95 0 0 1 57.04,597.48 L59.95,596.15 A100.75,100.75 0 0 0 60.38,597.08 Z" fill="#ffffff" stroke="#b0b0b0" stroke-width="0.25"/>
<path d="M56.86,597.08 A103.95,103.95 0 0 1 56.02,595.16 L58.96,593.90 A100.75,100.75 0 0 0 59.78,595.76 Z" fill="#ffffff" stroke="#b0b0b0" stroke-width="0.25"/>
<path d="M55.85,594.76 A103.95,103.95 0 0 1 55.56,594.06 L58.51,592.84 A100.75,100.75 0 0 0 58.79,593.51 Z" fill="#ffffff" stroke="#b0b0b0" stroke-width="0.25"/>
<path d="M55.39,593.66 A103.95,103.95 0 0 1 55.12,592.99 L58.09,591.80 A100.75,100.75 0 0 0 58.35,592.45 Z" fill="#ffffff" stroke="#b0b0b0" stroke-width="0.25"/>
<path d="M54.96,592.59 A103.95,103.95 0 0 1 54.29,590.85 L57.28,589.72 A100.75,100.75 0 0 0 57.93,591.41 Z" fill="#ffffff" stroke="#b0b0b0" stroke-width="0.25"/>
<path d="M54.13,590.44 A103.95,103.95 0 0 1 53.32,588.16 L56.34,587.12 A100.75,100.75 0 0 0 57.13,589.33 Z" fill="#111" stroke="#b0b0b0" stroke-width="0.25"/>
<path d="M53.18,587.75 A103.95,103.95 0 0 1 52.58,585.94 L55.63,584.97 A100.75,100.75 0 0 0 56.21,586.72 Z" fill="#ffffff" stroke="#b0b0b0" stroke-width="0.25"/>
<path d="M52.45,585.53 A103.95,103.95 0 0 1 52.24,584.86 L55.30,583.92 A100.75,100.75 0 0 0 55.50,584.57 Z" fill="#ffffff" stroke="#b0b0b0" stroke-width="0.25"/>
<path d="M52.12,584.45 A103.95,103.95 0 0 1 51.95,583.89 L55.02,582.98 A100.75,100.75 0 0 0 55.18,583.52 Z" fill="#ffffff" stroke="#b0b0b0" stroke-width="0.25"/>
<path d="M51.83,583.47 A103.95,103.95 0 0 1 51.31,581.63 L54.40,580.79 A100.75,100.75 0 0 0 54.90,582.58 Z" fill="#ffffff" stroke="#b0b0b0" stroke-width="0.25"/>
<path d="M51.19,581.21 A103.95,103.95 0 0 1 50.73,579.41 L53.83,578.64 A100.75,100.75 0 0 0 54.28,580.38 Z" fill="#ffffff" stroke="#b0b0b0" stroke-width="0.25"/>
<path d="M55.79,594.63 A103.95,103.95 0 0 1 55.48,593.89 L58.44,592.67 A100.75,100.75 0 0 0 58.74,593.38 Z" fill="#c84040"/>
<path d="M58.88,606.90 A106.6,106.6 0 0 1 48.09,579.79" fill="none" stroke="#444" stroke-width="0.45"/>
<path d="M58.88,606.90 L57.58,607.64 M57.83,605.00 L57.12,605.38 M56.81,603.07 L56.10,603.44 M55.83,601.12 L55.12,601.48 M54.90,599.16 L54.17,599.50 M54.00,597.18 L52.63,597.78 M53.15,595.17 L52.41,595.48 M52.33,593.15 L51.59,593.45 M51.56,591.12 L50.81,591.40 M50.83,589.07 L50.07,589.33 M50.14,587.00 L48.71,587.46 M49.49,584.93 L48.73,585.16 M48.89,582.83 L48.12,583.05 M48.33,580.73 L47.55,580.93 " stroke="#555" stroke-width="0.35"/>
<text x="56.43" y="607.85" font-size="2.0" fill="#777" text-anchor="middle" transform="rotate(240.6 56.43 607.85)">0M</text>
<text x="51.47" y="597.87" font-size="2.0" fill="#777" text-anchor="middle" transform="rotate(246.5 51.47 597.87)">50M</text>
<text x="47.55" y="587.44" font-size="2.0" fill="#777" text-anchor="middle" transform="rotate(252.3 47.55 587.44)">100M</text>
<text x="46.24" y="598.63" font-size="6.8" fill="#333" text-anchor="middle" transform="rotate(248.3 46.24 596.23)">12</text>
<path d="M49.91,577.47 A104.3,104.3 0 0 1 47.31,553.09 L51.21,553.13 A100.4,100.4 0 0 0 53.71,576.60 Z" fill="#ffffff" stroke="#222" stroke-width="0.6"/>
<path d="M50.20,577.18 A103.95,103.95 0 0 1 49.98,576.18 L53.11,575.50 A100.75,100.75 0 0 0 53.32,576.47 Z" fill="#ffffff" stroke="#b0b0b0" stroke-width="0.25"/>
<path d="M49.89,575.75 A103.95,103.95 0 0 1 49.62,574.43 L52.76,573.81 A100.75,100.75 0 0 0 53.02,575.09 Z" fill="#111" stroke="#b0b0b0" stroke-width="0.25"/>
<path d="M49.54,574.01 A103.95,103.95 0 0 1 49.41,573.36 L52.56,572.78 A100.75,100.75 0 0 0 52.68,573.40 Z" fill="#ffffff" stroke="#b0b0b0" stroke-width="0.25"/>
<path d="M49.33,572.94 A103.95,103.95 0 0 1 48.96,570.77 L52.12,570.26 A100.75,100.75 0 0 0 52.48,572.36 Z" fill="#ffffff" stroke="#b0b0b0" stroke-width="0.25"/>
<path d="M48.89,570.34 A103.95,103.95 0 0 1 48.78,569.57 L51.94,569.10 A100.75,100.75 0 0 0 52.06,569.85 Z" fill="#ffffff" stroke="#b0b0b0" stroke-width="0.25"/>
<path d="M48.71,569.14 A103.95,103.95 0 0 1 48.46,567.25 L51.63,566.85 A100.75,100.75 0 0 0 51.88,568.68 Z" fill="#111" stroke="#b0b0b0" stroke-width="0.25"/>
<path d="M48.41,566.82 A103.95,103.95 0 0 1 48.27,565.60 L51.45,565.25 A100.75,100.75 0 0 0 51.58,566.43 Z" fill="#ffffff" stroke="#b0b0b0" stroke-width="0.25"/>
<path d="M48.22,565.16 A103.95,103.95 0 0 1 48.17,564.69 L51.35,564.37 A100.75,100.75 0 0 0 51.40,564.83 Z" fill="#111" stroke="#b0b0b0" stroke-width="0.25"/>
<path d="M48.13,564.25 A103.95,103.95 0 0 1 48.02,563.08 L51.21,562.81 A100.75,100.75 0 0 0 51.31,563.95 Z" fill="#ffffff" stroke="#b0b0b0" stroke-width="0.25"/>
<path d="M47.99,562.65 A103.95,103.95 0 0 1 47.82,560.19 L51.01,560.01 A100.75,100.75 0 0 0 51.18,562.39 Z" fill="#a0a0a0" stroke="#b0b0b0" stroke-width="0.25"/>
<path d="M47.79,559.76 A103.95,103.95 0 0 1 47.70,557.47 L50.90,557.38 A100.75,100.75 0 0 0 50.99,559.59 Z" fill="#ffffff" stroke="#b0b0b0" stroke-width="0.25"/>
<path d="M47.69,557.04 A103.95,103.95 0 0 1 47.65,554.84 L50.85,554.82 A100.75,100.75 0 0 0 50.88,556.95 Z" fill="#ffffff" stroke="#b0b0b0" stroke-width="0.25"/>
<path d="M47.65,554.40 A103.95,103.95 0 0 1 47.65,553.31 L50.85,553.34 A100.75,100.75 0 0 0 50.85,554.40 Z" fill="#ffffff" stroke="#b0b0b0" stroke-width="0.25"/>
<path d="M48.31,565.97 A103.95,103.95 0 0 1 48.22,565.17 L51.40,564.84 A100.75,100.75 0 0 0 51.49,565.61 Z" fill="#c84040"/>
<path d="M47.66,577.98 A106.6,106.6 0 0 1 45.01,553.06" fill="none" stroke="#444" stroke-width="0.45"/>
<path d="M47.66,577.98 L46.20,578.31 M47.20,575.85 L46.42,576.01 M46.78,573.72 L46.00,573.86 M46.41,571.57 L45.62,571.70 M46.08,569.42 L45.29,569.53 M45.79,567.26 L44.30,567.45 M45.55,565.10 L44.75,565.18 M45.35,562.93 L44.55,563.00 M45.20,560.76 L44.40,560.81 M45.09,558.59 L44.29,558.62 M45.02,556.41 L43.52,556.44 M45.00,554.23 L44.20,554.23 " stroke="#555" stroke-width="0.35"/>
<text x="45.04" y="578.19" font-size="2.0" fill="#777" text-anchor="middle" transform="rotate(257.4 45.04 578.19)">0M</text>
<text x="43.16" y="567.20" font-size="2.0" fill="#777" text-anchor="middle" transform="rotate(263.2 43.16 567.20)">50M</text>
<text x="42.41" y="556.08" font-size="2.0" fill="#777" text-anchor="middle" transform="rotate(269.1 42.41 556.08)">100M</text>
<text x="38.84" y="568.72" font-size="6.8" fill="#333" text-anchor="middle" transform="rotate(263.9 38.84 566.32)">13</text>
<path d="M47.34,551.27 A104.3,104.3 0 0 1 50.50,528.66 L54.28,529.62 A100.4,100.4 0 0 0 51.24,551.38 Z" fill="#ffffff" stroke="#222" stroke-width="0.6"/>
<path d="M47.70,551.06 A103.95,103.95 0 0 1 47.76,549.46 L50.96,549.61 A100.75,100.75 0 0 0 50.90,551.16 Z" fill="#111" stroke="#b0b0b0" stroke-width="0.25"/>
<path d="M47.78,549.02 A103.95,103.95 0 0 1 47.87,547.52 L51.06,547.73 A100.75,100.75 0 0 0 50.98,549.19 Z" fill="#ffffff" stroke="#b0b0b0" stroke-width="0.25"/>
<path d="M47.90,547.09 A103.95,103.95 0 0 1 47.99,545.94 L51.18,546.20 A100.75,100.75 0 0 0 51.09,547.31 Z" fill="#ffffff" stroke="#b0b0b0" stroke-width="0.25"/>
<path d="M48.02,545.51 A103.95,103.95 0 0 1 48.16,544.03 L51.34,544.34 A100.75,100.75 0 0 0 51.21,545.78 Z" fill="#ffffff" stroke="#b0b0b0" stroke-width="0.25"/>
<path d="M48.20,543.59 A103.95,103.95 0 0 1 48.30,542.68 L51.48,543.04 A100.75,100.75 0 0 0 51.39,543.92 Z" fill="#a0a0a0" stroke="#b0b0b0" stroke-width="0.25"/>
<path d="M48.35,542.25 A103.95,103.95 0 0 1 48.53,540.79 L51.71,541.20 A100.75,100.75 0 0 0 51.53,542.62 Z" fill="#ffffff" stroke="#b0b0b0" stroke-width="0.25"/>
<path d="M48.59,540.35 A103.95,103.95 0 0 1 48.77,539.06 L51.94,539.53 A100.75,100.75 0 0 0 51.76,540.78 Z" fill="#ffffff" stroke="#b0b0b0" stroke-width="0.25"/>
<path d="M48.84,538.63 A103.95,103.95 0 0 1 48.97,537.80 L52.13,538.30 A100.75,100.75 0 0 0 52.00,539.11 Z" fill="#ffffff" stroke="#b0b0b0" stroke-width="0.25"/>
<path d="M49.04,537.37 A103.95,103.95 0 0 1 49.21,536.36 L52.36,536.91 A100.75,100.75 0 0 0 52.20,537.89 Z" fill="#ffffff" stroke="#b0b0b0" stroke-width="0.25"/>
<path d="M49.29,535.93 A103.95,103.95 0 0 1 49.63,534.09 L52.77,534.71 A100.75,100.75 0 0 0 52.44,536.50 Z" fill="#ffffff" stroke="#b0b0b0" stroke-width="0.25"/>
<path d="M49.72,533.66 A103.95,103.95 0 0 1 50.03,532.19 L53.16,532.87 A100.75,100.75 0 0 0 52.86,534.30 Z" fill="#a0a0a0" stroke="#b0b0b0" stroke-width="0.25"/>
<path d="M50.12,531.76 A103.95,103.95 0 0 1 50.65,529.50 L53.76,530.27 A100.75,100.75 0 0 0 53.25,532.46 Z" fill="#ffffff" stroke="#b0b0b0" stroke-width="0.25"/>
<path d="M50.76,529.08 A103.95,103.95 0 0 1 50.79,528.96 L53.89,529.74 A100.75,100.75 0 0 0 53.86,529.86 Z" fill="#a0a0a0" stroke="#b0b0b0" stroke-width="0.25"/>
<path d="M48.26,543.03 A103.95,103.95 0 0 1 48.35,542.23 L51.53,542.61 A100.75,100.75 0 0 0 51.44,543.37 Z" fill="#c84040"/>
<path d="M45.05,551.20 A106.6,106.6 0 0 1 48.27,528.10" fill="none" stroke="#444" stroke-width="0.45"/>
<path d="M45.05,551.20 L43.55,551.16 M45.13,549.02 L44.33,548.98 M45.26,546.85 L44.46,546.80 M45.43,544.68 L44.64,544.61 M45.65,542.52 L44.86,542.43 M45.92,540.36 L44.43,540.16 M46.22,538.20 L45.43,538.08 M46.57,536.05 L45.79,535.91 M46.97,533.91 L46.18,533.76 M47.41,531.78 L46.62,531.61 M47.89,529.66 L46.43,529.31 " stroke="#555" stroke-width="0.35"/>
<text x="42.46" y="550.74" font-size="2.0" fill="#777" text-anchor="middle" transform="rotate(271.9 42.46 550.74)">0M</text>
<text x="43.39" y="539.64" font-size="2.0" fill="#777" text-anchor="middle" transform="rotate(277.7 43.39 539.64)">50M</text>
<text x="45.45" y="528.68" font-size="2.0" fill="#777" text-anchor="middle" transform="rotate(283.6 45.45 528.68)">100M</text>
<text x="39.29" y="541.02" font-size="6.8" fill="#333" text-anchor="middle" transform="rotate(277.9 39.29 538.62)">14</text>
<path d="M50.96,526.90 A104.3,104.3 0 0 1 58.93,506.43 L62.40,508.22 A100.4,100.4 0 0 0 54.73,527.93 Z" fill="#ffffff" stroke="#222" stroke-width="0.6"/>
<path d="M51.36,526.79 A103.95,103.95 0 0 1 51.87,524.97 L54.94,525.87 A100.75,100.75 0 0 0 54.44,527.63 Z" fill="#ffffff" stroke="#b0b0b0" stroke-width="0.25"/>
<path d="M52.00,524.55 A103.95,103.95 0 0 1 52.42,523.18 L55.47,524.14 A100.75,100.75 0 0 0 55.06,525.47 Z" fill="#ffffff" stroke="#b0b0b0" stroke-width="0.25"/>
<path d="M52.55,522.77 A103.95,103.95 0 0 1 52.82,521.91 L55.86,522.91 A100.75,100.75 0 0 0 55.60,523.74 Z" fill="#ffffff" stroke="#b0b0b0" stroke-width="0.25"/>
<path d="M52.96,521.50 A103.95,103.95 0 0 1 53.34,520.38 L56.37,521.42 A100.75,100.75 0 0 0 56.00,522.51 Z" fill="#a0a0a0" stroke="#b0b0b0" stroke-width="0.25"/>
<path d="M53.48,519.97 A103.95,103.95 0 0 1 53.88,518.85 L56.89,519.94 A100.75,100.75 0 0 0 56.50,521.02 Z" fill="#ffffff" stroke="#b0b0b0" stroke-width="0.25"/>
<path d="M54.03,518.44 A103.95,103.95 0 0 1 54.72,516.63 L57.70,517.79 A100.75,100.75 0 0 0 57.04,519.54 Z" fill="#111" stroke="#b0b0b0" stroke-width="0.25"/>
<path d="M54.88,516.22 A103.95,103.95 0 0 1 55.22,515.35 L58.19,516.55 A100.75,100.75 0 0 0 57.85,517.39 Z" fill="#ffffff" stroke="#b0b0b0" stroke-width="0.25"/>
<path d="M55.39,514.95 A103.95,103.95 0 0 1 56.07,513.31 L59.02,514.57 A100.75,100.75 0 0 0 58.35,516.16 Z" fill="#ffffff" stroke="#b0b0b0" stroke-width="0.25"/>
<path d="M56.25,512.91 A103.95,103.95 0 0 1 56.95,511.32 L59.87,512.64 A100.75,100.75 0 0 0 59.18,514.18 Z" fill="#ffffff" stroke="#b0b0b0" stroke-width="0.25"/>
<path d="M57.13,510.92 A103.95,103.95 0 0 1 57.56,510.00 L60.46,511.36 A100.75,100.75 0 0 0 60.04,512.26 Z" fill="#111" stroke="#b0b0b0" stroke-width="0.25"/>
<path d="M57.75,509.61 A103.95,103.95 0 0 1 58.27,508.53 L61.14,509.94 A100.75,100.75 0 0 0 60.64,510.98 Z" fill="#111" stroke="#b0b0b0" stroke-width="0.25"/>
<path d="M58.46,508.14 A103.95,103.95 0 0 1 59.15,506.78 L61.99,508.25 A100.75,100.75 0 0 0 61.33,509.56 Z" fill="#ffffff" stroke="#b0b0b0" stroke-width="0.25"/>
<path d="M54.08,518.31 A103.95,103.95 0 0 1 54.36,517.56 L57.35,518.69 A100.75,100.75 0 0 0 57.08,519.42 Z" fill="#c84040"/>
<path d="M48.74,526.30 A106.6,106.6 0 0 1 56.89,505.37" fill="none" stroke="#444" stroke-width="0.45"/>
<path d="M48.74,526.30 L47.30,525.91 M49.34,524.20 L48.57,523.98 M49.97,522.12 L49.21,521.88 M50.65,520.05 L49.89,519.80 M51.37,518.00 L50.62,517.73 M52.13,515.96 L50.73,515.42 M52.94,513.94 L52.20,513.64 M53.78,511.93 L53.05,511.61 M54.67,509.94 L53.94,509.61 M55.59,507.97 L54.87,507.63 M56.56,506.02 L55.22,505.34 " stroke="#555" stroke-width="0.35"/>
<text x="46.34" y="525.25" font-size="2.0" fill="#777" text-anchor="middle" transform="rotate(285.4 46.34 525.25)">0M</text>
<text x="49.84" y="514.67" font-size="2.0" fill="#777" text-anchor="middle" transform="rotate(291.3 49.84 514.67)">50M</text>
<text x="45.93" y="515.55" font-size="6.8" fill="#333" text-anchor="middle" transform="rotate(291.3 45.93 513.15)">15</text>
<path d="M59.78,504.82 A104.3,104.3 0 0 1 70.41,488.82 L73.45,491.27 A100.4,100.4 0 0 0 63.22,506.67 Z" fill="#ffffff" stroke="#222" stroke-width="0.6"/>
<path d="M60.20,504.79 A103.95,103.95 0 0 1 61.36,502.70 L64.14,504.28 A100.75,100.75 0 0 0 63.01,506.32 Z" fill="#ffffff" stroke="#b0b0b0" stroke-width="0.25"/>
<path d="M61.58,502.32 A103.95,103.95 0 0 1 62.05,501.52 L64.81,503.14 A100.75,100.75 0 0 0 64.35,503.92 Z" fill="#ffffff" stroke="#b0b0b0" stroke-width="0.25"/>
<path d="M62.27,501.14 A103.95,103.95 0 0 1 62.62,500.55 L65.36,502.21 A100.75,100.75 0 0 0 65.02,502.78 Z" fill="#ffffff" stroke="#b0b0b0" stroke-width="0.25"/>
<path d="M62.85,500.18 A103.95,103.95 0 0 1 63.88,498.53 L66.58,500.25 A100.75,100.75 0 0 0 65.58,501.84 Z" fill="#ffffff" stroke="#b0b0b0" stroke-width="0.25"/>
<path d="M64.11,498.16 A103.95,103.95 0 0 1 64.77,497.15 L67.44,498.91 A100.75,100.75 0 0 0 66.81,499.89 Z" fill="#a0a0a0" stroke="#b0b0b0" stroke-width="0.25"/>
<path d="M65.01,496.79 A103.95,103.95 0 0 1 65.82,495.59 L68.46,497.40 A100.75,100.75 0 0 0 67.68,498.56 Z" fill="#ffffff" stroke="#b0b0b0" stroke-width="0.25"/>
<path d="M66.06,495.23 A103.95,103.95 0 0 1 67.37,493.39 L69.96,495.26 A100.75,100.75 0 0 0 68.70,497.05 Z" fill="#ffffff" stroke="#b0b0b0" stroke-width="0.25"/>
<path d="M67.62,493.03 A103.95,103.95 0 0 1 68.94,491.27 L71.49,493.21 A100.75,100.75 0 0 0 70.21,494.92 Z" fill="#ffffff" stroke="#b0b0b0" stroke-width="0.25"/>
<path d="M69.21,490.92 A103.95,103.95 0 0 1 70.01,489.89 L72.52,491.87 A100.75,100.75 0 0 0 71.74,492.87 Z" fill="#a0a0a0" stroke="#b0b0b0" stroke-width="0.25"/>
<path d="M70.28,489.54 A103.95,103.95 0 0 1 70.55,489.21 L73.05,491.21 A100.75,100.75 0 0 0 72.79,491.54 Z" fill="#111" stroke="#b0b0b0" stroke-width="0.25"/>
<path d="M63.07,499.82 A103.95,103.95 0 0 1 63.49,499.15 L66.20,500.84 A100.75,100.75 0 0 0 65.79,501.50 Z" fill="#c84040"/>
<path d="M57.76,503.73 A106.6,106.6 0 0 1 68.62,487.38" fill="none" stroke="#444" stroke-width="0.45"/>
<path d="M57.76,503.73 L56.44,503.02 M58.81,501.82 L58.12,501.43 M59.90,499.94 L59.21,499.53 M61.03,498.08 L60.35,497.66 M62.20,496.24 L61.53,495.80 M63.40,494.43 L62.16,493.58 M64.64,492.64 L63.99,492.18 M65.92,490.88 L65.28,490.40 M67.23,489.14 L66.60,488.65 M68.58,487.43 L67.96,486.93 " stroke="#555" stroke-width="0.35"/>
<text x="55.65" y="502.16" font-size="2.0" fill="#777" text-anchor="middle" transform="rotate(298.5 55.65 502.16)">0M</text>
<text x="61.47" y="492.65" font-size="2.0" fill="#777" text-anchor="middle" transform="rotate(304.4 61.47 492.65)">50M</text>
<text x="57.15" y="493.94" font-size="6.8" fill="#333" text-anchor="middle" transform="rotate(303.6 57.15 491.54)">16</text>
<path d="M71.57,487.41 A104.3,104.3 0 0 1 83.72,475.11 L86.26,478.07 A100.4,100.4 0 0 0 74.56,489.92 Z" fill="#ffffff" stroke="#222" stroke-width="0.6"/>
<path d="M71.98,487.47 A103.95,103.95 0 0 1 72.65,486.68 L75.08,488.77 A100.75,100.75 0 0 0 74.43,489.53 Z" fill="#ffffff" stroke="#b0b0b0" stroke-width="0.25"/>
<path d="M72.93,486.35 A103.95,103.95 0 0 1 74.37,484.72 L76.75,486.87 A100.75,100.75 0 0 0 75.35,488.45 Z" fill="#ffffff" stroke="#b0b0b0" stroke-width="0.25"/>
<path d="M74.66,484.40 A103.95,103.95 0 0 1 76.14,482.81 L78.46,485.01 A100.75,100.75 0 0 0 77.03,486.55 Z" fill="#ffffff" stroke="#b0b0b0" stroke-width="0.25"/>
<path d="M76.44,482.49 A103.95,103.95 0 0 1 77.36,481.54 L79.64,483.78 A100.75,100.75 0 0 0 78.75,484.70 Z" fill="#111" stroke="#b0b0b0" stroke-width="0.25"/>
<path d="M77.66,481.23 A103.95,103.95 0 0 1 79.09,479.81 L81.32,482.11 A100.75,100.75 0 0 0 79.94,483.48 Z" fill="#ffffff" stroke="#b0b0b0" stroke-width="0.25"/>
<path d="M79.40,479.51 A103.95,103.95 0 0 1 79.92,479.02 L82.12,481.34 A100.75,100.75 0 0 0 81.63,481.81 Z" fill="#ffffff" stroke="#b0b0b0" stroke-width="0.25"/>
<path d="M80.23,478.72 A103.95,103.95 0 0 1 81.22,477.80 L83.39,480.16 A100.75,100.75 0 0 0 82.43,481.05 Z" fill="#ffffff" stroke="#b0b0b0" stroke-width="0.25"/>
<path d="M81.54,477.51 A103.95,103.95 0 0 1 82.78,476.40 L84.89,478.80 A100.75,100.75 0 0 0 83.70,479.87 Z" fill="#a0a0a0" stroke="#b0b0b0" stroke-width="0.25"/>
<path d="M83.10,476.11 A103.95,103.95 0 0 1 83.49,475.77 L85.59,478.19 A100.75,100.75 0 0 0 85.21,478.52 Z" fill="#ffffff" stroke="#b0b0b0" stroke-width="0.25"/>
<path d="M83.82,475.49 A103.95,103.95 0 0 1 83.78,475.52 L85.87,477.94 A100.75,100.75 0 0 0 85.91,477.91 Z" fill="#111" stroke="#b0b0b0" stroke-width="0.25"/>
<path d="M75.86,483.11 A103.95,103.95 0 0 1 76.41,482.53 L78.72,484.74 A100.75,100.75 0 0 0 78.19,485.30 Z" fill="#c84040"/>
<path d="M69.81,485.94 A106.6,106.6 0 0 1 82.22,473.37" fill="none" stroke="#444" stroke-width="0.45"/>
<path d="M69.81,485.94 L68.65,484.98 M71.22,484.28 L70.61,483.76 M72.66,482.66 L72.07,482.12 M74.14,481.06 L73.56,480.51 M75.66,479.49 L75.09,478.93 M77.20,477.96 L76.15,476.88 M78.77,476.46 L78.23,475.87 M80.38,474.98 L79.84,474.39 M82.01,473.55 L81.49,472.94 " stroke="#555" stroke-width="0.35"/>
<text x="68.05" y="483.98" font-size="2.0" fill="#777" text-anchor="middle" transform="rotate(310.1 68.05 483.98)">0M</text>
<text x="75.66" y="475.83" font-size="2.0" fill="#777" text-anchor="middle" transform="rotate(315.9 75.66 475.83)">50M</text>
<text x="70.91" y="477.02" font-size="6.8" fill="#333" text-anchor="middle" transform="rotate(314.6 70.91 474.62)">17</text>
<path d="M85.11,473.94 A104.3,104.3 0 0 1 98.75,464.38 L100.72,467.74 A100.4,100.4 0 0 0 87.60,476.94 Z" fill="#ffffff" stroke="#222" stroke-width="0.6"/>
<path d="M85.50,474.07 A103.95,103.95 0 0 1 87.05,472.82 L89.04,475.33 A100.75,100.75 0 0 0 87.54,476.54 Z" fill="#ffffff" stroke="#b0b0b0" stroke-width="0.25"/>
<path d="M87.39,472.55 A103.95,103.95 0 0 1 88.84,471.43 L90.77,473.98 A100.75,100.75 0 0 0 89.37,475.07 Z" fill="#ffffff" stroke="#b0b0b0" stroke-width="0.25"/>
<path d="M89.19,471.17 A103.95,103.95 0 0 1 89.87,470.66 L91.77,473.24 A100.75,100.75 0 0 0 91.11,473.73 Z" fill="#111" stroke="#b0b0b0" stroke-width="0.25"/>
<path d="M90.22,470.41 A103.95,103.95 0 0 1 91.70,469.35 L93.54,471.96 A100.75,100.75 0 0 0 92.11,472.99 Z" fill="#ffffff" stroke="#b0b0b0" stroke-width="0.25"/>
<path d="M92.05,469.10 A103.95,103.95 0 0 1 92.92,468.49 L94.73,471.14 A100.75,100.75 0 0 0 93.89,471.72 Z" fill="#111" stroke="#b0b0b0" stroke-width="0.25"/>
<path d="M93.28,468.25 A103.95,103.95 0 0 1 95.10,467.05 L96.84,469.73 A100.75,100.75 0 0 0 95.08,470.90 Z" fill="#ffffff" stroke="#b0b0b0" stroke-width="0.25"/>
<path d="M95.46,466.81 A103.95,103.95 0 0 1 96.26,466.31 L97.96,469.02 A100.75,100.75 0 0 0 97.19,469.50 Z" fill="#ffffff" stroke="#b0b0b0" stroke-width="0.25"/>
<path d="M96.62,466.08 A103.95,103.95 0 0 1 98.01,465.23 L99.66,467.97 A100.75,100.75 0 0 0 98.32,468.79 Z" fill="#ffffff" stroke="#b0b0b0" stroke-width="0.25"/>
<path d="M98.38,465.01 A103.95,103.95 0 0 1 98.74,464.79 L100.37,467.55 A100.75,100.75 0 0 0 100.02,467.76 Z" fill="#ffffff" stroke="#b0b0b0" stroke-width="0.25"/>
<path d="M90.65,470.09 A103.95,103.95 0 0 1 91.30,469.63 L93.16,472.23 A100.75,100.75 0 0 0 92.53,472.68 Z" fill="#c84040"/>
<path d="M83.65,472.17 A106.6,106.6 0 0 1 97.58,462.40" fill="none" stroke="#444" stroke-width="0.45"/>
<path d="M83.65,472.17 L82.69,471.01 M85.34,470.80 L84.84,470.17 M87.06,469.46 L86.57,468.82 M88.80,468.16 L88.33,467.51 M90.57,466.90 L90.12,466.24 M92.37,465.67 L91.54,464.42 M94.19,464.48 L93.76,463.80 M96.04,463.32 L95.62,462.64 " stroke="#555" stroke-width="0.35"/>
<text x="82.28" y="469.92" font-size="2.0" fill="#777" text-anchor="middle" transform="rotate(320.6 82.28 469.92)">0M</text>
<text x="91.24" y="463.30" font-size="2.0" fill="#777" text-anchor="middle" transform="rotate(326.4 91.24 463.30)">50M</text>
<text x="86.52" y="463.84" font-size="6.8" fill="#333" text-anchor="middle" transform="rotate(325.0 86.52 461.44)">18</text>
<path d="M100.33,463.47 A104.3,104.3 0 0 1 111.65,457.95 L113.15,461.56 A100.4,100.4 0 0 0 102.24,466.87 Z" fill="#ffffff" stroke="#222" stroke-width="0.6"/>
<path d="M100.69,463.67 A103.95,103.95 0 0 1 102.15,462.86 L103.68,465.68 A100.75,100.75 0 0 0 102.26,466.46 Z" fill="#ffffff" stroke="#b0b0b0" stroke-width="0.25"/>
<path d="M102.54,462.66 A103.95,103.95 0 0 1 103.17,462.32 L104.66,465.15 A100.75,100.75 0 0 0 104.05,465.48 Z" fill="#111" stroke="#b0b0b0" stroke-width="0.25"/>
<path d="M103.55,462.12 A103.95,103.95 0 0 1 104.53,461.62 L105.98,464.47 A100.75,100.75 0 0 0 105.03,464.96 Z" fill="#ffffff" stroke="#b0b0b0" stroke-width="0.25"/>
<path d="M104.91,461.42 A103.95,103.95 0 0 1 105.99,460.89 L107.39,463.77 A100.75,100.75 0 0 0 106.35,464.28 Z" fill="#ffffff" stroke="#b0b0b0" stroke-width="0.25"/>
<path d="M106.38,460.70 A103.95,103.95 0 0 1 107.01,460.40 L108.39,463.29 A100.75,100.75 0 0 0 107.77,463.58 Z" fill="#ffffff" stroke="#b0b0b0" stroke-width="0.25"/>
<path d="M107.41,460.21 A103.95,103.95 0 0 1 108.27,459.81 L109.60,462.72 A100.75,100.75 0 0 0 108.77,463.11 Z" fill="#ffffff" stroke="#b0b0b0" stroke-width="0.25"/>
<path d="M108.67,459.63 A103.95,103.95 0 0 1 109.54,459.24 L110.83,462.17 A100.75,100.75 0 0 0 109.99,462.55 Z" fill="#ffffff" stroke="#b0b0b0" stroke-width="0.25"/>
<path d="M109.94,459.06 A103.95,103.95 0 0 1 111.06,458.58 L112.31,461.53 A100.75,100.75 0 0 0 111.22,462.00 Z" fill="#111" stroke="#b0b0b0" stroke-width="0.25"/>
<path d="M111.46,458.41 A103.95,103.95 0 0 1 111.59,458.36 L112.82,461.31 A100.75,100.75 0 0 0 112.70,461.36 Z" fill="#ffffff" stroke="#b0b0b0" stroke-width="0.25"/>
<path d="M104.06,461.86 A103.95,103.95 0 0 1 104.77,461.50 L106.21,464.35 A100.75,100.75 0 0 0 105.52,464.70 Z" fill="#c84040"/>
<path d="M99.20,461.47 A106.6,106.6 0 0 1 110.77,455.83" fill="none" stroke="#444" stroke-width="0.45"/>
<path d="M99.20,461.47 L98.46,460.16 M101.10,460.42 L100.72,459.72 M103.03,459.41 L102.66,458.70 M104.98,458.44 L104.63,457.72 M106.94,457.50 L106.61,456.78 M108.93,456.61 L108.33,455.24 " stroke="#555" stroke-width="0.35"/>
<text x="98.25" y="459.02" font-size="2.0" fill="#777" text-anchor="middle" transform="rotate(330.8 98.25 459.02)">0M</text>
<text x="108.24" y="454.08" font-size="2.0" fill="#777" text-anchor="middle" transform="rotate(336.6 108.24 454.08)">50M</text>
<text x="101.92" y="454.76" font-size="6.8" fill="#333" text-anchor="middle" transform="rotate(334.0 101.92 452.36)">19</text>
<path d="M113.34,457.27 A104.3,104.3 0 0 1 126.15,453.15 L127.10,456.93 A100.4,100.4 0 0 0 114.77,460.90 Z" fill="#ffffff" stroke="#222" stroke-width="0.6"/>
<path d="M113.67,457.52 A103.95,103.95 0 0 1 115.56,456.80 L116.67,459.80 A100.75,100.75 0 0 0 114.84,460.50 Z" fill="#ffffff" stroke="#b0b0b0" stroke-width="0.25"/>
<path d="M115.97,456.65 A103.95,103.95 0 0 1 118.27,455.84 L119.30,458.87 A100.75,100.75 0 0 0 117.07,459.65 Z" fill="#111" stroke="#b0b0b0" stroke-width="0.25"/>
<path d="M118.69,455.70 A103.95,103.95 0 0 1 119.86,455.32 L120.83,458.36 A100.75,100.75 0 0 0 119.70,458.73 Z" fill="#a0a0a0" stroke="#b0b0b0" stroke-width="0.25"/>
<path d="M120.27,455.18 A103.95,103.95 0 0 1 121.91,454.68 L122.83,457.75 A100.75,100.75 0 0 0 121.23,458.23 Z" fill="#ffffff" stroke="#b0b0b0" stroke-width="0.25"/>
<path d="M122.33,454.56 A103.95,103.95 0 0 1 124.40,453.97 L125.24,457.06 A100.75,100.75 0 0 0 123.23,457.63 Z" fill="#ffffff" stroke="#b0b0b0" stroke-width="0.25"/>
<path d="M124.82,453.86 A103.95,103.95 0 0 1 126.03,453.55 L126.81,456.65 A100.75,100.75 0 0 0 125.65,456.95 Z" fill="#ffffff" stroke="#b0b0b0" stroke-width="0.25"/>
<path d="M117.13,456.23 A103.95,103.95 0 0 1 117.89,455.97 L118.92,459.00 A100.75,100.75 0 0 0 118.19,459.25 Z" fill="#c84040"/>
<path d="M112.50,455.13 A106.6,106.6 0 0 1 125.59,450.92" fill="none" stroke="#444" stroke-width="0.45"/>
<path d="M112.50,455.13 L111.95,453.74 M114.53,454.35 L114.25,453.60 M116.58,453.62 L116.32,452.86 M118.64,452.92 L118.40,452.16 M120.72,452.27 L120.49,451.51 M122.81,451.66 L122.40,450.22 M124.91,451.10 L124.71,450.32 " stroke="#555" stroke-width="0.35"/>
<text x="111.90" y="452.57" font-size="2.0" fill="#777" text-anchor="middle" transform="rotate(338.7 111.90 452.57)">0M</text>
<text x="122.47" y="449.06" font-size="2.0" fill="#777" text-anchor="middle" transform="rotate(344.5 122.47 449.06)">50M</text>
<text x="116.89" y="448.74" font-size="6.8" fill="#333" text-anchor="middle" transform="rotate(342.2 116.89 446.34)">20</text>
<path d="M127.92,452.72 A104.3,104.3 0 0 1 138.01,450.89 L138.52,454.76 A100.4,100.4 0 0 0 128.81,456.52 Z" fill="#ffffff" stroke="#222" stroke-width="0.6"/>
<path d="M128.21,453.02 A103.95,103.95 0 0 1 129.18,452.80 L129.87,455.92 A100.75,100.75 0 0 0 128.93,456.13 Z" fill="#ffffff" stroke="#b0b0b0" stroke-width="0.25"/>
<path d="M129.60,452.70 A103.95,103.95 0 0 1 130.92,452.43 L131.56,455.56 A100.75,100.75 0 0 0 130.28,455.83 Z" fill="#ffffff" stroke="#b0b0b0" stroke-width="0.25"/>
<path d="M131.35,452.34 A103.95,103.95 0 0 1 131.99,452.22 L132.60,455.36 A100.75,100.75 0 0 0 131.98,455.48 Z" fill="#ffffff" stroke="#b0b0b0" stroke-width="0.25"/>
<path d="M132.42,452.13 A103.95,103.95 0 0 1 133.30,451.97 L133.87,455.12 A100.75,100.75 0 0 0 133.01,455.28 Z" fill="#111" stroke="#b0b0b0" stroke-width="0.25"/>
<path d="M133.73,451.90 A103.95,103.95 0 0 1 134.38,451.79 L134.91,454.94 A100.75,100.75 0 0 0 134.28,455.05 Z" fill="#111" stroke="#b0b0b0" stroke-width="0.25"/>
<path d="M134.81,451.72 A103.95,103.95 0 0 1 136.00,451.53 L136.48,454.69 A100.75,100.75 0 0 0 135.33,454.87 Z" fill="#ffffff" stroke="#b0b0b0" stroke-width="0.25"/>
<path d="M136.43,451.46 A103.95,103.95 0 0 1 137.84,451.26 L138.26,454.44 A100.75,100.75 0 0 0 136.90,454.63 Z" fill="#a0a0a0" stroke="#b0b0b0" stroke-width="0.25"/>
<path d="M132.01,452.21 A103.95,103.95 0 0 1 132.80,452.06 L133.38,455.21 A100.75,100.75 0 0 0 132.62,455.35 Z" fill="#c84040"/>
<path d="M127.40,450.48 A106.6,106.6 0 0 1 137.71,448.61" fill="none" stroke="#444" stroke-width="0.45"/>
<path d="M127.40,450.48 L127.06,449.02 M129.52,450.01 L129.36,449.23 M131.66,449.58 L131.51,448.80 M133.80,449.20 L133.67,448.41 M135.95,448.86 L135.83,448.06 " stroke="#555" stroke-width="0.35"/>
<text x="127.18" y="447.87" font-size="2.0" fill="#777" text-anchor="middle" transform="rotate(347.1 127.18 447.87)">0M</text>
<text x="131.31" y="445.13" font-size="6.8" fill="#333" text-anchor="middle" transform="rotate(349.7 131.31 442.73)">21</text>
<path d="M139.82,450.67 A104.3,104.3 0 0 1 150.69,450.00 L150.72,453.90 A100.4,100.4 0 0 0 140.26,454.54 Z" fill="#ffffff" stroke="#222" stroke-width="0.6"/>
<path d="M140.07,450.99 A103.95,103.95 0 0 1 141.56,450.84 L141.87,454.02 A100.75,100.75 0 0 0 140.43,454.17 Z" fill="#ffffff" stroke="#b0b0b0" stroke-width="0.25"/>
<path d="M142.00,450.79 A103.95,103.95 0 0 1 142.80,450.72 L143.08,453.91 A100.75,100.75 0 0 0 142.29,453.98 Z" fill="#ffffff" stroke="#b0b0b0" stroke-width="0.25"/>
<path d="M143.24,450.69 A103.95,103.95 0 0 1 144.69,450.58 L144.90,453.77 A100.75,100.75 0 0 0 143.50,453.88 Z" fill="#ffffff" stroke="#b0b0b0" stroke-width="0.25"/>
<path d="M145.13,450.55 A103.95,103.95 0 0 1 147.31,450.44 L147.45,453.64 A100.75,100.75 0 0 0 145.33,453.75 Z" fill="#111" stroke="#b0b0b0" stroke-width="0.25"/>
<path d="M147.75,450.42 A103.95,103.95 0 0 1 149.97,450.36 L150.02,453.56 A100.75,100.75 0 0 0 147.87,453.62 Z" fill="#ffffff" stroke="#b0b0b0" stroke-width="0.25"/>
<path d="M150.41,450.36 A103.95,103.95 0 0 1 150.48,450.36 L150.51,453.56 A100.75,100.75 0 0 0 150.44,453.56 Z" fill="#ffffff" stroke="#b0b0b0" stroke-width="0.25"/>
<path d="M143.92,450.63 A103.95,103.95 0 0 1 144.72,450.58 L144.93,453.77 A100.75,100.75 0 0 0 144.16,453.83 Z" fill="#c84040"/>
<path d="M139.56,448.38 A106.6,106.6 0 0 1 150.67,447.70" fill="none" stroke="#444" stroke-width="0.45"/>
<path d="M139.56,448.38 L139.39,446.89 M141.72,448.16 L141.65,447.36 M143.89,447.98 L143.83,447.18 M146.06,447.84 L146.02,447.04 M148.24,447.75 L148.21,446.95 M150.41,447.71 L150.40,446.21 " stroke="#555" stroke-width="0.35"/>
<text x="139.64" y="445.76" font-size="2.0" fill="#777" text-anchor="middle" transform="rotate(353.7 139.64 445.76)">0M</text>
<text x="144.69" y="443.51" font-size="6.8" fill="#333" text-anchor="middle" transform="rotate(356.5 144.69 441.11)">22</text>
<rect x="127.9" y="571.8" width="15.3" height="4.9" fill="#8f87c9"/>
<rect x="144.8" y="521.2" width="15.4" height="55.5" fill="#f3b40c"/>
<rect x="161.9" y="575.3" width="15.6" height="1.4" fill="#d81b7c"/>
<rect x="127.1" y="577.9" width="51.9" height="1.6" fill="#4e4262"/>
<text x="136.60" y="547.70" font-size="6.8" text-anchor="middle" fill="#333" textLength="19.20" lengthAdjust="spacingAndGlyphs" transform="rotate(-90 136.60 547.70)" >10944</text>
<text x="154.50" y="548.30" font-size="6.8" text-anchor="middle" fill="#3a2a00" textLength="24.00" lengthAdjust="spacingAndGlyphs" transform="rotate(-90 154.50 548.30)" >834099</text>
<text x="173.30" y="547.70" font-size="6.8" text-anchor="middle" fill="#333" textLength="14.80" lengthAdjust="spacingAndGlyphs" transform="rotate(-90 173.30 547.70)" >1160</text>
<text x="152.30" y="586.00" font-size="4.0" text-anchor="middle" fill="#777" transform="rotate(90 152.30 586.00)" >B</text>
<rect x="0" y="0" width="520" height="1.1" fill="#555"/><rect x="0" y="0" width="1.15" height="677" fill="#555"/><rect x="518.8" y="0" width="1.2" height="677" fill="#4a4a4a"/><rect x="0" y="675.7" width="520" height="1.3" fill="#383838"/>
</svg></div></body></html>
